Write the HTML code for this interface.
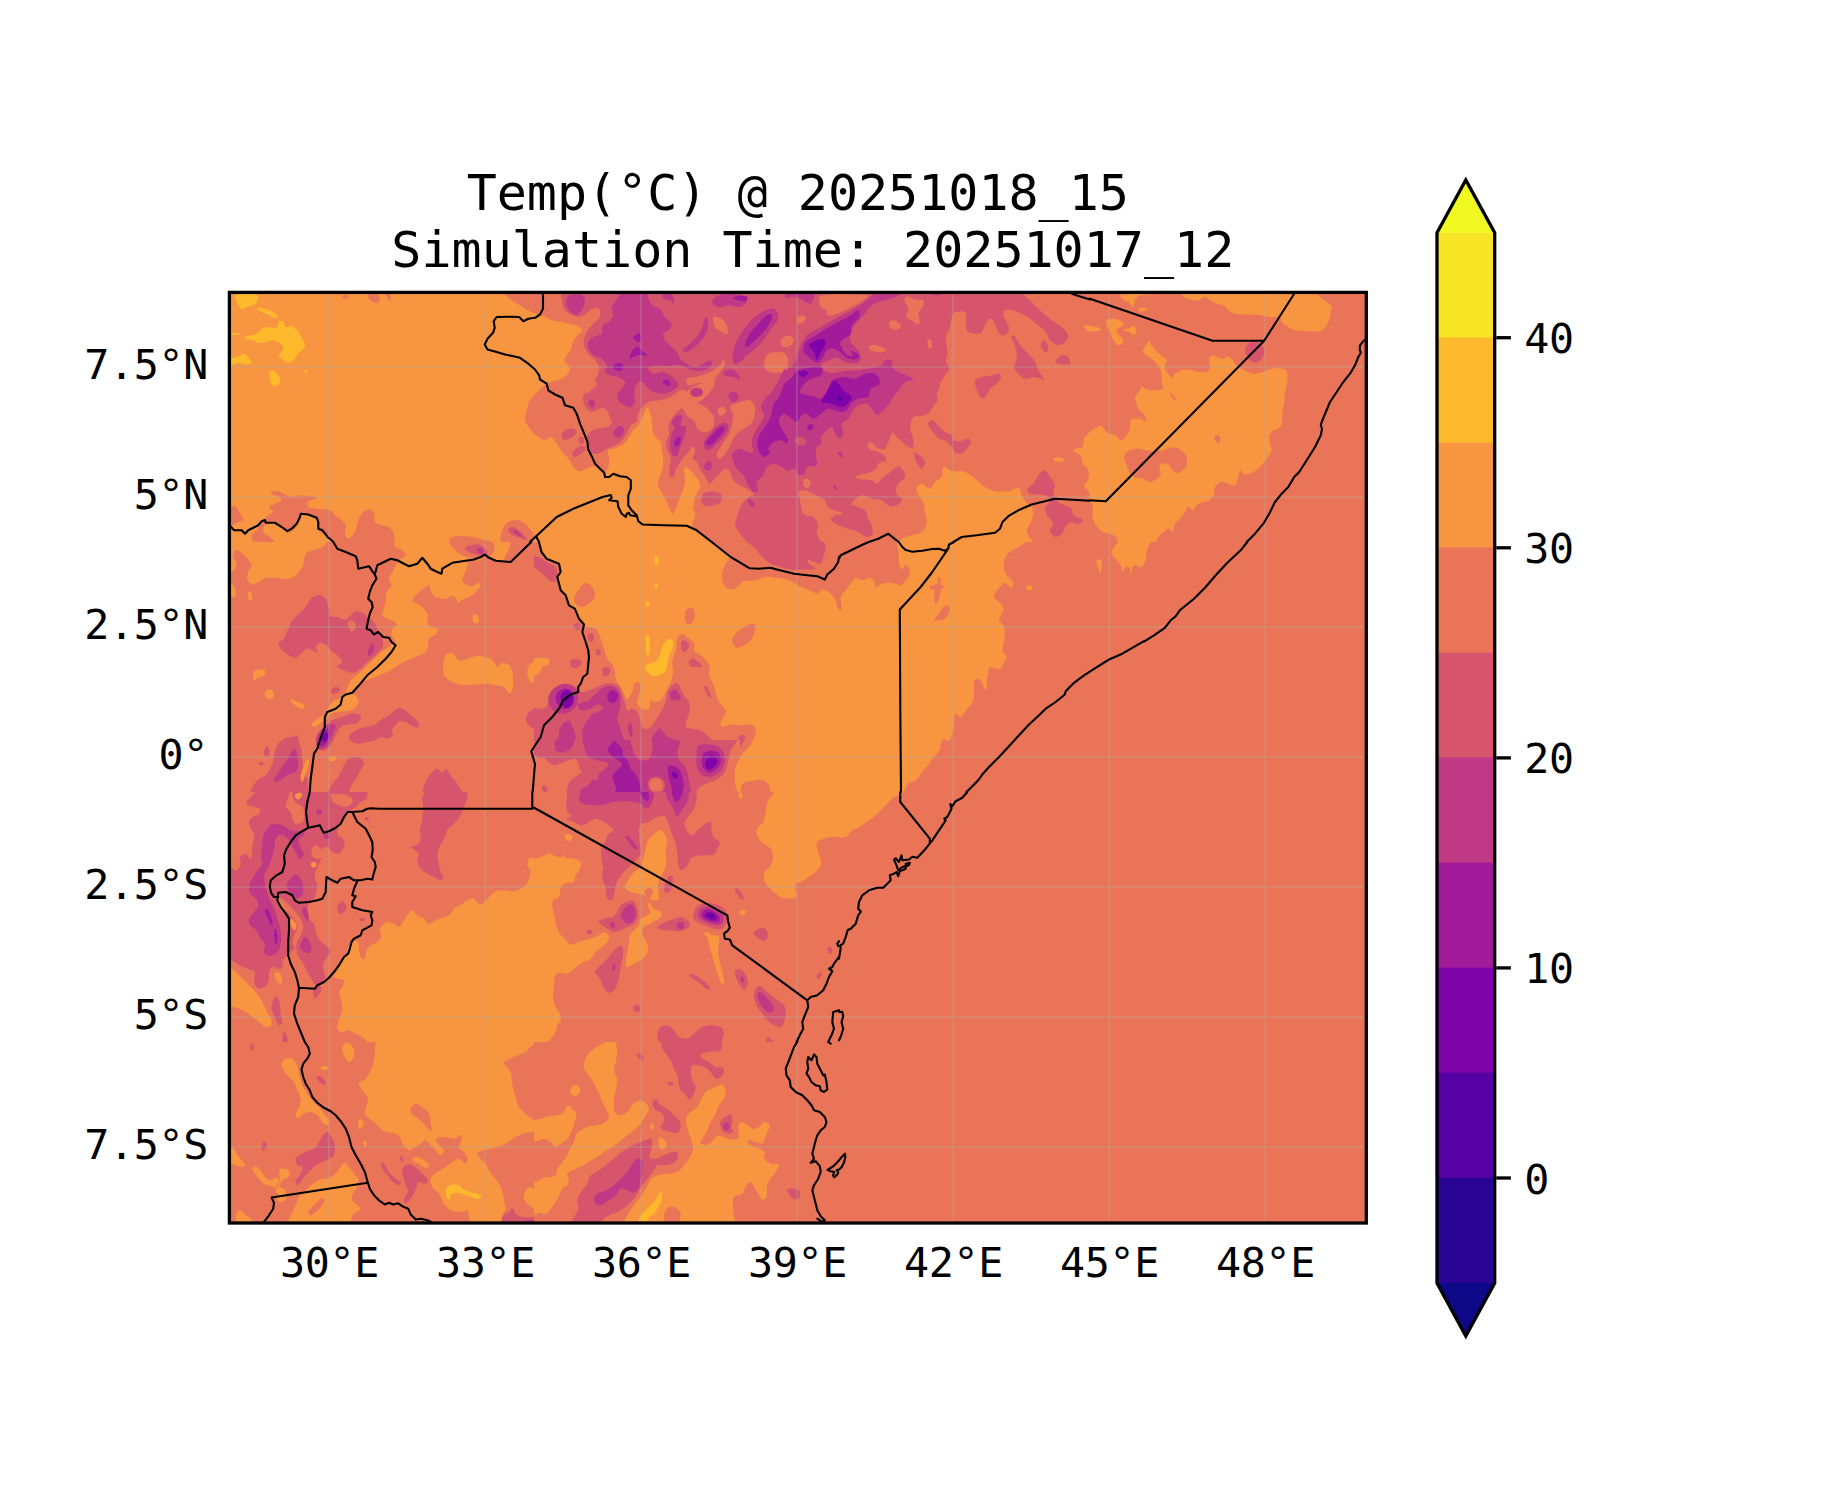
<!DOCTYPE html>
<html lang="en"><head><meta charset="utf-8"><title>Temp map</title>
<style>html,body{margin:0;padding:0;background:#fff}svg{display:block}text{font-family:"DejaVu Sans Mono","Liberation Mono",monospace;fill:#000}</style></head><body>
<svg width="1833" height="1500" viewBox="0 0 1833 1500">
<rect width="1833" height="1500" fill="#fff"/>
<defs><clipPath id="ax"><rect x="229.4" y="292.4" width="1136.9" height="930.6"/></clipPath></defs>
<g clip-path="url(#ax)">
<rect x="229.4" y="292.4" width="1136.9" height="930.6" fill="#ea7457"/>
<path fill="#f89540" d="M228.3 292L480 292L480 542L228.3 542ZM479.2 292L785 292L785 542L479.2 542ZM916.7 488.7C917.2 486.7 919.4 483.7 921.7 483.7C923.9 483.7 927.8 488.9 930 488.7C932.2 488.4 933.1 483.9 935 482C936.9 480.1 940.3 479.5 941.7 477C943.1 474.5 941.7 468 943.3 467C945 466 948.6 470.5 951.7 471.2C954.7 471.9 958.9 470.7 961.7 471.2C964.4 471.6 965.8 472.1 968.3 473.7C970.8 475.2 973.9 478.1 976.7 480.3C979.4 482.6 981.9 485.2 985 487C988.1 488.8 991.1 490.5 995 491.2C998.9 491.9 1004.4 491.7 1008.3 491.2C1012.2 490.6 1016.1 487.1 1018.3 487.8C1020.6 488.5 1020.4 493 1021.7 495.3C1022.9 497.7 1024.2 500.1 1025.8 502C1027.5 503.9 1030.4 504.8 1031.7 507C1032.9 509.2 1033.6 512.6 1033.3 515.3C1033.1 518.1 1031.1 520.9 1030 523.7C1028.9 526.4 1026.1 528.9 1026.7 532C1027.2 535.1 1033.3 542 1033.3 542C1033.3 542 900 542 900 542C900 542 899.7 539.8 901.7 538.7C903.6 537.6 908.3 536.4 911.7 535.3C915 534.2 919.2 533.9 921.7 532C924.2 530.1 926.1 527 926.7 523.7C927.2 520.3 925.6 515.6 925 512C924.4 508.4 924.4 504.8 923.3 502C922.2 499.2 919.4 497.6 918.3 495.3C917.2 493.1 916.1 490.6 916.7 488.7ZM1090 431.7C1090 431.7 1085.4 435.8 1084.2 438.3C1082.9 440.9 1083.9 445.4 1082.7 447C1081.4 448.6 1078.1 447.4 1076.5 448.2C1074.9 448.9 1072.6 450.1 1073.3 451.3C1074.1 452.6 1079.2 453.6 1080.8 455.8C1082.5 458 1082.1 462.3 1083.2 464.5C1084.3 466.7 1086.5 467.2 1087.5 468.8C1088.5 470.5 1089.3 472.5 1089.3 474.5C1089.3 476.5 1088.4 479 1087.5 480.8C1086.6 482.6 1083.7 483.9 1083.7 485.3C1083.7 486.8 1086.5 488.2 1087.5 489.7C1088.5 491.1 1089.4 492.6 1089.7 494C1089.9 495.4 1089.1 496.9 1089.2 498.3C1089.2 499.7 1090 502.3 1090 502.3C1090 502.3 1090 431.7 1090 431.7ZM1053.3 458.7C1053.8 458 1056.6 457.3 1058.3 457.3C1060.1 457.4 1063.1 458.3 1063.7 459C1064.2 459.7 1063 461.3 1061.7 461.7C1060.4 462.1 1057.2 461.8 1055.8 461.3C1054.4 460.8 1052.9 459.3 1053.3 458.7ZM1084.2 325.3C1084.6 324.5 1090 326.2 1090 326.2C1090 326.2 1090 332 1090 332C1090 332 1088.5 332.3 1087.5 331.2C1086.5 330.1 1083.8 326.2 1084.2 325.3ZM1090 431.7C1090 431.7 1094.7 428.8 1096.7 427.8C1098.6 426.9 1100 425.5 1101.7 426.2C1103.3 426.9 1104.4 430.5 1106.7 432C1108.9 433.5 1112.6 433.9 1115 435.3C1117.4 436.7 1118.9 440.3 1120.8 440.3C1122.8 440.3 1125.1 437.3 1126.7 435.3C1128.2 433.4 1129.3 431.2 1130 428.7C1130.7 426.2 1129.2 422 1130.8 420.3C1132.5 418.7 1137.5 418.4 1140 418.7C1142.5 418.9 1145 422.6 1145.8 422C1146.7 421.4 1146.2 417.6 1145 415.3C1143.8 413.1 1139.9 411.2 1138.3 408.7C1136.8 406.2 1136.4 402.3 1135.8 400.3C1135.3 398.4 1134.3 398.7 1135 397C1135.7 395.3 1138.9 392.1 1140 390.3C1141.1 388.5 1140.6 386.3 1141.7 386.2C1142.8 386 1144.2 388.8 1146.7 389.5C1149.2 390.2 1153.9 390.5 1156.7 390.3C1159.4 390.2 1161.8 389.8 1163.3 388.7C1164.9 387.6 1164.4 385.3 1165.8 383.7C1167.2 382 1170.1 380.3 1171.7 378.7C1173.2 377 1173.3 375.1 1175 373.7C1176.7 372.3 1179.2 371 1181.7 370.3C1184.2 369.6 1187.2 369.2 1190 369.5C1192.8 369.8 1195.6 371.6 1198.3 372C1201.1 372.4 1204.7 372.8 1206.7 372C1208.6 371.2 1209.6 369.2 1210 367C1210.4 364.8 1208.6 360.6 1209.2 358.7C1209.7 356.7 1211.8 355.5 1213.3 355.3C1214.9 355.2 1216.7 357.3 1218.3 357.8C1220 358.4 1221.9 358.9 1223.3 358.7C1224.7 358.4 1225.3 356.2 1226.7 356.2C1228.1 356.2 1230.3 357.4 1231.7 358.7C1233.1 359.9 1233.9 362.3 1235 363.7C1236.1 365.1 1236.7 365.9 1238.3 367C1240 368.1 1242.5 369.2 1245 370.3C1247.5 371.4 1250.3 373.4 1253.3 373.7C1256.4 373.9 1260.3 372.8 1263.3 372C1266.4 371.2 1268.6 369.2 1271.7 368.7C1274.7 368.1 1279.2 368.1 1281.7 368.7C1284.2 369.2 1285.7 370.1 1286.7 372C1287.6 373.9 1287.8 377 1287.5 380.3C1287.2 383.7 1285.6 388.4 1285 392C1284.4 395.6 1284.6 398.7 1284.2 402C1283.8 405.3 1282.9 408.4 1282.5 412C1282.1 415.6 1282.4 420.9 1281.7 423.7C1281 426.4 1279.9 427.4 1278.3 428.7C1276.8 429.9 1274 429.8 1272.5 431.2C1271 432.6 1269.6 434.9 1269.2 437C1268.8 439.1 1269.6 441.4 1270 443.7C1270.4 445.9 1272.2 447.8 1271.7 450.3C1271.1 452.8 1268.6 455.9 1266.7 458.7C1264.7 461.4 1262.2 464.8 1260 467C1257.8 469.2 1255.8 470.8 1253.3 472C1250.8 473.2 1247.2 474.8 1245 474.5C1242.8 474.2 1241.1 469.9 1240 470.3C1238.9 470.8 1239.2 474.5 1238.3 477C1237.5 479.5 1236.7 484.2 1235 485.3C1233.3 486.4 1230.6 484.2 1228.3 483.7C1226.1 483.1 1223.9 481.4 1221.7 482C1219.4 482.6 1216.2 485.1 1215 487C1213.8 488.9 1215 491.4 1214.2 493.7C1213.3 495.9 1211.8 498.9 1210 500.3C1208.2 501.7 1205.6 501.2 1203.3 502C1201.1 502.8 1198.3 503.9 1196.7 505.3C1195 506.7 1194.7 510.1 1193.3 510.3C1191.9 510.6 1189.7 506.7 1188.3 507C1186.9 507.3 1186.4 510.1 1185 512C1183.6 513.9 1181.7 516.7 1180 518.7C1178.3 520.6 1176.1 521.4 1175 523.7C1173.9 525.9 1174.4 531.2 1173.3 532C1172.2 532.8 1170 528.7 1168.3 528.7C1166.7 528.7 1165 530.6 1163.3 532C1161.7 533.4 1159.4 535.3 1158.3 537C1157.2 538.7 1156.7 542 1156.7 542C1156.7 542 1117.5 542 1117.5 542C1117.5 542 1117.3 537.4 1114.7 535.7C1112 533.9 1105.1 534.2 1101.5 531.3C1097.9 528.4 1094.2 522.4 1092.8 518.2C1091.4 513.9 1093.5 508.6 1093 506C1092.5 503.4 1090 502.3 1090 502.3C1090 502.3 1090 431.7 1090 431.7ZM1149.2 341.2C1150.1 341.2 1150.4 343.7 1151.7 345.3C1152.9 347 1154.7 349.2 1156.7 351.2C1158.6 353.1 1161.6 355.5 1163.3 357C1165.1 358.5 1166.7 358.9 1167 360.3C1167.3 361.7 1165.1 363.4 1165 365.3C1164.9 367.3 1165.6 369.8 1166.7 372C1167.8 374.2 1171.4 376.4 1171.7 378.7C1171.9 380.9 1169.7 383.8 1168.3 385.3C1166.9 386.9 1164.4 388.9 1163.3 387.8C1162.2 386.7 1162.1 381.6 1161.7 378.7C1161.2 375.8 1161.7 372.8 1160.8 370.3C1160 367.8 1158.2 365.6 1156.7 363.7C1155.1 361.7 1153.5 360.1 1151.7 358.7C1149.9 357.3 1147.3 356.6 1145.8 355.3C1144.4 354.1 1143 352.8 1143 351.2C1143 349.5 1144.8 347 1145.8 345.3C1146.9 343.7 1148.2 341.2 1149.2 341.2ZM1120.8 292C1120.8 292 1120.4 297 1121.7 298.7C1122.9 300.3 1126.4 300.6 1128.3 302C1130.3 303.4 1132.2 307.3 1133.3 307C1134.4 306.7 1134.2 302.1 1135 300.3C1135.8 298.5 1136.7 297.1 1138.3 296.2C1140 295.3 1141.9 295.3 1145 295C1148.1 294.7 1150.8 294.4 1156.7 294.3C1162.5 294.2 1175.6 293.9 1180 294.3C1184.4 294.8 1181.7 296.1 1183.3 297C1185 297.9 1187.5 298.9 1190 299.5C1192.5 300.1 1195.8 300.8 1198.3 300.3C1200.8 299.9 1203.1 297 1205 297C1206.9 297 1208.1 299.2 1210 300.3C1211.9 301.4 1214.4 302.8 1216.7 303.7C1218.9 304.5 1221.4 304.2 1223.3 305.3C1225.3 306.4 1226.4 308.9 1228.3 310.3C1230.3 311.7 1232.2 313 1235 313.7C1237.8 314.4 1241.4 314.4 1245 314.5C1248.6 314.6 1253.3 314.2 1256.7 314.5C1260 314.8 1262.2 315.8 1265 316.2C1267.8 316.6 1270.8 316.9 1273.3 317C1275.8 317.1 1278.6 316.2 1280 317C1281.4 317.8 1280.3 320.3 1281.7 322C1283.1 323.7 1286.1 325.6 1288.3 327C1290.6 328.4 1291.9 329.6 1295 330.3C1298.1 331 1302.5 331 1306.7 331.2C1310.8 331.3 1316.7 332.1 1320 331.2C1323.3 330.2 1325 327.7 1326.7 325.3C1328.3 323 1329.3 319.5 1330 317C1330.7 314.5 1330.4 312 1330.8 310.3C1331.2 308.7 1333.2 308.4 1332.5 307C1331.8 305.6 1328.8 303.7 1326.7 302C1324.6 300.3 1321.9 298.7 1320 297C1318.1 295.3 1315 292 1315 292C1315 292 1120.8 292 1120.8 292ZM1106.7 320.3C1107.8 319.2 1110.8 318.5 1113.3 318.7C1115.8 318.8 1120 320.1 1121.7 321.2C1123.3 322.3 1123.9 324.2 1123.3 325.3C1122.8 326.4 1119.4 326.7 1118.3 327.8C1117.2 328.9 1116.2 330.5 1116.7 332C1117.1 333.5 1119.7 335.3 1120.8 337C1121.9 338.7 1123.8 340.6 1123.3 342C1122.9 343.4 1120 345.6 1118.3 345.3C1116.7 345.1 1114.7 342.6 1113.3 340.3C1111.9 338.1 1111.1 334.5 1110 332C1108.9 329.5 1107.2 327.3 1106.7 325.3C1106.1 323.4 1105.6 321.4 1106.7 320.3ZM1124.2 329.5C1125 328.9 1128.3 328.4 1130 327.8C1131.7 327.3 1133.1 325.6 1134.2 326.2C1135.3 326.7 1136.8 329.7 1136.7 331.2C1136.5 332.6 1134.6 334.9 1133.3 335C1132.1 335.1 1130.6 332.3 1129.2 331.7C1127.8 331 1125.8 331.5 1125 331.2C1124.2 330.8 1123.3 330.1 1124.2 329.5ZM1090 326.2C1090 326.2 1094.7 326.4 1096.7 327C1098.6 327.6 1101.4 328.8 1101.7 329.5C1101.9 330.2 1100.3 330.9 1098.3 331.2C1096.4 331.4 1090 331.2 1090 331.2C1090 331.2 1090 326.2 1090 326.2ZM1138.7 308.3C1139.6 307.8 1144.5 307.5 1145.8 307.8C1147.2 308.2 1147.6 309.8 1146.7 310.3C1145.7 310.9 1141.3 311.7 1140 311.3C1138.7 311 1137.7 308.9 1138.7 308.3ZM229 542C229 542 327.3 542 327.3 542C327.3 542 324.8 545.6 322.3 547C319.8 548.4 315.1 549.2 312.3 550.3C309.6 551.4 307.1 552 305.7 553.7C304.3 555.3 304.6 558.1 304 560.3C303.4 562.6 303.4 564.8 302.3 567C301.2 569.2 299 571.9 297.3 573.7C295.7 575.5 294.6 576.9 292.3 577.8C290.1 578.7 286.8 579 284 579C281.2 579 278.7 578 275.7 577.8C272.6 577.6 268.4 577.1 265.7 577.8C262.9 578.5 261.2 580.9 259 582C256.8 583.1 254.3 584.9 252.3 584.5C250.4 584.1 248 581.6 247.3 579.5C246.6 577.4 247.5 574.4 248.2 572C248.9 569.6 251.6 567.6 251.5 565.3C251.4 563.1 249.1 560.9 247.3 558.7C245.5 556.4 242.6 553.4 240.7 552C238.7 550.6 236.9 549.5 235.7 550.3C234.4 551.2 233 554.8 233.2 557C233.3 559.2 236.4 561.4 236.5 563.7C236.6 565.9 235.2 568.9 234 570.3C232.8 571.7 229 572 229 572C229 572 229 542 229 542ZM393.2 542C393.2 542 510.7 542 510.7 542C510.7 542 509.8 546.4 509 548.7C508.2 550.9 506.8 553.4 505.7 555.3C504.6 557.3 504.3 559.8 502.3 560.3C500.4 560.9 496.2 559.5 494 558.7C491.8 557.8 490.4 555.6 489 555.3C487.6 555.1 487.3 556.2 485.7 557C484 557.8 481.8 559.6 479 560.3C476.2 561 470.9 560.1 469 561.2C467.1 562.3 468 564.9 467.3 567C466.6 569.1 465.7 571.6 464.8 573.7C464 575.8 462.2 577.7 462.3 579.5C462.5 581.3 464 583.4 465.7 584.5C467.3 585.6 470.1 586.4 472.3 586.2C474.6 585.9 477.6 583 479 582.8C480.4 582.7 481.2 583.8 480.7 585.3C480.1 586.9 477.6 590.1 475.7 592C473.7 593.9 471.2 595.8 469 597C466.8 598.2 464.1 598.5 462.3 599.5C460.5 600.5 459.6 603.4 458.2 602.8C456.8 602.3 456.1 596.9 454 596.2C451.9 595.5 448.4 598.4 445.7 598.7C442.9 598.9 439.7 598.8 437.3 597.8C435 596.9 432.9 594.9 431.5 592.8C430.1 590.8 430.5 586.2 429 585.7C427.5 585.1 424.4 588 422.3 589.5C420.3 591 418.2 592.7 416.5 594.5C414.8 596.3 412.2 598.8 412.3 600.3C412.5 601.9 415.7 602.6 417.3 603.7C419 604.8 420.5 605.1 422.3 607C424.1 608.9 427.3 612.8 428.2 615.3C429 617.8 427.1 620.2 427.3 622C427.6 623.8 428.2 625.1 429.8 626.2C431.5 627.3 436.4 627.3 437.3 628.7C438.3 630.1 437.1 632.8 435.7 634.5C434.3 636.2 430.2 636.7 429 638.7C427.8 640.6 428.7 643.9 428.2 646.2C427.6 648.4 427.5 650.3 425.7 652C423.9 653.7 420.1 654.9 417.3 656.2C414.6 657.4 411.5 658.4 409 659.5C406.5 660.6 404.6 661.6 402.3 662.8C400.1 664.1 398.2 665.5 395.7 667C393.2 668.5 390.1 670.6 387.3 672C384.6 673.4 381.8 674.2 379 675.3C376.2 676.4 373.4 677.6 370.7 678.7C367.9 679.8 364.7 680.5 362.3 682C360 683.5 358 686 356.5 687.8C355 689.6 353 691.2 353.2 692.8C353.3 694.5 356.5 696.2 357.3 697.8C358.2 699.5 358.7 701 358.2 702.8C357.6 704.6 356.1 707.3 354 708.7C351.9 710.1 348.7 710.6 345.7 711.2C342.6 711.8 338.4 711.6 335.7 712.3C332.9 713 330.8 714.1 329 715.3C327.2 716.5 326.4 718.1 324.8 719.5C323.3 720.9 321.6 722.4 319.8 723.7C318 724.9 315.3 727 314 727C312.7 727 311.7 724.8 312 723.7C312.3 722.5 313.9 721.3 315.7 720C317.4 718.7 320.5 717.1 322.3 715.7C324.1 714.2 325.4 712.8 326.5 711.2C327.6 709.6 327.9 707.8 329 706.2C330.1 704.5 331.5 702.4 333.2 701.2C334.8 699.9 336.9 700.2 339 698.7C341.1 697.1 344.1 694.2 345.7 692C347.2 689.8 347.1 687.6 348.2 685.3C349.3 683.1 350 681.2 352.3 678.7C354.7 676.2 359 673.4 362.3 670.3C365.7 667.3 369.6 663.1 372.3 660.3C375.1 657.6 376.8 655.6 379 653.7C381.2 651.7 383.6 650.2 385.7 648.7C387.7 647.1 389.8 645.6 391.5 644.5C393.2 643.4 395.7 643.5 395.7 642C395.7 640.5 392.1 637.6 391.5 635.3C390.9 633.1 391.5 630.3 392.3 628.7C393.2 627 396.2 626.6 396.5 625.3C396.8 624.1 395.5 622.3 394 621.2C392.5 620.1 389.3 619.6 387.3 618.7C385.4 617.7 382.9 617 382.3 615.3C381.8 613.7 383.4 611.2 384 608.7C384.6 606.2 385.2 603.1 385.7 600.3C386.1 597.6 385.5 594.5 386.5 592C387.5 589.5 391.1 587.6 391.5 585.3C391.9 583.1 388.7 581.2 389 578.7C389.3 576.2 391.5 573.4 393.2 570.3C394.8 567.3 396.9 562.8 399 560.3C401.1 557.8 405.1 557 405.7 555.3C406.2 553.7 404 551.7 402.3 550.3C400.7 548.9 397.2 548.4 395.7 547C394.1 545.6 393.2 542 393.2 542ZM444 658.7C444.7 656.4 445.7 654.4 447.3 653.7C449 653 452.1 653.4 454 654.5C455.9 655.6 456.8 659.6 459 660.3C461.2 661 464.6 659.4 467.3 658.7C470.1 658 472.6 656.4 475.7 656.2C478.7 655.9 482.9 656.3 485.7 657C488.4 657.7 490.4 658.7 492.3 660.3C494.3 662 495.7 666.6 497.3 667C499 667.4 500.4 663.1 502.3 662.8C504.3 662.6 507.3 663.8 509 665.3C510.7 666.9 511.6 669.5 512.3 672C513 674.5 513.2 677.3 513.2 680.3C513.2 683.4 513 688.2 512.3 690.3C511.6 692.4 510.4 693.4 509 692.8C507.6 692.3 506.2 688.2 504 687C501.8 685.8 498.4 685.9 495.7 685.3C492.9 684.8 490.7 683.8 487.3 683.7C484 683.5 479.3 684.2 475.7 684.5C472.1 684.8 468.7 685.5 465.7 685.3C462.6 685.2 460.1 684.5 457.3 683.7C454.6 682.8 451.2 681.7 449 680.3C446.8 678.9 445 677.6 444 675.3C443 673.1 443.2 669.8 443.2 667C443.2 664.2 443.3 660.9 444 658.7ZM534 662C534 662 530.1 663.4 529 665.3C527.9 667.3 527.1 670.9 527.3 673.7C527.6 676.4 529.6 680.6 530.7 682C531.8 683.4 534 682 534 682C534 682 534 662 534 662ZM253.2 672C254 670.2 257.1 669.8 259 669.5C260.9 669.2 264 669.4 264.8 670.3C265.7 671.3 265.2 674.1 264 675.3C262.8 676.6 259 677 257.3 677.8C255.7 678.7 254.7 681.3 254 680.3C253.3 679.4 252.3 673.8 253.2 672ZM265.3 691.2C266.4 689.9 270.9 689.3 272.3 690C273.8 690.7 274.1 693.9 274 695.3C273.9 696.8 272.8 698.2 271.5 698.7C270.2 699.1 267 699.1 266 697.8C265 696.6 264.3 692.5 265.3 691.2ZM290.3 698.7C290.9 698.4 293.4 700.2 295.7 701.2C297.9 702.1 302.8 703.2 304 704.5C305.2 705.8 304.3 708.8 303.2 709.2C302.1 709.6 299.1 708.1 297.3 707C295.5 705.9 293.5 704.2 292.3 702.8C291.2 701.4 289.8 698.9 290.3 698.7ZM472.7 616.2C473.1 614.8 474.6 613.6 475.7 614C476.7 614.4 478.7 617.1 479 618.7C479.3 620.2 478.3 622.8 477.3 623.3C476.4 623.9 473.9 623.2 473.2 622C472.4 620.8 472.2 617.5 472.7 616.2ZM231.5 584.5C232.3 583.7 234.1 585.2 234.8 587C235.5 588.8 236.1 593.7 235.7 595.3C235.2 597 233.3 597.6 232.3 597C231.4 596.4 230 594.1 229.8 592C229.7 589.9 230.7 585.3 231.5 584.5ZM248.2 592C248.6 590.9 250.9 592.4 251.5 593.7C252.1 594.9 252.4 598.4 252 599.5C251.6 600.6 249.6 601.6 249 600.3C248.4 599.1 247.8 593.1 248.2 592ZM329.3 756.7C330.3 755.9 334.6 755.6 335.7 756.2C336.7 756.8 336.6 759.6 335.7 760.3C334.7 761.1 330.9 761.3 329.8 760.7C328.8 760.1 328.4 757.4 329.3 756.7ZM534 542L839 542L839 792L534 792ZM839 610.3C839 610.3 841.2 610.9 841.5 608.7C841.8 606.4 840 600.1 840.7 597C841.4 593.9 844 592.6 845.7 590.3C847.3 588.1 849 585.8 850.7 583.7C852.3 581.6 853.7 578.4 855.7 577.8C857.6 577.3 860.1 580.3 862.3 580.3C864.6 580.3 867.1 577.8 869 577.8C870.9 577.8 872.9 578.8 874 580.3C875.1 581.9 874.3 586.4 875.7 587C877.1 587.6 880.1 584.4 882.3 583.7C884.6 583 886.8 582.8 889 582.8C891.2 582.8 893.7 583.2 895.7 583.7C897.6 584.1 899 585.9 900.7 585.3C902.3 584.8 904.1 582.3 905.7 580.3C907.2 578.4 909.3 575.6 909.8 573.7C910.4 571.7 909.7 570.1 909 568.7C908.3 567.3 906.9 565.2 905.7 565.3C904.4 565.5 902.6 570.1 901.5 569.5C900.4 568.9 899.6 564.9 899 562C898.4 559.1 898.4 554.8 898.2 552C897.9 549.2 897.6 547 897.3 545.3C897.1 543.7 896.5 542 896.5 542C896.5 542 1025.7 542 1025.7 542C1025.7 542 1021.5 545.5 1019 547C1016.5 548.5 1012.9 549.5 1010.7 551.2C1008.4 552.8 1006.8 554.6 1005.7 557C1004.6 559.4 1004 562.6 1004 565.3C1004 568.1 1004.6 571.4 1005.7 573.7C1006.8 575.9 1009.4 577 1010.7 578.7C1011.9 580.3 1013.2 582.1 1013.2 583.7C1013.2 585.2 1011.9 588 1010.7 587.8C1009.4 587.7 1007.2 583.2 1005.7 582.8C1004.1 582.4 1003 583.9 1001.5 585.3C1000 586.7 997.8 589.2 996.5 591.2C995.2 593.1 993.6 595.2 994 597C994.4 598.8 997.5 600.3 999 602C1000.5 603.7 1002.5 605.3 1003.2 607C1003.9 608.7 1003.9 609.9 1003.2 612C1002.5 614.1 999 617.3 999 619.5C999 621.7 1002.2 623.5 1003.2 625.3C1004.1 627.1 1004.7 627.6 1004.8 630.3C1005 633.1 1004.4 638.7 1004 642C1003.6 645.3 1001.9 647.8 1002.3 650.3C1002.8 652.8 1006.2 655.1 1006.5 657C1006.8 658.9 1005.2 659.9 1004 662C1002.8 664.1 1001.4 668.7 999 669.5C996.6 670.3 991.6 666.3 989.8 667C988 667.7 988.7 671.4 988.2 673.7C987.6 675.9 986.6 678.1 986.5 680.3C986.4 682.6 987.6 685.5 987.3 687C987.1 688.5 985.9 690.6 984.8 689.5C983.7 688.4 982.3 682 980.7 680.3C979 678.7 975.9 678.1 974.8 679.5C973.7 680.9 974.3 685.2 974 688.7C973.7 692.1 974.3 697 973.2 700.3C972.1 703.7 969.4 705.9 967.3 708.7C965.2 711.4 962.6 716.2 960.7 717C958.7 717.8 956.8 712.8 955.7 713.7C954.6 714.5 954.4 718.9 954 722C953.6 725.1 954 728.9 953.2 732C952.3 735.1 950.8 739.1 949 740.3C947.2 741.6 943.9 738.1 942.3 739.5C940.8 740.9 940.9 746 939.8 748.7C938.7 751.3 937.5 752.8 935.7 755.3C933.9 757.8 931.2 760.9 929 763.7C926.8 766.4 924.6 769.2 922.3 772C920.1 774.8 917.9 778.5 915.7 780.3C913.4 782.1 910.7 781.4 909 782.8C907.3 784.2 906.5 787.1 905.7 788.7C904.8 790.2 904 792 904 792C904 792 839 792 839 792C839 792 839 610.3 839 610.3ZM1119 542C1119 542 1115.2 545.1 1114 547C1112.8 548.9 1111.2 551.7 1111.5 553.7C1111.8 555.6 1114.1 556.7 1115.7 558.7C1117.2 560.6 1119.6 563.2 1120.7 565.3C1121.8 567.4 1121.5 570.9 1122.3 571.2C1123.2 571.4 1124.4 567.4 1125.7 567C1126.9 566.6 1129.1 567 1129.8 568.7C1130.5 570.3 1129.6 576.7 1129.8 577C1130.1 577.3 1130.8 572.3 1131.5 570.3C1132.2 568.4 1132.5 565.9 1134 565.3C1135.5 564.8 1139 567 1140.7 567C1142.3 567 1144 565.3 1144 565.3C1144 565.3 1144 542 1144 542C1144 542 1119 542 1119 542ZM1096.5 560.3C1097.1 559.2 1100.7 558.9 1101.5 560C1102.3 561.1 1101.8 564.9 1101.5 567C1101.2 569.1 1100.5 572.8 1099.8 572.8C1099.2 572.8 1098.2 569.1 1097.7 567C1097.1 564.9 1095.9 561.5 1096.5 560.3ZM1026.5 586.2C1027.3 585.5 1031.6 585 1032.3 585.7C1033 586.4 1031.5 589.7 1030.7 590.3C1029.8 591 1028 590.2 1027.3 589.5C1026.6 588.8 1025.7 586.8 1026.5 586.2ZM1144 542C1144 542 1150.7 542 1150.7 542C1150.7 542 1148.2 547.3 1147.3 550.3C1146.5 553.4 1146.2 558.4 1145.7 560.3C1145.1 562.3 1144 562 1144 562C1144 562 1144 542 1144 542ZM534 857.8C534 857.8 530.1 857.4 529 858.7C527.9 859.9 527.1 863.1 527.3 865.3C527.6 867.6 530.4 869.8 530.7 872C530.9 874.2 529.8 876.4 529 878.7C528.2 880.9 527.3 883.5 525.7 885.3C524 887.1 521.2 888.5 519 889.5C516.8 890.5 514.8 891 512.3 891.2C509.8 891.3 506.8 890.3 504 890.3C501.2 890.3 498.2 890.1 495.7 891.2C493.2 892.3 491.2 894.9 489 897C486.8 899.1 484.3 902.7 482.3 903.7C480.4 904.6 478.6 903.7 477.3 902.8C476.1 902 476.2 899.2 474.8 898.7C473.4 898.1 471.1 898.7 469 899.5C466.9 900.3 464.8 902.1 462.3 903.7C459.8 905.2 456.2 906.7 454 908.7C451.8 910.6 451.5 913.7 449 915.3C446.5 917 442.3 917.3 439 918.7C435.7 920.1 431.5 923.7 429 923.7C426.5 923.7 425.9 920.1 424 918.7C422.1 917.3 419.3 916.7 417.3 915.3C415.4 913.9 413.9 910.6 412.3 910.3C410.8 910.1 409.6 912 408.2 913.7C406.8 915.3 405.5 918.1 404 920.3C402.5 922.6 400.7 926.4 399 927C397.3 927.6 395.9 924.5 394 923.7C392.1 922.8 389.3 921.7 387.3 922C385.4 922.3 383.6 923.9 382.3 925.3C381.1 926.7 380 928.4 379.8 930.3C379.7 932.3 381.9 935.1 381.5 937C381.1 938.9 379.1 940.6 377.3 942C375.5 943.4 372.5 943.9 370.7 945.3C368.9 946.7 367.5 948.1 366.5 950.3C365.5 952.6 365.8 957.6 364.8 958.7C363.9 959.8 361.6 958.4 360.7 957C359.7 955.6 359.4 952.8 359 950.3C358.6 947.8 359 943.5 358.2 942C357.3 940.5 355.5 940.6 354 941.2C352.5 941.7 350.1 943.5 349 945.3C347.9 947.1 348.2 949.8 347.3 952C346.5 954.2 345.4 956.4 344 958.7C342.6 960.9 340.4 963.1 339 965.3C337.6 967.6 336.6 970.1 335.7 972C334.7 973.9 332.6 975.9 333.2 977C333.7 978.1 337.2 978.1 339 978.7C340.8 979.2 343.4 978.9 344 980.3C344.6 981.7 343.2 985.1 342.3 987C341.5 988.9 339.3 990.1 339 992C338.7 993.9 340.1 996.2 340.7 998.7C341.2 1001.2 342.3 1004.2 342.3 1007C342.3 1009.8 341.4 1012.8 340.7 1015.3C340 1017.8 338.7 1019.8 338.2 1022C337.6 1024.2 336.6 1027 337.3 1028.7C338 1030.3 340.4 1031.7 342.3 1032C344.3 1032.3 346.8 1030.1 349 1030.3C351.2 1030.6 353.4 1032.6 355.7 1033.7C357.9 1034.8 360.4 1035.6 362.3 1037C364.3 1038.4 367.3 1042 367.3 1042C367.3 1042 534 1042 534 1042C534 1042 534 857.8 534 857.8ZM229 967C229 967 232.3 968.9 234 970.3C235.7 971.7 237.3 973.7 239 975.3C240.7 977 242.1 978.4 244 980.3C245.9 982.3 248.7 985.1 250.7 987C252.6 988.9 254 990.1 255.7 992C257.3 993.9 259.3 996.4 260.7 998.7C262.1 1000.9 262.8 1002.8 264 1005.3C265.2 1007.8 266.9 1011.2 268.2 1013.7C269.4 1016.2 271.1 1018.4 271.5 1020.3C271.9 1022.3 271.6 1024.2 270.7 1025.3C269.7 1026.4 267.6 1027.6 265.7 1027C263.7 1026.4 261.2 1023.7 259 1022C256.8 1020.3 254.6 1018.7 252.3 1017C250.1 1015.3 247.9 1013.4 245.7 1012C243.4 1010.6 240.9 1009.5 239 1008.7C237.1 1007.8 235.7 1007.6 234 1007C232.3 1006.4 229 1005.3 229 1005.3C229 1005.3 229 967 229 967ZM534 858.7C534 858.7 538.2 857.8 540.7 857C543.2 856.2 546.5 853.8 549 853.7C551.5 853.5 553.4 855.6 555.7 856.2C557.9 856.7 561.1 858 562.3 857C563.6 856 562.8 850.3 563.2 850.3C563.6 850.3 563 855.6 564.8 857C566.6 858.4 571.4 857.8 574 858.7C576.6 859.5 579.7 860.3 580.7 862C581.6 863.7 580.7 866.4 579.8 868.7C579 870.9 576.6 873.1 575.7 875.3C574.7 877.6 575.4 880.8 574 882C572.6 883.2 569.3 882.3 567.3 882.8C565.4 883.4 563.6 883.8 562.3 885.3C561.1 886.9 560.4 890.1 559.8 892C559.3 893.9 560.1 895.6 559 897C557.9 898.4 554.3 898.7 553.2 900.3C552.1 902 552.1 904.2 552.3 907C552.6 909.8 554.1 913.9 554.8 917C555.5 920.1 555.7 922.6 556.5 925.3C557.3 928.1 558.3 931.3 559.8 933.7C561.4 936 563.9 937.7 565.7 939.5C567.5 941.3 568.4 944.1 570.7 944.5C572.9 944.9 576.2 942.8 579 942C581.8 941.2 584.6 940.3 587.3 939.5C590.1 938.7 593.2 938.1 595.7 937C598.2 935.9 600.4 933.4 602.3 932.8C604.3 932.3 606.2 932.7 607.3 933.7C608.4 934.6 609.3 937 609 938.7C608.7 940.3 607.1 942.1 605.7 943.7C604.3 945.2 602.3 946.4 600.7 947.8C599 949.2 597.3 950.2 595.7 952C594 953.8 592.6 957 590.7 958.7C588.7 960.3 586.2 960.8 584 962C581.8 963.2 579.3 964.8 577.3 966.2C575.4 967.6 574 969.1 572.3 970.3C570.7 971.6 569.6 973.2 567.3 973.7C565.1 974.1 561.1 972.3 559 972.8C556.9 973.4 555.7 974.9 554.8 977C554 979.1 554.3 982 554 985.3C553.7 988.7 552.9 993.4 553.2 997C553.4 1000.6 554.6 1004.2 555.7 1007C556.8 1009.8 559 1011.4 559.8 1013.7C560.7 1015.9 561.1 1018.4 560.7 1020.3C560.2 1022.3 558.2 1023.4 557.3 1025.3C556.5 1027.3 556.8 1029.8 555.7 1032C554.6 1034.2 552.1 1037 550.7 1038.7C549.3 1040.3 547.3 1042 547.3 1042C547.3 1042 534 1042 534 1042C534 1042 534 858.7 534 858.7ZM624.8 887C624.6 884.8 627.5 881.2 629 878.7C630.5 876.2 632.1 873.9 634 872C635.9 870.1 639.1 869.2 640.7 867C642.2 864.8 642.3 861.7 643.2 858.7C644 855.6 645 851.4 645.7 848.7C646.4 845.9 646.5 843.9 647.3 842C648.2 840.1 649 838.8 650.7 837C652.3 835.2 655.5 832.3 657.3 831.2C659.1 830.1 660.1 829.6 661.5 830.3C662.9 831 664.7 833.4 665.7 835.3C666.6 837.3 667.3 839.5 667.3 842C667.3 844.5 665.8 847.6 665.7 850.3C665.5 853.1 666.5 855.9 666.5 858.7C666.5 861.4 666.4 864.5 665.7 867C665 869.5 663.4 871.4 662.3 873.7C661.2 875.9 659.7 877.8 659 880.3C658.3 882.8 658.2 885.6 658.2 888.7C658.2 891.7 659.7 896.7 659 898.7C658.3 900.6 655.7 900.3 654 900.3C652.3 900.3 650.7 899.5 649 898.7C647.3 897.8 645.9 896.2 644 895.3C642.1 894.5 639.6 894.2 637.3 893.7C635.1 893.1 632.8 893.1 630.7 892C628.6 890.9 625.1 889.2 624.8 887ZM649 902C650 902.3 652.1 907 654 908.7C655.9 910.3 659.4 910.8 660.7 912C661.9 913.2 662.3 914.8 661.5 916.2C660.7 917.6 657.5 919.1 655.7 920.3C653.9 921.6 652.6 922.6 650.7 923.7C648.7 924.8 645.4 925.3 644 927C642.6 928.7 642.1 931.4 642.3 933.7C642.6 935.9 644.7 938.1 645.7 940.3C646.6 942.6 648.2 944.5 648.2 947C648.2 949.5 646.9 953.1 645.7 955.3C644.4 957.6 642.6 958.9 640.7 960.3C638.7 961.7 636.2 962.6 634 963.7C631.8 964.8 628.7 967.3 627.3 967C625.9 966.7 625.7 964.2 625.7 962C625.7 959.8 626.8 957 627.3 953.7C627.9 950.3 628.6 945.1 629 942C629.4 938.9 629 937.3 629.8 935.3C630.7 933.4 632.5 932 634 930.3C635.5 928.7 637.9 927.3 639 925.3C640.1 923.4 639.3 920.3 640.7 918.7C642.1 917 645.7 916.4 647.3 915.3C649 914.2 650.5 913.4 650.7 912C650.8 910.6 648.4 908.7 648.2 907C647.9 905.3 648 901.7 649 902ZM765.7 812C766.4 808.7 766.2 804.8 767.3 802C768.4 799.2 771.2 797 772.3 795.3C773.4 793.7 774 792 774 792C774 792 839 792 839 792C839 792 839 837 839 837C839 837 834.8 836.7 832.3 837C829.8 837.3 826.5 837.8 824 838.7C821.5 839.5 818.4 840.1 817.3 842C816.2 843.9 816.8 847.6 817.3 850.3C817.9 853.1 820.1 856.2 820.7 858.7C821.2 861.2 821.5 863.1 820.7 865.3C819.8 867.6 817.6 870.1 815.7 872C813.7 873.9 811.5 875.3 809 877C806.5 878.7 802.9 880.9 800.7 882C798.4 883.1 796.5 882 795.7 883.7C794.8 885.3 795.5 889.9 795.7 892C795.8 894.1 797.3 895.1 796.5 896.2C795.7 897.3 793.3 898.5 790.7 898.7C788 898.8 783.4 898.1 780.7 897C777.9 895.9 776.2 893.9 774 892C771.8 890.1 769 887.6 767.3 885.3C765.7 883.1 764.4 880.9 764 878.7C763.6 876.4 763.7 874.2 764.8 872C765.9 869.8 769.3 867.8 770.7 865.3C772.1 862.8 773.2 859.8 773.2 857C773.2 854.2 772.2 850.9 770.7 848.7C769.1 846.4 765.9 845.3 764 843.7C762.1 842 760.2 840.8 759 838.7C757.8 836.6 756.6 833.1 756.5 831.2C756.4 829.2 757.1 828.5 758.2 827C759.3 825.5 761.9 824.5 763.2 822C764.4 819.5 765 815.3 765.7 812ZM704 933.7C704 932.7 705.9 931.7 707.3 932C708.7 932.3 710.4 934.6 712.3 935.3C714.3 936 717.9 935.1 719 936.2C720.1 937.3 719.1 939.4 719 942C718.9 944.6 718 948.7 718.2 952C718.3 955.3 719.1 958.7 719.8 962C720.5 965.3 721.6 968.7 722.3 972C723 975.3 724.1 980.1 724 982C723.9 983.9 722.5 984.8 721.5 983.7C720.5 982.6 719.3 978.7 718.2 975.3C717.1 972 715.9 967.3 714.8 963.7C713.7 960.1 712.5 957 711.5 953.7C710.5 950.3 709.7 946.3 709 943.7C708.3 941 708.2 939.5 707.3 937.8C706.5 936.2 704 934.6 704 933.7ZM564.8 835.3C565.2 834.2 567.7 833.4 569 833.7C570.3 833.9 572.5 835.8 572.7 837C572.8 838.2 570.9 840.6 569.8 841.2C568.8 841.7 567.3 841.3 566.5 840.3C565.7 839.4 564.4 836.4 564.8 835.3ZM738.2 793.7C738.4 792.7 740.8 792.3 741.5 792.8C742.2 793.4 742.9 796 742.7 797C742.4 798 740.6 799.2 739.8 798.7C739.1 798.1 737.9 794.6 738.2 793.7ZM739.3 911.2C739.9 910.4 742.1 909.3 743.2 909.5C744.3 909.7 746 911.4 746 912.3C746 913.2 744.2 914.7 743.2 915C742.1 915.3 740.5 914.6 739.8 914C739.2 913.4 738.8 911.9 739.3 911.2ZM839 792C839 792 904 792 904 792C904 792 902.3 794.5 900.7 795.3C899 796.2 895.9 795.9 894 797C892.1 798.1 890.9 800.1 889 802C887.1 803.9 884.6 806.4 882.3 808.7C880.1 810.9 877.9 813.4 875.7 815.3C873.4 817.3 871.2 818.7 869 820.3C866.8 822 864.6 823.9 862.3 825.3C860.1 826.7 857.6 827.7 855.7 828.7C853.7 829.6 852.1 829.9 850.7 831.2C849.3 832.4 849.3 835.1 847.3 836.2C845.4 837.3 839 837.8 839 837.8C839 837.8 839 792 839 792ZM375.7 1042C375.7 1042 375.1 1047.3 374.8 1050.3C374.6 1053.4 374.7 1057 374 1060.3C373.3 1063.7 372.1 1067.3 370.7 1070.3C369.3 1073.4 367.6 1076.4 365.7 1078.7C363.7 1080.9 359.6 1081.7 359 1083.7C358.4 1085.6 360.9 1088.1 362.3 1090.3C363.7 1092.6 366.5 1094.8 367.3 1097C368.2 1099.2 367.8 1101.2 367.3 1103.7C366.9 1106.2 364.8 1109.8 364.8 1112C364.8 1114.2 365.8 1115.3 367.3 1117C368.9 1118.7 372.1 1120.3 374 1122C375.9 1123.7 377.1 1125.3 379 1127C380.9 1128.7 382.9 1130.9 385.7 1132C388.4 1133.1 393.2 1132.6 395.7 1133.7C398.2 1134.8 399.6 1137 400.7 1138.7C401.8 1140.3 400.9 1141.7 402.3 1143.7C403.7 1145.6 407.3 1149.5 409 1150.3C410.7 1151.2 410.4 1149.8 412.3 1148.7C414.3 1147.6 418.4 1145.1 420.7 1143.7C422.9 1142.3 424 1140.1 425.7 1140.3C427.3 1140.6 429 1143.7 430.7 1145.3C432.3 1147 434 1148.7 435.7 1150.3C437.3 1152 439.3 1155.3 440.7 1155.3C442.1 1155.3 444.3 1152 444 1150.3C443.7 1148.7 440.4 1147.3 439 1145.3C437.6 1143.4 434.6 1140.1 435.7 1138.7C436.8 1137.3 442.6 1137 445.7 1137C448.7 1137 451.4 1138.9 454 1138.7C456.6 1138.4 460.4 1134.8 461.5 1135.3C462.6 1135.9 461.1 1139.8 460.7 1142C460.2 1144.2 458.4 1147 459 1148.7C459.6 1150.3 462.6 1150.3 464 1152C465.4 1153.7 467.1 1156.7 467.3 1158.7C467.6 1160.6 467.1 1163.7 465.7 1163.7C464.3 1163.7 461.2 1158.9 459 1158.7C456.8 1158.4 454.6 1160.6 452.3 1162C450.1 1163.4 448.2 1165.3 445.7 1167C443.2 1168.7 439.8 1170.1 437.3 1172C434.8 1173.9 431.5 1176.2 430.7 1178.7C429.8 1181.2 430.9 1184.5 432.3 1187C433.7 1189.5 437.1 1190.9 439 1193.7C440.9 1196.4 442.1 1200.9 444 1203.7C445.9 1206.4 447.9 1208.9 450.7 1210.3C453.4 1211.7 457.9 1212 460.7 1212C463.4 1212 465.9 1209.5 467.3 1210.3C468.7 1211.2 468.6 1214.6 469 1217C469.4 1219.4 469.8 1224.5 469.8 1224.5C469.8 1224.5 534 1224.5 534 1224.5C534 1224.5 534 1042 534 1042C534 1042 375.7 1042 375.7 1042ZM281.5 1063.7C281.9 1061.9 283.9 1059.5 285.7 1058.7C287.5 1057.8 290.4 1057.6 292.3 1058.7C294.3 1059.8 296.2 1062.6 297.3 1065.3C298.4 1068.1 298.2 1072 299 1075.3C299.8 1078.7 300.9 1082.3 302.3 1085.3C303.7 1088.4 305.7 1091.2 307.3 1093.7C309 1096.2 310.4 1098.1 312.3 1100.3C314.3 1102.6 317.1 1104.8 319 1107C320.9 1109.2 322.3 1111.4 324 1113.7C325.7 1115.9 328.4 1118.4 329 1120.3C329.6 1122.3 328.4 1125.1 327.3 1125.3C326.2 1125.6 324 1123.7 322.3 1122C320.7 1120.3 319.3 1117 317.3 1115.3C315.4 1113.7 312.9 1112.3 310.7 1112C308.4 1111.7 306.2 1112.6 304 1113.7C301.8 1114.8 298.7 1118.7 297.3 1118.7C295.9 1118.7 295.4 1115.6 295.7 1113.7C295.9 1111.7 298.2 1109.5 299 1107C299.8 1104.5 300.9 1101.4 300.7 1098.7C300.4 1095.9 298.4 1093.1 297.3 1090.3C296.2 1087.6 295.7 1084.5 294 1082C292.3 1079.5 289.1 1077.4 287.3 1075.3C285.5 1073.2 284.1 1071.4 283.2 1069.5C282.2 1067.6 281.1 1065.5 281.5 1063.7ZM252.3 1168.7C252.5 1167.4 254.3 1165.9 255.7 1166.2C257.1 1166.4 259.1 1168.5 260.7 1170.3C262.2 1172.1 263.2 1175.3 264.8 1177C266.5 1178.7 268.9 1180.2 270.7 1180.3C272.5 1180.5 274.3 1177.8 275.7 1177.8C277.1 1177.8 279.1 1178.8 279 1180.3C278.9 1181.9 276.5 1186.2 274.8 1187C273.2 1187.8 270.8 1185.9 269 1185.3C267.2 1184.8 265.7 1184.8 264 1183.7C262.3 1182.6 260.5 1180.3 259 1178.7C257.5 1177 255.9 1175.3 254.8 1173.7C253.7 1172 252.2 1169.9 252.3 1168.7ZM279 1173.7C279.1 1172.1 279.3 1169.4 280.7 1168.7C282.1 1168 285.8 1168.7 287.3 1169.5C288.9 1170.3 289.8 1172.3 289.8 1173.7C289.8 1175.1 288.6 1176.7 287.3 1177.8C286.1 1178.9 283.7 1178.8 282.3 1180.3C280.9 1181.9 278.7 1185.6 279 1187C279.3 1188.4 282.8 1187 284 1188.7C285.2 1190.3 286.8 1194.8 286.5 1197C286.2 1199.2 283.9 1201.4 282.3 1202C280.8 1202.6 278 1201.7 277.3 1200.3C276.6 1198.9 278.4 1195.3 278.2 1193.7C277.9 1192 275.5 1192 275.7 1190.3C275.8 1188.7 278.3 1185.8 279 1183.7C279.7 1181.6 279.8 1179.5 279.8 1177.8C279.8 1176.2 278.9 1175.2 279 1173.7ZM229 1143.7C229 1143.7 232.3 1146.4 234 1148.7C235.7 1150.9 237.2 1154.5 239 1157C240.8 1159.5 244.3 1162 244.8 1163.7C245.4 1165.3 243.9 1166.7 242.3 1167C240.8 1167.3 237.9 1166.2 235.7 1165.3C233.4 1164.5 229 1162 229 1162C229 1162 229 1143.7 229 1143.7ZM235.7 1224.5C235.7 1224.5 235.7 1216 236.5 1213.7C237.3 1211.3 239.1 1210.1 240.7 1210.3C242.2 1210.6 244 1213.9 245.7 1215.3C247.3 1216.7 249.6 1217.1 250.7 1218.7C251.8 1220.2 252.3 1224.5 252.3 1224.5C252.3 1224.5 235.7 1224.5 235.7 1224.5ZM285.7 1224.5C285.7 1224.5 289 1218.5 290.7 1215.3C292.3 1212.1 294.3 1208.4 295.7 1205.3C297.1 1202.3 297.1 1199.8 299 1197C300.9 1194.2 304.6 1191.2 307.3 1188.7C310.1 1186.2 313.2 1183.7 315.7 1182C318.2 1180.3 320.1 1179.4 322.3 1178.7C324.6 1178 326.5 1178.9 329 1177.8C331.5 1176.7 334.8 1174.5 337.3 1172C339.8 1169.5 342.1 1163.7 344 1162.8C345.9 1162 347.3 1165.2 349 1167C350.7 1168.8 352.5 1171.7 354 1173.7C355.5 1175.6 357.6 1176.7 358.2 1178.7C358.7 1180.6 358 1183.1 357.3 1185.3C356.6 1187.6 355 1189.8 354 1192C353 1194.2 351.2 1196.7 351.5 1198.7C351.8 1200.6 354.1 1202 355.7 1203.7C357.2 1205.3 360.4 1207.3 360.7 1208.7C360.9 1210.1 358.7 1210.9 357.3 1212C355.9 1213.1 353.4 1213.2 352.3 1215.3C351.2 1217.4 350.7 1224.5 350.7 1224.5C350.7 1224.5 285.7 1224.5 285.7 1224.5ZM342.3 1047C342.9 1045.5 344.3 1043.4 345.7 1042.8C347.1 1042.3 349.3 1042.4 350.7 1043.7C352.1 1044.9 353.4 1048.1 354 1050.3C354.6 1052.6 354.8 1055.1 354 1057C353.2 1058.9 350.5 1062 349 1062C347.5 1062 345.9 1058.7 344.8 1057C343.7 1055.3 342.8 1053.7 342.3 1052C341.9 1050.3 341.8 1048.5 342.3 1047ZM321.2 1066.7C322.1 1066.2 326.3 1066.2 327.3 1066.7C328.4 1067.2 328.3 1069.2 327.3 1069.7C326.4 1070.2 322.5 1070.2 321.5 1069.7C320.5 1069.2 320.2 1067.2 321.2 1066.7ZM358.2 1122C358.4 1120.2 359.7 1119 360.7 1119C361.6 1119 363.4 1120.7 363.7 1122C363.9 1123.3 363.1 1125.8 362.3 1127C361.6 1128.2 360 1130.3 359.3 1129.5C358.6 1128.7 357.9 1123.8 358.2 1122ZM363.2 1142C363.2 1140.9 364.2 1140.1 364.8 1140.3C365.5 1140.6 367 1142.6 367 1143.7C367 1144.7 365.5 1146.9 364.8 1146.7C364.2 1146.4 363.2 1143.1 363.2 1142ZM412.3 1158.7C412.9 1157.8 415.4 1156.7 417.3 1157C419.3 1157.3 422.1 1158.9 424 1160.3C425.9 1161.7 428.7 1164.1 429 1165.3C429.3 1166.6 427.3 1168.1 425.7 1167.8C424 1167.6 420.9 1164.6 419 1163.7C417.1 1162.7 415.1 1162.8 414 1162C412.9 1161.2 411.8 1159.5 412.3 1158.7ZM584 1063.7C584.6 1061.4 585.7 1057.8 587.3 1055.3C589 1052.8 591.5 1050.6 594 1048.7C596.5 1046.7 600.1 1044.8 602.3 1043.7C604.6 1042.6 607.3 1042 607.3 1042C607.3 1042 615.7 1042 615.7 1042C615.7 1042 617.3 1048.7 617.3 1052C617.3 1055.3 616.2 1058.9 615.7 1062C615.1 1065.1 613.7 1067.3 614 1070.3C614.3 1073.4 617.1 1077 617.3 1080.3C617.6 1083.7 616.2 1087 615.7 1090.3C615.1 1093.7 614.1 1096.7 614 1100.3C613.9 1103.9 613.7 1109.5 614.8 1112C615.9 1114.5 618.6 1115.3 620.7 1115.3C622.8 1115.3 625.4 1113.7 627.3 1112C629.3 1110.3 630.7 1107.1 632.3 1105.3C634 1103.5 635.4 1101.7 637.3 1101.2C639.3 1100.6 642.1 1100.8 644 1102C645.9 1103.2 648.7 1106.4 649 1108.7C649.3 1110.9 647.1 1112.8 645.7 1115.3C644.3 1117.8 642.6 1121.2 640.7 1123.7C638.7 1126.2 636.2 1128.4 634 1130.3C631.8 1132.3 629.8 1133.4 627.3 1135.3C624.8 1137.3 621.5 1140.1 619 1142C616.5 1143.9 614.8 1145.3 612.3 1147C609.8 1148.7 606.5 1150.3 604 1152C601.5 1153.7 599.6 1155.6 597.3 1157C595.1 1158.4 592.9 1158.9 590.7 1160.3C588.4 1161.7 586.5 1163.9 584 1165.3C581.5 1166.7 578.4 1167.3 575.7 1168.7C572.9 1170.1 568.4 1171.7 567.3 1173.7C566.2 1175.6 569 1178.4 569 1180.3C569 1182.3 568.4 1183.9 567.3 1185.3C566.2 1186.7 563.7 1187 562.3 1188.7C560.9 1190.3 560.1 1193.1 559 1195.3C557.9 1197.6 557.1 1199.8 555.7 1202C554.3 1204.2 552.3 1206.7 550.7 1208.7C549 1210.6 547.6 1213 545.7 1213.7C543.7 1214.4 540.9 1212.6 539 1212.8C537.1 1213.1 534 1215.3 534 1215.3C534 1215.3 534 1182 534 1182C534 1182 537.1 1181.2 539 1180.3C540.9 1179.5 543.4 1177.6 545.7 1177C547.9 1176.4 550.5 1177.6 552.3 1177C554.1 1176.4 555.7 1175.1 556.5 1173.7C557.3 1172.3 556.4 1170.6 557.3 1168.7C558.3 1166.7 560.7 1164.2 562.3 1162C564 1159.8 566.1 1157.6 567.3 1155.3C568.6 1153.1 568.7 1150.9 569.8 1148.7C570.9 1146.4 573 1144.2 574 1142C575 1139.8 574.6 1137.3 575.7 1135.3C576.8 1133.4 578.7 1131.7 580.7 1130.3C582.6 1128.9 584.8 1127.8 587.3 1127C589.8 1126.2 593.2 1125.9 595.7 1125.3C598.2 1124.8 600.4 1124.5 602.3 1123.7C604.3 1122.8 606.2 1121.7 607.3 1120.3C608.4 1118.9 609.3 1117.3 609 1115.3C608.7 1113.4 606.8 1110.9 605.7 1108.7C604.6 1106.4 603.4 1104.5 602.3 1102C601.2 1099.5 600.1 1096.2 599 1093.7C597.9 1091.2 596.8 1089.2 595.7 1087C594.6 1084.8 593.7 1082.6 592.3 1080.3C590.9 1078.1 588.7 1075.6 587.3 1073.7C585.9 1071.7 584.6 1070.3 584 1068.7C583.4 1067 583.4 1065.9 584 1063.7ZM534 1120.3C534 1120.3 538.2 1119.4 540.7 1118.7C543.2 1118 546.2 1116.7 549 1116.2C551.8 1115.6 554.8 1116 557.3 1115.3C559.8 1114.6 562.3 1113.7 564 1112C565.7 1110.3 565.9 1105.9 567.3 1105.3C568.7 1104.8 570.8 1107 572.3 1108.7C573.9 1110.3 576.2 1112.8 576.5 1115.3C576.8 1117.8 574.8 1120.9 574 1123.7C573.2 1126.4 572.6 1129.5 571.5 1132C570.4 1134.5 569.1 1136.7 567.3 1138.7C565.5 1140.6 562.6 1142.3 560.7 1143.7C558.7 1145.1 557.3 1147.3 555.7 1147C554 1146.7 552.6 1143.4 550.7 1142C548.7 1140.6 545.9 1138.9 544 1138.7C542.1 1138.4 540.7 1139.8 539 1140.3C537.3 1140.9 534 1142 534 1142C534 1142 534 1120.3 534 1120.3ZM570.3 1090.3C570.6 1089.1 571.2 1087 572.3 1086.2C573.5 1085.3 576 1084.8 577.3 1085.3C578.7 1085.9 580.2 1088 580.3 1089.5C580.5 1091 579.2 1093.4 578.2 1094.5C577.1 1095.6 575.2 1096.3 574 1096.2C572.8 1096 571.6 1094.6 571 1093.7C570.4 1092.7 570.1 1091.6 570.3 1090.3ZM622.3 1224.5C622.3 1224.5 625.4 1218.5 627.3 1215.3C629.3 1212.1 631.8 1208.4 634 1205.3C636.2 1202.3 638.7 1199.8 640.7 1197C642.6 1194.2 644 1191.4 645.7 1188.7C647.3 1185.9 648.7 1182.6 650.7 1180.3C652.6 1178.1 654.6 1176.4 657.3 1175.3C660.1 1174.2 664 1174.2 667.3 1173.7C670.7 1173.1 674.6 1173.4 677.3 1172C680.1 1170.6 682.1 1167.6 684 1165.3C685.9 1163.1 687.5 1161.4 689 1158.7C690.5 1155.9 692.8 1151.7 693.2 1148.7C693.6 1145.6 692.2 1142.8 691.5 1140.3C690.8 1137.8 689.8 1136.2 689 1133.7C688.2 1131.2 686.9 1128.1 686.5 1125.3C686.1 1122.6 685.8 1119.2 686.5 1117C687.2 1114.8 688.9 1113.7 690.7 1112C692.5 1110.3 695.7 1108.9 697.3 1107C699 1105.1 699.3 1102.8 700.7 1100.3C702.1 1097.8 703.4 1094.1 705.7 1092C707.9 1089.9 711.2 1089.1 714 1087.8C716.8 1086.6 720.4 1084.1 722.3 1084.5C724.3 1084.9 725.4 1088 725.7 1090.3C725.9 1092.7 725.1 1096.2 724 1098.7C722.9 1101.2 720.4 1102.8 719 1105.3C717.6 1107.8 717.1 1110.9 715.7 1113.7C714.3 1116.4 712.1 1119.2 710.7 1122C709.3 1124.8 708.7 1127.6 707.3 1130.3C705.9 1133.1 703.4 1136.4 702.3 1138.7C701.2 1140.9 699.6 1142.7 700.7 1143.7C701.8 1144.6 706.8 1145.3 709 1144.5C711.2 1143.7 712.3 1140.2 714 1138.7C715.7 1137.1 716.8 1135.3 719 1135.3C721.2 1135.3 724.8 1138 727.3 1138.7C729.8 1139.4 732.1 1139.8 734 1139.5C735.9 1139.2 738.3 1139.1 739 1137C739.7 1134.9 737.9 1129.5 738.2 1127C738.4 1124.5 739.4 1122.6 740.7 1122C741.9 1121.4 743.7 1122.6 745.7 1123.7C747.6 1124.8 750.1 1128.1 752.3 1128.7C754.6 1129.2 757.1 1128.1 759 1127C760.9 1125.9 762.2 1122.3 764 1122C765.8 1121.7 769.3 1123.7 769.8 1125.3C770.4 1127 768.2 1129.8 767.3 1132C766.5 1134.2 765.7 1136.7 764.8 1138.7C764 1140.6 763.9 1143.1 762.3 1143.7C760.8 1144.2 757.9 1142.6 755.7 1142C753.4 1141.4 750.2 1140.1 749 1140.3C747.8 1140.6 746.8 1142.4 748.2 1143.7C749.6 1144.9 754.6 1146.4 757.3 1147.8C760.1 1149.2 763.7 1150.2 764.8 1152C765.9 1153.8 763 1156.7 764 1158.7C765 1160.6 768.2 1162.7 770.7 1163.7C773.2 1164.6 778.2 1163.1 779 1164.5C779.8 1165.9 777.1 1169.6 775.7 1172C774.3 1174.4 772.1 1176.4 770.7 1178.7C769.3 1180.9 768 1182.3 767.3 1185.3C766.6 1188.4 767.3 1194.6 766.5 1197C765.7 1199.4 763.9 1200.3 762.3 1199.5C760.8 1198.7 759.3 1194.9 757.3 1192C755.4 1189.1 752.6 1182.8 750.7 1182C748.7 1181.2 747.1 1185.1 745.7 1187C744.3 1188.9 744.3 1192 742.3 1193.7C740.4 1195.3 735.5 1194.5 734 1197C732.5 1199.5 732.9 1204.1 733.2 1208.7C733.4 1213.2 735.7 1224.5 735.7 1224.5C735.7 1224.5 622.3 1224.5 622.3 1224.5ZM658.7 1138.3C659.2 1136.7 661.8 1137.5 663.2 1138.7C664.6 1139.8 666.9 1143.7 667 1145.3C667.1 1147 665.2 1148.1 664 1148.7C662.8 1149.2 660.7 1150.4 659.8 1148.7C658.9 1146.9 658.1 1140 658.7 1138.3ZM650.7 1124.5C651.1 1123.8 652.1 1123.2 652.7 1123.7C653.2 1124.1 654.1 1126 654 1127C653.9 1128 652.9 1129.4 652.3 1129.5C651.7 1129.6 650.6 1128.7 650.3 1127.8C650.1 1127 650.3 1125.2 650.7 1124.5Z"/>
<path fill="#ea7457" d="M368.3 294.5C369.6 293.7 374.7 293.4 376.7 294C378.6 294.6 379.7 296.4 380 297.8C380.3 299.3 379.4 302.1 378.3 302.8C377.2 303.5 374.9 302.7 373.3 302C371.8 301.3 370 299.9 369.2 298.7C368.3 297.4 367.1 295.3 368.3 294.5ZM385.8 294.5C386.1 293.7 389.2 293.5 390 294.5C390.8 295.5 391.1 299.5 390.8 300.3C390.6 301.2 389.2 300.5 388.3 299.5C387.5 298.5 385.6 295.3 385.8 294.5ZM342.5 295.7C343.3 295.2 347.5 294.6 348.3 295C349.2 295.4 348.3 297.3 347.5 297.8C346.7 298.3 344.2 298.4 343.3 298C342.5 297.6 341.7 296.2 342.5 295.7ZM270.8 492C271.8 491.4 276 490.7 278.3 491.2C280.7 491.6 282.8 493.5 285 494.5C287.2 495.5 288.9 496.9 291.7 497C294.4 497.1 297.5 495.2 301.7 495.3C305.8 495.5 315.6 496.9 316.7 497.8C317.8 498.8 309.7 499.6 308.3 501.2C306.9 502.7 306.9 505.8 308.3 507C309.7 508.2 313.1 508.1 316.7 508.7C320.3 509.2 326.9 509.2 330 510.3C333.1 511.4 333.1 513.7 335 515.3C336.9 517 339.9 518.7 341.7 520.3C343.5 522 345.3 523.1 345.8 525.3C346.4 527.6 344.6 531.4 345 533.7C345.4 535.9 346.7 538.9 348.3 538.7C350 538.4 353.3 535.1 355 532C356.7 528.9 356.9 523.7 358.3 520.3C359.7 517 361.5 513.8 363.3 512C365.1 510.2 367.4 509.2 369.2 509.5C371 509.8 373.2 511.6 374.2 513.7C375.1 515.8 373.8 520.1 375 522C376.2 523.9 379.4 524.5 381.7 525.3C383.9 526.2 386.4 525.9 388.3 527C390.3 528.1 392.2 529.5 393.3 532C394.4 534.5 395 542 395 542C395 542 331.7 542 331.7 542C331.7 542 327.2 537.3 325 535.3C322.8 533.4 319.7 532.8 318.3 530.3C316.9 527.8 318.1 522.7 316.7 520.3C315.3 518 312.5 517.3 310 516.2C307.5 515.1 303.5 512.7 301.7 513.7C299.9 514.6 300.3 519.5 299.2 522C298.1 524.5 296.8 527 295 528.7C293.2 530.3 290.6 532.6 288.3 532C286.1 531.4 283.9 526.9 281.7 525.3C279.4 523.8 277.6 523.1 275 522.8C272.4 522.6 267.8 522.1 265.8 523.7C263.9 525.2 262.6 529.8 263.3 532C264 534.2 268.1 535.3 270 537C271.9 538.7 275 542 275 542C275 542 253.3 542 253.3 542C253.3 542 250.8 537.6 251.7 535.3C252.5 533.1 256.7 530.9 258.3 528.7C260 526.4 260 524.2 261.7 522C263.3 519.8 266.4 517 268.3 515.3C270.3 513.7 273.2 513.4 273.3 512C273.5 510.6 268.9 508.4 269.2 507C269.4 505.6 272.9 504.8 275 503.7C277.1 502.6 281.1 501.6 281.7 500.3C282.2 499.1 279.9 497.1 278.3 496.2C276.8 495.2 273.8 495.2 272.5 494.5C271.2 493.8 269.9 492.6 270.8 492ZM229.2 507C229.2 507 234.2 505.3 235.8 506.2C237.5 507 237.9 509.8 239.2 512C240.4 514.2 243.5 517.8 243.3 519.5C243.2 521.2 240.1 521 238.3 522C236.5 523 234 524.8 232.5 525.3C231 525.9 229.2 525.3 229.2 525.3C229.2 525.3 229.2 507 229.2 507ZM449.5 542C449.5 542 449.2 538.7 451 537.7C452.8 536.6 456.5 535.9 460 535.8C463.5 535.7 468.7 536.5 472 537C475.3 537.5 480 539 480 539C480 539 480 542 480 542C480 542 449.5 542 449.5 542ZM502.5 292C502.5 292 505.3 295.2 507.5 297C509.7 298.8 512.9 300.9 515.8 302.8C518.8 304.8 522.1 307 525 308.7C527.9 310.3 530.6 311.7 533.3 312.8C536.1 313.9 538.6 314.1 541.7 315.3C544.7 316.5 548.1 318.8 551.7 320C555.3 321.2 559.4 321.4 563.3 322.3C567.2 323.2 571.9 324.1 575 325.3C578.1 326.6 581.4 328.5 582 330C582.6 331.5 579.8 332.8 578.3 334.5C576.9 336.2 574.5 338 573.3 340.3C572.2 342.7 572.3 346.3 571.3 348.7C570.4 351 568.7 352.6 567.5 354.5C566.3 356.4 564.2 358.3 564.2 360C564.2 361.7 566.5 362.9 567.5 364.5C568.5 366.1 570.1 367.7 570 369.5C569.9 371.3 568.3 373.7 566.7 375.3C565 377 562.8 378.4 560 379.5C557.2 380.6 552.4 381.3 550 382C547.6 382.7 547.9 382 545.8 383.7C543.8 385.3 540.1 389.2 537.5 392C534.9 394.8 531.8 397.6 530 400.3C528.2 403.1 527.8 405.5 527 408.7C526.2 411.9 524.6 416.3 525 419.5C525.4 422.7 527.6 425.5 529.2 427.8C530.7 430.2 531.7 431.6 534.2 433.7C536.7 435.7 541.4 439.4 544.2 440C546.9 440.6 548.9 436.5 550.8 437C552.8 437.5 553.9 440.3 555.8 442.8C557.8 445.3 560.3 449.2 562.5 452C564.7 454.8 567.4 457 569.2 459.5C571 462 571.7 465.1 573.3 467C575 468.9 576.9 470.9 579.2 471.2C581.4 471.4 584.3 469.5 586.7 468.7C589 467.8 591.2 466.3 593.3 466.2C595.4 466 597.4 466.9 599.2 467.8C601 468.8 602.6 472.1 604.2 472C605.7 471.9 607.5 469.2 608.3 467C609.2 464.8 609.2 461.4 609.2 458.7C609.1 455.9 607.3 452 608 450.3C608.7 448.7 611.1 449.5 613.3 448.7C615.6 447.8 619.3 446.9 621.7 445.3C624 443.8 625.7 441.9 627.5 439.5C629.3 437.1 630.7 433.5 632.5 431.2C634.3 428.8 636.7 427.7 638.3 425.3C640 423 641.3 419.6 642.5 417C643.7 414.4 644.5 411 645.3 409.5C646.2 408 646.7 407.4 647.5 407.8C648.3 408.2 649.3 409.9 650 412C650.7 414.1 651.2 417.3 651.7 420.3C652.1 423.4 651.9 427.6 652.5 430.3C653.1 433.1 653.6 435.1 655 437C656.4 438.9 659.8 439.8 660.8 442C661.9 444.2 660.9 447.3 661.3 450.3C661.8 453.4 663.3 456.6 663.3 460.3C663.3 464.1 662.3 468.9 661.3 472.8C660.4 476.7 657.4 480.5 657.5 483.7C657.6 486.9 660 488.7 661.7 492C663.3 495.3 665.7 500.1 667.5 503.7C669.3 507.3 671 513.1 672.5 513.7C674 514.2 675.4 509.8 676.7 507C677.9 504.2 678.6 500.9 680 497C681.4 493.1 684.3 488 685 483.7C685.7 479.4 684 473.9 684.2 471.2C684.3 468.4 684.6 466.9 685.8 467C687.1 467.1 689.6 469.8 691.7 472C693.8 474.2 696.9 477.8 698.3 480.3C699.7 482.8 700.6 484.2 700 487C699.4 489.8 696.1 493.7 695 497C693.9 500.3 693.3 503.9 693.3 507C693.4 510.1 695.5 512.3 695.3 515.3C695.2 518.4 691.4 522.3 692.5 525.3C693.6 528.4 698.2 530.9 701.7 533.7C705.1 536.4 713.3 542 713.3 542C713.3 542 785 542 785 542C785 542 785 292 785 292C785 292 502.5 292 502.5 292ZM500.5 542C500.5 542 500.8 534.3 502 531C503.2 527.7 505 523.8 508 522C511 520.2 516.5 519.5 520 520.5C523.5 521.5 526.5 525.2 529 528C531.5 530.8 534.5 534.7 535 537C535.5 539.3 532 542 532 542C532 542 500.5 542 500.5 542ZM480 539C480 539 484.5 539.8 486.7 540.3C488.8 540.8 493 542 493 542C493 542 480 542 480 542C480 542 480 539 480 539ZM1124.2 456.2C1124.7 453.7 1127.6 451.6 1130 450.3C1132.4 449.1 1135.6 448.7 1138.3 448.7C1141.1 448.7 1143.6 449.9 1146.7 450.3C1149.7 450.8 1153.9 451.2 1156.7 451.2C1159.4 451.2 1161.1 450.9 1163.3 450.3C1165.6 449.8 1167.8 448.3 1170 447.8C1172.2 447.4 1174.4 447.1 1176.7 447.8C1178.9 448.5 1181.7 450.5 1183.3 452C1185 453.5 1186.1 454.8 1186.7 457C1187.2 459.2 1187.5 463 1186.7 465.3C1185.8 467.7 1183.5 469.9 1181.7 471.2C1179.9 472.4 1177.5 473.3 1175.8 472.8C1174.2 472.4 1172.9 470.2 1171.7 468.7C1170.4 467.1 1170 464.5 1168.3 463.7C1166.7 462.8 1163.2 463.1 1161.7 463.7C1160.1 464.2 1159.3 465.3 1159.2 467C1159 468.7 1161.2 471.7 1160.8 473.7C1160.4 475.6 1158.5 477.3 1156.7 478.7C1154.9 480.1 1152.2 482 1150 482C1147.8 482 1145.6 479.4 1143.3 478.7C1141.1 478 1138.9 478.7 1136.7 477.8C1134.4 477 1131.7 475.7 1130 473.7C1128.3 471.6 1127.6 468.3 1126.7 465.3C1125.7 462.4 1123.6 458.7 1124.2 456.2ZM1214.2 437C1214.6 436 1216.4 434.2 1217.5 434.5C1218.6 434.8 1220.7 437.3 1220.8 438.7C1221 440.1 1219.3 442.6 1218.3 442.8C1217.4 443.1 1215.7 441.3 1215 440.3C1214.3 439.4 1213.8 438 1214.2 437ZM1170.3 392.8C1170.7 392.7 1172.3 394.1 1173.3 395.3C1174.4 396.6 1176.5 399.5 1176.7 400.3C1176.8 401.2 1175.1 401 1174.2 400.3C1173.3 399.6 1172 397.4 1171.3 396.2C1170.7 394.9 1170 393 1170.3 392.8ZM449.5 542C449.5 542 450.2 545.2 452.5 547.5C454.8 549.8 458.8 553.8 463 555.7C467.2 557.5 473.5 558.7 478 558.7C482.5 558.7 487.2 557.3 490 555.7C492.8 554.1 494 551.3 494.5 549C495 546.7 493 542 493 542C493 542 449.5 542 449.5 542ZM534 542C534 542 539.8 542 539.8 542C539.8 542 540.5 549.2 541.5 552C542.5 554.8 542.8 556.7 545.7 558.7C548.6 560.6 556.5 561.4 559 563.7C561.5 565.9 560.9 569.8 560.7 572C560.4 574.2 557.3 573.9 557.3 577C557.3 580.1 559.3 587.3 560.7 590.3C562.1 593.4 564.3 592.8 565.7 595.3C567.1 597.8 567.5 603.1 569 605.3C570.5 607.6 573.2 606.4 574.8 608.7C576.5 610.9 577.6 616.2 579 618.7C580.4 621.2 582.1 622.3 583.2 623.7C584.3 625.1 583.6 626.2 585.7 627C587.8 627.8 593.2 626.7 595.7 628.7C598.2 630.6 599.3 635.3 600.7 638.7C602.1 642 602.9 645.3 604 648.7C605.1 652 605.7 655.6 607.3 658.7C609 661.7 612.6 663.7 614 667C615.4 670.3 614.6 675.3 615.7 678.7C616.8 682 619.3 684.5 620.7 687C622.1 689.5 622.9 691.7 624 693.7C625.1 695.6 625.9 698.9 627.3 698.7C628.7 698.4 631.2 694.5 632.3 692C633.4 689.5 632.9 685.3 634 683.7C635.1 682 637.9 681.2 639 682C640.1 682.8 640.8 686.2 640.7 688.7C640.5 691.2 638.7 694.5 638.2 697C637.6 699.5 636.6 701.7 637.3 703.7C638 705.6 640.4 707.8 642.3 708.7C644.3 709.5 647.6 710.1 649 708.7C650.4 707.3 649.8 701.4 650.7 700.3C651.5 699.2 652.3 702 654 702C655.7 702 658.7 702 660.7 700.3C662.6 698.7 664 695.1 665.7 692C667.3 688.9 669.4 685.3 670.7 682C671.9 678.7 672.9 675.3 673.2 672C673.4 668.7 671.9 665.6 672.3 662C672.8 658.4 674.8 654.2 675.7 650.3C676.5 646.4 676.2 641.4 677.3 638.7C678.4 635.9 680.4 633.7 682.3 633.7C684.3 633.7 686.9 637 689 638.7C691.1 640.3 694 641.7 694.8 643.7C695.7 645.6 693 648.4 694 650.3C695 652.3 698.4 653.4 700.7 655.3C702.9 657.3 705.8 659.8 707.3 662C708.9 664.2 709.6 666.4 709.8 668.7C710.1 670.9 708.4 672.8 709 675.3C709.6 677.8 712.1 680.9 713.2 683.7C714.3 686.4 714.7 688.9 715.7 692C716.6 695.1 717.3 698.9 719 702C720.7 705.1 724.7 708.1 725.7 710.3C726.6 712.6 725.7 713.4 724.8 715.3C724 717.3 721.1 720.1 720.7 722C720.2 723.9 720.7 726.6 722.3 727C724 727.4 727.6 724.8 730.7 724.5C733.7 724.2 737.3 725.3 740.7 725.3C744 725.3 748.2 723.9 750.7 724.5C753.2 725.1 755.1 726.3 755.7 728.7C756.2 731 755.1 735.6 754 738.7C752.9 741.7 750.9 744.5 749 747C747.1 749.5 744.3 751.2 742.3 753.7C740.4 756.2 738.4 758.9 737.3 762C736.2 765.1 735.9 768.4 735.7 772C735.4 775.6 735.5 780.3 735.7 783.7C735.8 787 736.5 792 736.5 792C736.5 792 534 792 534 792C534 792 534 542 534 542ZM742.3 783.7C744 781.9 747.3 781.7 750.7 781.2C754 780.6 759.3 779.6 762.3 780.3C765.4 781 767.6 783.4 769 785.3C770.4 787.3 770.7 792 770.7 792C770.7 792 740.7 792 740.7 792C740.7 792 740.7 785.5 742.3 783.7ZM710.7 542C710.7 542 714.6 545.1 717.3 547C720.1 548.9 725.1 552 727.3 553.7C729.6 555.3 730.9 555.3 730.7 557C730.4 558.7 727.1 561.2 725.7 563.7C724.3 566.2 722.9 569.2 722.3 572C721.8 574.8 721.8 577.8 722.3 580.3C722.9 582.8 724 585.5 725.7 587C727.3 588.5 730.1 589.8 732.3 589.5C734.6 589.2 737.1 586.7 739 585.3C740.9 583.9 741.2 582 744 581.2C746.8 580.3 752.1 581 755.7 580.3C759.3 579.6 762.3 577.4 765.7 577C769 576.6 772.1 577.4 775.7 577.8C779.3 578.2 784.3 578.7 787.3 579.5C790.4 580.3 791.8 581.6 794 582.8C796.2 584.1 798.2 585.8 800.7 587C803.2 588.2 806.2 589.2 809 590.3C811.8 591.4 815.1 593.8 817.3 593.7C819.6 593.5 820.1 589.5 822.3 589.5C824.6 589.5 828.4 591.9 830.7 593.7C832.9 595.5 834.6 598.1 835.7 600.3C836.8 602.6 836.8 605.6 837.3 607C837.9 608.4 839 608.7 839 608.7C839 608.7 839 542 839 542C839 542 710.7 542 710.7 542ZM574 598.7C574.3 596.3 576.5 592.8 578.2 590.3C579.8 587.8 582.2 584.8 584 583.7C585.8 582.6 587.3 582.6 589 583.7C590.7 584.8 593 588.1 594 590.3C595 592.6 595.7 594.8 594.8 597C594 599.2 591.1 602 589 603.7C586.9 605.3 584.4 606.9 582.3 607C580.2 607.1 577.9 605.9 576.5 604.5C575.1 603.1 573.7 601 574 598.7ZM684.8 615.3C685 613.2 685.4 610.8 686.5 609.5C687.6 608.2 690.1 607.4 691.5 607.8C692.9 608.2 694.4 610.2 694.8 612C695.2 613.8 694.8 616.6 694 618.7C693.2 620.8 691.2 623.9 689.8 624.5C688.4 625.1 686.5 623.5 685.7 622C684.8 620.5 684.7 617.4 684.8 615.3ZM732.3 638.7C733 636.6 735.4 633.9 737.3 632C739.3 630.1 741.8 628.4 744 627C746.2 625.6 748.9 623.9 750.7 623.7C752.5 623.4 754.1 623.9 754.8 625.3C755.5 626.7 755.5 629.5 754.8 632C754.1 634.5 752.5 638.1 750.7 640.3C748.9 642.6 746.2 644.1 744 645.3C741.8 646.6 739.1 648 737.3 647.8C735.5 647.7 734 646 733.2 644.5C732.3 643 731.6 640.8 732.3 638.7ZM929.8 586.2C930.9 585.3 936.1 585.1 937.3 583.7C938.6 582.3 936.8 578.7 937.3 577.8C937.9 577 940.1 577.6 940.7 578.7C941.2 579.8 940 583.2 940.7 584.5C941.4 585.8 944.8 585.2 944.8 586.2C944.8 587.1 941.6 588.2 940.7 590.3C939.7 592.4 939.8 596.4 939 598.7C938.2 600.9 936.5 603.9 935.7 603.7C934.8 603.4 934.1 599.1 934 597C933.9 594.9 935.4 592.6 934.8 591.2C934.3 589.8 931.5 589.5 930.7 588.7C929.8 587.8 928.7 587 929.8 586.2ZM934 620.3C934.3 619.2 937.3 615.9 939 613.7C940.7 611.4 942.5 608.4 944 607C945.5 605.6 947.2 604.8 948.2 605.3C949.1 605.9 950 608.5 949.8 610.3C949.7 612.1 948.6 614.6 947.3 616.2C946.1 617.7 944 618.8 942.3 619.5C940.7 620.2 938.7 620.2 937.3 620.3C935.9 620.5 933.7 621.4 934 620.3ZM644 892C644 890.2 647.5 887.8 649 887.8C650.5 887.8 653.2 890.2 653.2 892C653.2 893.8 650.5 898.7 649 898.7C647.5 898.7 644 893.8 644 892ZM534 1044.5C534 1044.5 530.4 1046.6 529 1047.8C527.6 1049.1 528.4 1050.3 525.7 1052C522.9 1053.7 515.9 1056 512.3 1057.8C508.7 1059.6 504.3 1060.5 504 1062.8C503.7 1065.2 509.3 1068.2 510.7 1072C512.1 1075.8 511.5 1081.2 512.3 1085.3C513.2 1089.5 514.6 1093.4 515.7 1097C516.8 1100.6 517.1 1103.9 519 1107C520.9 1110.1 524.8 1113.1 527.3 1115.3C529.8 1117.6 534 1120.3 534 1120.3C534 1120.3 534 1044.5 534 1044.5ZM410.7 1108.7C411.4 1107 413.7 1103.9 415.7 1103.7C417.6 1103.4 420.1 1105.3 422.3 1107C424.6 1108.7 427.6 1111.2 429 1113.7C430.4 1116.2 430.2 1119.2 430.7 1122C431.1 1124.8 432.1 1129.2 431.5 1130.3C430.9 1131.4 428.9 1130.1 427.3 1128.7C425.8 1127.3 424.3 1123.9 422.3 1122C420.4 1120.1 417.5 1118.4 415.7 1117C413.9 1115.6 412.3 1115.1 411.5 1113.7C410.7 1112.3 410 1110.3 410.7 1108.7ZM477.3 1153.7C477.6 1152.3 480.1 1151.2 482.3 1150.3C484.6 1149.5 487.3 1149.5 490.7 1148.7C494 1147.8 499 1146.7 502.3 1145.3C505.7 1143.9 507.9 1142 510.7 1140.3C513.4 1138.7 516.2 1136.6 519 1135.3C521.8 1134.1 524.8 1133.4 527.3 1132.8C529.8 1132.3 534 1132 534 1132C534 1132 534 1188.7 534 1188.7C534 1188.7 530.5 1186.4 529 1187C527.5 1187.6 525.7 1190.1 524.8 1192C524 1193.9 523.6 1196.7 524 1198.7C524.4 1200.6 525.7 1202 527.3 1203.7C529 1205.3 534 1208.7 534 1208.7C534 1208.7 534 1224.5 534 1224.5C534 1224.5 500.7 1224.5 500.7 1224.5C500.7 1224.5 501.5 1218 502.3 1215.3C503.2 1212.7 505.4 1211.2 505.7 1208.7C505.9 1206.2 504.6 1203.1 504 1200.3C503.4 1197.6 503.2 1194.8 502.3 1192C501.5 1189.2 500.4 1186.2 499 1183.7C497.6 1181.2 495.7 1179.2 494 1177C492.3 1174.8 490.4 1172.6 489 1170.3C487.6 1168.1 487.1 1165.6 485.7 1163.7C484.3 1161.7 482.1 1160.3 480.7 1158.7C479.3 1157 477.1 1155.1 477.3 1153.7ZM308.2 1212C308.7 1210.3 311.9 1207.6 314 1205.3C316.1 1203.1 318.9 1199.6 320.7 1198.7C322.5 1197.7 324.6 1198.4 324.8 1199.5C325.1 1200.6 323.9 1203.2 322.3 1205.3C320.8 1207.4 317.6 1210.3 315.7 1212C313.7 1213.7 311.9 1215.3 310.7 1215.3C309.4 1215.3 307.6 1213.7 308.2 1212ZM664 1215.3C664.3 1212.7 665.9 1210.2 667.3 1208.7C668.7 1207.1 670.4 1205.9 672.3 1206.2C674.3 1206.4 677.6 1208.8 679 1210.3C680.4 1211.9 680.8 1213 680.7 1215.3C680.5 1217.7 678.2 1224.5 678.2 1224.5C678.2 1224.5 665.7 1224.5 665.7 1224.5C665.7 1224.5 663.7 1218 664 1215.3Z"/>
<path fill="#f89540" d="M534 658.7C534 658.7 538.3 657.8 540.7 657.8C543 657.8 546.8 657.7 548.2 658.7C549.6 659.6 550 662.3 549 663.7C548 665.1 544 665.3 542.3 667C540.7 668.7 540.4 672.3 539 673.7C537.6 675.1 534 675.3 534 675.3C534 675.3 534 658.7 534 658.7ZM537.3 757C539 757.6 541.2 759.2 544 760.3C546.8 761.4 550.1 763.7 554 763.7C557.9 763.7 563.4 760.6 567.3 760.3C571.2 760.1 575.4 760.6 577.3 762C579.3 763.4 579.3 766.4 579 768.7C578.7 770.9 577.3 773.1 575.7 775.3C574 777.6 570.4 779.8 569 782C567.6 784.2 568.2 787 567.3 788.7C566.5 790.3 564 792 564 792C564 792 534 792 534 792C534 792 534 757 534 757C534 757 535.7 756.4 537.3 757Z"/>
<path fill="#feba2c" d="M235 295.3C235.7 293.8 238.1 294.6 241.7 294.5C245.3 294.4 254 294 256.7 295C259.3 296 258.1 298.6 257.5 300.3C256.9 302.1 255.1 304.2 253.3 305.3C251.5 306.4 248.6 306.3 246.7 307C244.7 307.7 243.2 310.1 241.7 309.5C240.1 308.9 238.6 306 237.5 303.7C236.4 301.3 234.3 296.9 235 295.3ZM256.7 307.8C257.5 307.4 262.2 308 265 308.7C267.8 309.4 271.2 310.6 273.3 312C275.4 313.4 277.2 315.9 277.5 317C277.8 318.1 276.5 318.8 275 318.3C273.5 317.9 270.8 315.7 268.3 314.5C265.8 313.3 261.9 312.3 260 311.2C258.1 310.1 255.8 308.2 256.7 307.8ZM245 337C245.6 336.3 248.1 335.9 250 335.3C251.9 334.8 254.7 334.8 256.7 333.7C258.6 332.6 259.7 329.8 261.7 328.7C263.6 327.6 265.8 327.1 268.3 327C270.8 326.9 274.9 328.8 276.7 327.8C278.5 326.9 278.1 322.1 279.2 321.2C280.3 320.2 282.2 321 283.3 322C284.4 323 284.4 326.3 285.8 327C287.2 327.7 289.6 325.5 291.7 326.2C293.8 326.9 296.7 329.1 298.3 331.2C300 333.2 300.6 336.6 301.7 338.7C302.8 340.8 304.7 342 305 343.7C305.3 345.3 304.4 347 303.3 348.7C302.2 350.3 300 351.7 298.3 353.7C296.7 355.6 295 358.8 293.3 360.3C291.7 361.9 290.3 363.1 288.3 362.8C286.4 362.6 283.2 359.9 281.7 358.7C280.1 357.4 278.9 357 279.2 355.3C279.4 353.7 283.2 350.6 283.3 348.7C283.5 346.7 281.7 345.1 280 343.7C278.3 342.3 275.6 340.6 273.3 340.3C271.1 340.1 269.2 341.6 266.7 342C264.2 342.4 260.6 343.1 258.3 342.8C256.1 342.6 255.3 340.9 253.3 340.3C251.4 339.8 248.1 340.1 246.7 339.5C245.3 338.9 244.4 337.7 245 337ZM230 359.5C231.2 358 235.8 357.1 238.3 356.2C240.8 355.2 243.3 353.4 245 353.7C246.7 353.9 247.2 356.3 248.3 357.8C249.4 359.4 251.9 361.7 251.7 362.8C251.4 363.9 248.9 364.5 246.7 364.5C244.4 364.5 241 362.7 238.3 362.8C235.7 363 232.2 365.9 230.8 365.3C229.4 364.8 228.8 361 230 359.5ZM269.2 372C269.8 371 272.1 370.1 273.3 370.3C274.6 370.6 275.6 372.3 276.7 373.7C277.8 375.1 279.6 376.9 280 378.7C280.4 380.5 280.3 383.3 279.2 384.5C278.1 385.7 274.8 386.1 273.3 385.7C271.9 385.2 270.9 383.6 270.3 382C269.7 380.4 269.9 377.8 269.7 376.2C269.5 374.5 268.6 373 269.2 372ZM230 332.8C231.5 332.6 237.6 332.9 239.2 333.2C240.7 333.5 240.7 334.4 239.2 334.7C237.6 334.9 231.5 335 230 334.7C228.5 334.4 228.5 333.1 230 332.8ZM304.2 371.2C304.2 370.6 305.3 369.6 305.8 369.7C306.4 369.8 307.7 371.1 307.7 371.7C307.7 372.2 306.4 373.1 305.8 373C305.3 372.9 304.2 371.7 304.2 371.2ZM644.8 667C645 665.5 647.2 664.6 649 663.7C650.8 662.7 653.9 662.6 655.7 661.2C657.5 659.8 658.7 657.7 659.8 655.3C660.9 653 661.4 649.4 662.3 647C663.3 644.6 664.4 642.5 665.7 641.2C666.9 639.8 668.6 638.9 669.8 639C671.1 639.1 672.8 640.4 673.2 642C673.6 643.6 673 646.4 672.3 648.7C671.6 650.9 669.8 652.8 669 655.3C668.2 657.8 667.9 661.2 667.3 663.7C666.8 666.2 666.8 668.5 665.7 670.3C664.6 672.1 662.6 673.5 660.7 674.5C658.7 675.5 656.1 676.4 654 676.2C651.9 675.9 649.7 674.4 648.2 672.8C646.6 671.3 644.7 668.5 644.8 667ZM644.8 637C645.3 635.5 648.2 634.8 649 636.2C649.8 637.6 649.8 642.3 649.8 645.3C649.8 648.4 649.6 653.1 649 654.5C648.4 655.9 647 655.2 646.5 653.7C646 652.1 646.3 648.1 646 645.3C645.7 642.6 644.3 638.5 644.8 637ZM654.3 557.8C654.6 556.7 655.8 555.8 656.5 556.2C657.2 556.6 658.6 558.8 658.7 560.3C658.8 561.9 657.6 564.9 657 565.3C656.4 565.8 655.3 564.1 654.8 562.8C654.4 561.6 654.1 558.9 654.3 557.8ZM654.3 584.5C654.4 583.5 655.9 582.5 656.5 582.8C657.1 583.2 658.2 585.7 658.2 586.7C658.1 587.6 656.6 589 656 588.7C655.4 588.3 654.2 585.5 654.3 584.5ZM645.3 602.8C645.4 601.9 646.9 600.9 647.7 601.2C648.4 601.4 649.9 603.6 649.8 604.5C649.8 605.4 648.1 606.9 647.3 606.7C646.6 606.4 645.3 603.8 645.3 602.8ZM445.7 1192C445.8 1190.3 446.2 1188.2 447.3 1187C448.4 1185.8 450.4 1184.8 452.3 1184.5C454.3 1184.2 457.3 1184.6 459 1185.3C460.7 1186 460.7 1187.6 462.3 1188.7C464 1189.8 466.5 1191.2 469 1192C471.5 1192.8 475.3 1192.8 477.3 1193.7C479.4 1194.5 481.5 1196.2 481.5 1197C481.5 1197.8 479.4 1198.8 477.3 1198.7C475.3 1198.5 471.5 1197 469 1196.2C466.5 1195.3 464.6 1194.2 462.3 1193.7C460.1 1193.1 457.6 1192.6 455.7 1192.8C453.7 1193.1 451.8 1194.1 450.7 1195.3C449.6 1196.6 449.7 1200.1 449 1200.3C448.3 1200.6 447.1 1198.4 446.5 1197C445.9 1195.6 445.5 1193.7 445.7 1192ZM637.3 1224.5C637.3 1224.5 639 1218 640.7 1215.3C642.3 1212.7 645.1 1210.9 647.3 1208.7C649.6 1206.4 652.1 1204.5 654 1202C655.9 1199.5 657.7 1195.2 659 1193.7C660.3 1192.1 661.6 1191.7 662 1192.8C662.4 1193.9 662.1 1198 661.5 1200.3C660.9 1202.7 659.4 1204.8 658.2 1207C656.9 1209.2 655.5 1212 654 1213.7C652.5 1215.3 650.4 1215.2 649 1217C647.6 1218.8 645.7 1224.5 645.7 1224.5C645.7 1224.5 637.3 1224.5 637.3 1224.5Z"/>
<path fill="#d6556d" d="M561.7 433.7C562.5 431.9 566.1 429.4 568.3 428.7C570.6 428 573.8 428.7 575 429.5C576.2 430.3 576.7 432.1 575.8 433.7C575 435.2 572.1 437.7 570 438.7C567.9 439.6 564.7 440.3 563.3 439.5C561.9 438.7 560.8 435.5 561.7 433.7ZM572.5 452.8C573.2 451.2 576.4 448.1 578.3 447C580.3 445.9 583.1 445.6 584.2 446.2C585.3 446.7 585.7 448.9 585 450.3C584.3 451.7 581.8 453.4 580 454.5C578.2 455.6 575.4 457.3 574.2 457C572.9 456.7 571.8 454.5 572.5 452.8ZM578.3 438.7C578.6 437.4 581.5 436.4 582.5 437C583.5 437.6 584.4 440.8 584.2 442C583.9 443.2 581.8 445.1 580.8 444.5C579.9 443.9 578.1 439.9 578.3 438.7ZM508 529.5C508.5 528.4 511.2 526.3 514 527.3C516.8 528.3 522.5 533.4 524.5 535.5C526.5 537.6 527.2 539.8 526 540C524.8 540.2 519.5 538 517 537C514.5 536 512.5 535.2 511 534C509.5 532.8 507.5 530.6 508 529.5ZM560 292C560 292 561.4 296.2 562 298.7C562.6 301.2 562.3 304.6 563.3 307C564.4 309.4 566.1 311.2 568.3 312.8C570.6 314.4 574 316.2 576.7 316.7C579.3 317.1 581.9 316.4 584.2 315.3C586.4 314.3 587.9 311.6 590 310.3C592.1 309.1 594.9 307.6 596.7 307.8C598.4 308.1 599.9 310.3 600.3 312C600.8 313.7 600.3 315.9 599.2 317.8C598 319.8 595.1 321.7 593.3 323.7C591.5 325.6 589.8 327.3 588.3 329.5C586.9 331.7 585.4 334.4 584.7 337C583.9 339.6 583.1 342.6 583.7 345.3C584.3 348.1 586.4 351.2 588.3 353.7C590.2 356.2 593.2 358.1 595 360.3C596.8 362.6 598.8 364.5 599.2 367C599.6 369.5 598.2 373.1 597.5 375.3C596.8 377.6 595.1 378.7 595 380.3C594.9 382 597.5 383.5 596.7 385.3C595.8 387.1 592.2 389.6 590 391.2C587.8 392.7 584.8 393 583.7 394.5C582.5 396 582.5 398 583 400.3C583.5 402.7 584.9 406.8 586.7 408.7C588.4 410.6 590.8 411.8 593.3 411.7C595.8 411.5 599.4 408.1 601.7 407.8C603.9 407.6 605.3 408.8 606.7 410.3C608 411.9 608.8 414.9 609.7 417C610.5 419.1 612.2 421.1 611.7 422.8C611.2 424.6 609.2 426.4 606.7 427.3C604.2 428.3 599.6 427.7 596.7 428.7C593.8 429.6 590.9 431.2 589.2 432.8C587.4 434.5 586.5 436.4 586.3 438.7C586.1 440.9 586.8 443.7 588 446.2C589.2 448.7 591.3 452.6 593.3 453.7C595.3 454.8 597.8 453.7 600 452.8C602.2 452 603.9 450.1 606.7 448.7C609.4 447.3 613.9 446.2 616.7 444.5C619.4 442.8 621.4 441 623.3 438.7C625.3 436.3 627.1 432.6 628.3 430.3C629.6 428.1 629.4 426.9 630.8 425.3C632.2 423.8 635.5 423.1 636.7 421.2C637.9 419.2 637 416 638 413.7C639 411.3 640.8 408.9 642.5 407C644.2 405.1 646 403.1 648.3 402C650.7 400.9 653.6 401.2 656.7 400.7C659.7 400.1 663.6 399.8 666.7 398.7C669.7 397.6 672.8 395.4 675 394C677.2 392.6 678.1 390.7 680 390.3C681.9 390 685.3 389.2 686.7 392C688.1 394.8 686.7 405.1 688.3 407C690 408.9 693.9 403.7 696.7 403.7C699.4 403.7 702.2 404.9 705 407C707.8 409.1 711.9 412.8 713.3 416.2C714.7 419.5 714.4 424.4 713.3 427C712.2 429.6 709.2 431.4 706.7 432C704.2 432.6 700.4 432.1 698.3 430.3C696.2 428.5 696 423.5 694.2 421.2C692.4 418.8 689.4 418.2 687.5 416.2C685.6 414.1 684.3 409.4 682.5 408.7C680.7 408 678.5 410.3 676.7 412C674.9 413.7 673.1 416.4 671.7 418.7C670.3 420.9 668.8 422.8 668.3 425.3C667.9 427.8 669.5 430.9 669.2 433.7C668.8 436.4 666.7 439.2 666.3 442C666 444.8 666.2 447.8 667 450.3C667.8 452.8 670.3 454.5 670.8 457C671.3 459.5 670.3 462.3 670 465.3C669.7 468.4 668.6 473.4 669.2 475.3C669.7 477.3 672.1 478.1 673.3 477C674.5 475.9 674.9 471.4 676.3 468.7C677.7 465.9 679.7 463.1 681.7 460.3C683.7 457.6 686.4 454.4 688.3 452C690.3 449.6 692.2 446.2 693.3 446.2C694.4 446.2 695.1 449.9 695 452C694.9 454.1 692.2 457 692.5 458.7C692.8 460.3 695.4 460.3 696.7 462C697.9 463.7 698.8 466.4 700 468.7C701.2 470.9 702.5 472.8 704.2 475.3C705.8 477.8 707.9 483.4 710 483.7C712.1 483.9 714.2 479.5 716.7 477C719.2 474.5 722.8 469.5 725 468.7C727.2 467.8 728.6 470.1 730 472C731.4 473.9 731.7 478.1 733.3 480.3C735 482.6 737.8 483.9 740 485.3C742.2 486.7 744.4 487.3 746.7 488.7C748.9 490.1 753.3 492 753.3 493.7C753.3 495.3 748.9 496.4 746.7 498.7C744.4 500.9 741.5 504.2 740 507C738.5 509.8 738.3 512.6 737.5 515.3C736.7 518.1 734.6 520.6 735 523.7C735.4 526.7 738.1 530.6 740 533.7C741.9 536.7 746.7 542 746.7 542C746.7 542 785 542 785 542C785 542 785 292 785 292C785 292 560 292 560 292ZM1021.7 292C1021.7 292 1028.3 298.7 1031.7 302C1035 305.3 1038.3 308.9 1041.7 312C1045 315.1 1048.3 317.8 1051.7 320.3C1055 322.8 1058.9 324.5 1061.7 327C1064.4 329.5 1067.8 332.8 1068.3 335.3C1068.9 337.8 1066.7 340.3 1065 342C1063.3 343.7 1060.8 345.6 1058.3 345.3C1055.8 345.1 1052.1 342.6 1050 340.3C1047.9 338.1 1047.8 334.5 1045.8 332C1043.9 329.5 1041 327.6 1038.3 325.3C1035.7 323.1 1032.8 320.6 1030 318.7C1027.2 316.7 1024.4 315.1 1021.7 313.7C1018.9 312.3 1016.1 310.9 1013.3 310.3C1010.6 309.8 1006.7 309.5 1005 310.3C1003.3 311.2 1002.8 312.8 1003.3 315.3C1003.9 317.8 1007.5 322.6 1008.3 325.3C1009.2 328.1 1009.4 330.3 1008.3 332C1007.2 333.7 1003.6 335.9 1001.7 335.3C999.7 334.8 998.1 331.2 996.7 328.7C995.3 326.2 994.7 321.9 993.3 320.3C991.9 318.8 990 318.1 988.3 319.5C986.7 320.9 984.7 326.3 983.3 328.7C981.9 331 982.5 333.1 980 333.7C977.5 334.2 970.7 333.4 968.3 332C966 330.6 966.2 328.4 965.8 325.3C965.4 322.3 966.8 316 965.8 313.7C964.9 311.3 962.1 311.2 960 311.2C957.9 311.2 954.9 311.9 953.3 313.7C951.8 315.5 951.5 319.2 950.8 322C950.1 324.8 950 328.1 949.2 330.3C948.3 332.6 946.2 332.8 945.8 335.3C945.4 337.8 946.4 342 946.7 345.3C946.9 348.7 947.6 352.8 947.5 355.3C947.4 357.8 945.6 358.1 945.8 360.3C946.1 362.6 949.3 366.2 949.2 368.7C949 371.2 946.4 373.1 945 375.3C943.6 377.6 941.8 379.8 940.8 382C939.9 384.2 939.9 386.7 939.2 388.7C938.5 390.6 936.9 391.7 936.7 393.7C936.4 395.6 938.3 397.8 937.5 400.3C936.7 402.8 933.2 406.4 931.7 408.7C930.1 410.9 930.3 412.4 928.3 413.7C926.4 414.9 922.5 415.6 920 416.2C917.5 416.7 914.9 415.8 913.3 417C911.8 418.2 911.3 421.4 910.8 423.7C910.3 425.9 909.9 427.8 910.3 430.3C910.8 432.8 913 435.7 913.3 438.7C913.7 441.6 913.9 446.9 912.5 447.8C911.1 448.8 907.6 446.3 905 444.5C902.4 442.7 898.8 438.9 896.7 437C894.6 435.1 893.8 432.3 892.5 432.8C891.2 433.4 890.4 437.7 889.2 440.3C887.9 443 886.8 447.3 885 448.7C883.2 450.1 880.6 449.6 878.3 448.7C876.1 447.7 873.5 443.5 871.7 442.8C869.9 442.1 867.8 443.4 867.5 444.5C867.2 445.6 868.2 448.2 870 449.5C871.8 450.8 875.8 450.9 878.3 452C880.8 453.1 883.6 454.2 885 456.2C886.4 458.1 885.6 461.3 886.7 463.7C887.8 466 889.7 469.9 891.7 470.3C893.6 470.8 896.2 465.9 898.3 466.2C900.4 466.4 903.1 470.2 904.2 472C905.3 473.8 905.7 475.3 905 477C904.3 478.7 901.5 480.1 900 482C898.5 483.9 896.4 486.6 895.8 488.7C895.3 490.7 895.7 492.8 896.7 494.5C897.6 496.2 901.4 497 901.7 498.7C901.9 500.3 900.3 503.2 898.3 504.5C896.4 505.8 892.8 506.9 890 506.2C887.2 505.5 884.7 501.6 881.7 500.3C878.6 499.1 874.7 499.5 871.7 498.7C868.6 497.8 865.8 495.5 863.3 495.3C860.8 495.2 859.2 495.9 856.7 497.8C854.2 499.8 851.1 505.2 848.3 507C845.6 508.8 843.1 508.7 840 508.7C836.9 508.7 832.5 508.4 830 507C827.5 505.6 827.5 502.4 825 500.3C822.5 498.3 818.3 496.2 815 494.5C811.7 492.8 807.8 490.8 805 490.3C802.2 489.9 799.2 490.3 798.3 492C797.5 493.7 799.2 496.7 800 500.3C800.8 503.9 801.1 510.9 803.3 513.7C805.6 516.4 810.8 515.1 813.3 517C815.8 518.9 817.8 522.6 818.3 525.3C818.9 528.1 816.1 530.9 816.7 533.7C817.2 536.4 821.7 542 821.7 542C821.7 542 785 542 785 542C785 542 785 292 785 292C785 292 1021.7 292 1021.7 292ZM975 380.3C976 378.7 978.9 377.8 981.7 377C984.4 376.2 988.8 375.9 991.7 375.3C994.6 374.8 997.6 373.2 999.2 373.7C1000.7 374.1 1001.2 376.2 1000.8 377.8C1000.4 379.5 998.5 381.9 996.7 383.7C994.9 385.5 991.7 386.7 990 388.7C988.3 390.6 987.9 393.7 986.7 395.3C985.4 397 983.9 398.9 982.5 398.7C981.1 398.4 979.4 395.6 978.3 393.7C977.2 391.7 976.4 389.2 975.8 387C975.3 384.8 974 382 975 380.3ZM1010.8 337C1011 335.8 1013.8 335.3 1015 336.2C1016.2 337 1016.9 339.9 1018.3 342C1019.7 344.1 1021.4 346.4 1023.3 348.7C1025.3 350.9 1028.1 353.1 1030 355.3C1031.9 357.6 1033.6 359.5 1035 362C1036.4 364.5 1036.8 367.4 1038.3 370.3C1039.9 373.2 1044.7 378.4 1044.2 379.5C1043.6 380.6 1038.2 377.1 1035 377C1031.8 376.9 1027.8 379.2 1025 378.7C1022.2 378.1 1020.1 375.6 1018.3 373.7C1016.5 371.7 1014.4 369.5 1014.2 367C1013.9 364.5 1016.4 361.4 1016.7 358.7C1016.9 355.9 1016.2 352.8 1015.8 350.3C1015.4 347.8 1015 345.9 1014.2 343.7C1013.3 341.4 1010.7 338.2 1010.8 337ZM1040.8 343.7C1041.2 342.1 1043.8 339.8 1045 340.3C1046.2 340.9 1048.1 345.1 1048.3 347C1048.6 348.9 1047.6 351.6 1046.7 352C1045.7 352.4 1043.5 350.9 1042.5 349.5C1041.5 348.1 1040.4 345.2 1040.8 343.7ZM1055.8 360.3C1056.7 358.9 1060.4 355.9 1062.5 355.3C1064.6 354.8 1067.1 355.6 1068.3 357C1069.6 358.4 1070.8 362.4 1070 363.7C1069.2 364.9 1065.4 364.5 1063.3 364.5C1061.2 364.5 1058.8 364.4 1057.5 363.7C1056.2 363 1055 361.7 1055.8 360.3ZM928.3 422C928.9 420.9 930.8 419.8 932.5 420.3C934.2 420.9 936.2 423.4 938.3 425.3C940.4 427.3 942.8 430.3 945 432C947.2 433.7 950.3 433.9 951.7 435.3C953.1 436.7 951.9 439.4 953.3 440.3C954.7 441.3 957.5 441.4 960 441.2C962.5 440.9 966.5 438.4 968.3 438.7C970.1 438.9 971.1 441.2 970.8 442.8C970.6 444.5 968.2 446.9 966.7 448.7C965.1 450.5 963.5 453 961.7 453.7C959.9 454.4 957.5 453.9 955.8 452.8C954.2 451.7 953.5 449.1 951.7 447C949.9 444.9 947.2 441.7 945 440.3C942.8 438.9 940.3 440.1 938.3 438.7C936.4 437.3 934.9 433.9 933.3 432C931.8 430.1 930 428.7 929.2 427C928.3 425.3 927.8 423.1 928.3 422ZM914.2 452.8C914.7 452.1 916.8 453.5 918.3 454.5C919.9 455.5 922.2 457.1 923.3 458.7C924.4 460.2 925.3 462 925 463.7C924.7 465.3 922.9 468.7 921.7 468.7C920.4 468.7 918.6 465.3 917.5 463.7C916.4 462 915.6 460.5 915 458.7C914.4 456.9 913.6 453.5 914.2 452.8ZM1027.5 488.7C1028.1 487 1031.5 485.9 1033.3 483.7C1035.1 481.4 1036.5 477.6 1038.3 475.3C1040.1 473.1 1042.2 470.1 1044.2 470.3C1046.1 470.6 1048.2 474.5 1050 477C1051.8 479.5 1054.4 482.6 1055 485.3C1055.6 488.1 1052.8 490.9 1053.3 493.7C1053.9 496.4 1056.4 500.1 1058.3 502C1060.3 503.9 1062.8 504.2 1065 505.3C1067.2 506.4 1070.3 507 1071.7 508.7C1073.1 510.3 1071.5 513.5 1073.3 515.3C1075.1 517.1 1081.7 518 1082.5 519.5C1083.3 521 1080.1 524.1 1078.3 524.5C1076.5 524.9 1073.6 521.9 1071.7 522C1069.7 522.1 1068.3 523.4 1066.7 525.3C1065 527.3 1063.6 531.7 1061.7 533.7C1059.7 535.6 1056.9 537.6 1055 537C1053.1 536.4 1050.3 532.6 1050 530.3C1049.7 528.1 1053.6 525.9 1053.3 523.7C1053.1 521.4 1049.7 519.5 1048.3 517C1046.9 514.5 1044.7 511.4 1045 508.7C1045.3 505.9 1050 502.6 1050 500.3C1050 498.1 1047.2 496.3 1045 495.3C1042.8 494.4 1039.2 494.8 1036.7 494.5C1034.2 494.2 1031.5 494.6 1030 493.7C1028.5 492.7 1026.9 490.3 1027.5 488.7ZM825.8 498.7C827.8 498.9 835.7 507.6 840 508.7C844.3 509.8 848.6 505.6 851.7 505.3C854.7 505.1 856.1 506.2 858.3 507C860.6 507.8 863.3 508.4 865 510.3C866.7 512.3 867.2 516.2 868.3 518.7C869.4 521.2 871 522.8 871.7 525.3C872.4 527.8 873.3 531.7 872.5 533.7C871.7 535.6 869 537.3 866.7 537C864.3 536.7 861.4 533.4 858.3 532C855.3 530.6 851.7 529.8 848.3 528.7C845 527.6 841.2 526.7 838.3 525.3C835.4 523.9 831.4 522 830.8 520.3C830.3 518.7 832.9 516.4 835 515.3C837.1 514.2 843.3 514.5 843.3 513.7C843.3 512.8 837.5 511.4 835 510.3C832.5 509.2 829.9 508.9 828.3 507C826.8 505.1 823.9 498.4 825.8 498.7ZM1245 350.3C1245 347.8 1246.7 345.2 1248.3 343.7C1250 342.1 1252.8 340.9 1255 341.2C1257.2 341.4 1260.1 343.7 1261.7 345.3C1263.3 347 1264.7 348.9 1264.7 351.2C1264.7 353.4 1263.3 356.7 1261.7 358.7C1260.1 360.6 1257.2 362.8 1255 362.8C1252.8 362.8 1250 360.8 1248.3 358.7C1246.7 356.6 1245 352.8 1245 350.3ZM279 642C279.8 640.9 282.5 640.9 284 638.7C285.5 636.4 286.8 631.7 288.2 628.7C289.6 625.6 290.5 622.8 292.3 620.3C294.1 617.8 296.8 615.9 299 613.7C301.2 611.4 303.7 609.5 305.7 607C307.6 604.5 308.4 600.7 310.7 598.7C312.9 596.7 316.5 595 319 595C321.5 595 324 596.4 325.7 598.7C327.3 600.9 328.2 605.8 329 608.7C329.8 611.6 329.3 614.8 330.7 616.2C332.1 617.6 334.8 616.4 337.3 617C339.8 617.6 343.4 619.8 345.7 619.5C347.9 619.2 349 616.7 350.7 615.3C352.3 613.9 353.7 611.6 355.7 611.2C357.6 610.8 360.4 611.9 362.3 612.8C364.3 613.8 365.4 615.5 367.3 617C369.3 618.5 372.1 619.5 374 622C375.9 624.5 377.6 629.2 379 632C380.4 634.8 381.6 636.4 382.3 638.7C383 640.9 383.7 643.1 383.2 645.3C382.6 647.6 380.5 650.1 379 652C377.5 653.9 375.9 655.3 374 657C372.1 658.7 369.6 660.1 367.3 662C365.1 663.9 363.2 666.9 360.7 668.7C358.2 670.5 355.1 672.6 352.3 672.8C349.6 673.1 346.5 671.4 344 670.3C341.5 669.2 337.6 667.6 337.3 666.2C337.1 664.8 342.3 663.8 342.3 662C342.3 660.2 339.3 657.3 337.3 655.3C335.4 653.4 332.3 652 330.7 650.3C329 648.7 329 646.6 327.3 645.3C325.7 644.1 322.6 642.7 320.7 642.8C318.7 643 316.2 644.6 315.7 646.2C315.1 647.7 317.9 651.3 317.3 652C316.8 652.7 314 650.9 312.3 650.3C310.7 649.8 309.3 648.1 307.3 648.7C305.4 649.2 302.6 652.1 300.7 653.7C298.7 655.2 297.6 657.6 295.7 657.8C293.7 658.1 291.2 656.6 289 655.3C286.8 654.1 284 652 282.3 650.3C280.7 648.7 279.6 646.7 279 645.3C278.4 643.9 278.2 643.1 279 642ZM250.7 792C250.7 792 250.9 789.2 252.3 787C253.7 784.8 256.8 780.6 259 778.7C261.2 776.7 263.4 777.8 265.7 775.3C267.9 772.8 270.9 767 272.3 763.7C273.7 760.3 273.2 758.4 274 755.3C274.8 752.3 275.7 748.1 277.3 745.3C279 742.6 281.5 740.1 284 738.7C286.5 737.3 290.1 737.6 292.3 737C294.6 736.4 296.2 734.5 297.3 735.3C298.4 736.2 298.3 739.5 299 742C299.7 744.5 300.9 747.3 301.5 750.3C302.1 753.4 301.9 757 302.3 760.3C302.8 763.7 303.2 767 304 770.3C304.8 773.7 306.5 776.7 307.3 780.3C308.2 783.9 309 792 309 792C309 792 250.7 792 250.7 792ZM264 750.3C264.5 748.8 266.4 745.9 267.3 746.2C268.3 746.4 269.8 750.2 269.8 752C269.8 753.8 268.2 756.4 267.3 757C266.4 757.6 264.9 756.4 264.3 755.3C263.8 754.2 263.5 751.9 264 750.3ZM317.3 747C316.4 745.1 315.4 741.2 315.7 738.7C315.9 736.2 317.3 734.2 319 732C320.7 729.8 323.4 727.3 325.7 725.3C327.9 723.4 329.6 721.7 332.3 720.3C335.1 718.9 339.3 718.1 342.3 717C345.4 715.9 347.9 714.1 350.7 713.7C353.4 713.2 357.3 713.7 359 714.5C360.7 715.3 361.2 717.1 360.7 718.7C360.1 720.2 357.9 722.7 355.7 723.7C353.4 724.6 349.8 723.9 347.3 724.5C344.8 725.1 342.5 725.5 340.7 727C338.9 728.5 337.9 731.2 336.5 733.7C335.1 736.2 333.9 739.5 332.3 742C330.8 744.5 329.1 747.3 327.3 748.7C325.5 750.1 323.2 750.6 321.5 750.3C319.8 750.1 318.3 748.9 317.3 747ZM349 737C349.6 735.1 352.9 732 355.7 730.3C358.4 728.7 362.6 727.8 365.7 727C368.7 726.2 371.2 726.7 374 725.3C376.8 723.9 379.8 720.3 382.3 718.7C384.8 717 386.5 717 389 715.3C391.5 713.7 394.8 709.6 397.3 708.7C399.8 707.7 401.8 708.4 404 709.5C406.2 710.6 408.4 713.4 410.7 715.3C412.9 717.3 415.9 719.2 417.3 721.2C418.7 723.1 419.8 726.2 419 727C418.2 727.8 414.6 727 412.3 726.2C410.1 725.3 407.9 722.8 405.7 722C403.4 721.2 400.7 720.6 399 721.2C397.3 721.7 396.9 723.8 395.7 725.3C394.4 726.9 391.9 728.7 391.5 730.3C391.1 732 393.9 733.9 393.2 735.3C392.5 736.7 389.4 738.4 387.3 738.7C385.3 738.9 382.6 736.7 380.7 737C378.7 737.3 377.9 739.5 375.7 740.3C373.4 741.2 370.1 741.4 367.3 742C364.6 742.6 361.5 743.7 359 743.7C356.5 743.7 354 743.1 352.3 742C350.7 740.9 348.4 738.9 349 737ZM327.3 792C327.3 792 330.4 786.4 332.3 783.7C334.3 780.9 337.1 778.4 339 775.3C340.9 772.3 342.3 768.1 344 765.3C345.7 762.6 346.8 760.1 349 758.7C351.2 757.3 354.8 756.4 357.3 757C359.8 757.6 363.4 759.8 364 762C364.6 764.2 362.1 767.6 360.7 770.3C359.3 773.1 357.3 775.9 355.7 778.7C354 781.4 351.8 784.8 350.7 787C349.6 789.2 349 792 349 792C349 792 327.3 792 327.3 792ZM422.3 792C422.3 792 424.3 785.1 425.7 782C427.1 778.9 428.7 775.9 430.7 773.7C432.6 771.4 435.4 768.8 437.3 768.7C439.3 768.5 440.9 772.8 442.3 772.8C443.7 772.8 444.3 768.2 445.7 768.7C447.1 769.1 448.7 772.8 450.7 775.3C452.6 777.8 455.4 780.9 457.3 783.7C459.3 786.4 462.3 792 462.3 792C462.3 792 422.3 792 422.3 792ZM534 708.7C534 708.7 530.4 710.3 529 712C527.6 713.7 525.7 716.4 525.7 718.7C525.7 720.9 527.6 723.7 529 725.3C530.4 727 534 728.7 534 728.7C534 728.7 534 708.7 534 708.7ZM464.8 547.8C465.1 546.7 468.3 545.9 470.7 545.3C473 544.8 476.5 543.9 479 544.5C481.5 545.1 484.3 547.1 485.7 548.7C487.1 550.2 487.9 552.6 487.3 553.7C486.8 554.8 484.3 555.2 482.3 555.3C480.4 555.5 477.9 555.1 475.7 554.5C473.4 553.9 470.8 553.1 469 552C467.2 550.9 464.6 548.9 464.8 547.8ZM331.5 689.5C332.1 688.4 334.3 687.1 335.7 687C337.1 686.9 339.6 687.7 339.8 688.7C340.1 689.6 338.6 692 337.3 692.8C336.1 693.7 333.3 694.2 332.3 693.7C331.4 693.1 330.9 690.6 331.5 689.5ZM258.7 762.8C259.1 762.2 261.4 761.4 262.3 761.7C263.2 761.9 264.4 763.9 264 764.5C263.6 765.1 260.7 765.6 259.8 765.3C258.9 765.1 258.2 763.4 258.7 762.8ZM534 556.2C534 556.2 536.8 556 539 557C541.2 558 544.6 560.3 547.3 562C550.1 563.7 554 564.8 555.7 567C557.3 569.2 557.6 572.8 557.3 575.3C557.1 577.8 555.7 581.4 554 582C552.3 582.6 549.6 580.3 547.3 578.7C545.1 577 542.9 573.9 540.7 572C538.4 570.1 534 567 534 567C534 567 534 556.2 534 556.2ZM747.3 542C747.3 542 753.2 546.2 755.7 548.7C758.2 551.2 759.8 554.5 762.3 557C764.8 559.5 767.6 562 770.7 563.7C773.7 565.3 777.3 566 780.7 567C784 568 786.8 569.1 790.7 569.5C794.6 569.9 799.8 569.6 804 569.5C808.2 569.4 814.8 569.6 815.7 568.7C816.5 567.7 810.4 565.2 809 563.7C807.6 562.1 806.5 559.8 807.3 559.5C808.2 559.2 811.8 561.3 814 562C816.2 562.7 819 564.8 820.7 563.7C822.3 562.6 823.2 558.1 824 555.3C824.8 552.6 825.7 549.2 825.7 547C825.7 544.8 824 542 824 542C824 542 747.3 542 747.3 542ZM573.7 624.5C574.2 623.5 576.9 622.6 578.2 622.8C579.4 623.1 580.9 625.1 581 626.2C581.1 627.3 580 629.1 579 629.5C578 629.9 575.7 629.5 574.8 628.7C573.9 627.8 573.1 625.5 573.7 624.5ZM587.7 635.3C588.1 634.1 590.4 633.1 591.5 633.3C592.6 633.6 594.2 635.6 594.3 637C594.5 638.4 593.3 641.1 592.3 641.7C591.4 642.3 589.4 641.7 588.7 640.7C587.9 639.6 587.2 636.6 587.7 635.3ZM596 650.3C596.4 649.4 598.2 648.7 599 649C599.8 649.3 600.9 650.9 601 652C601.1 653.1 600.6 654.9 599.8 655.3C599.1 655.8 597.1 655.3 596.5 654.5C595.9 653.7 595.6 651.2 596 650.3ZM570.3 661.2C571.1 659.9 573.9 658.7 575.7 658.7C577.4 658.7 580.3 659.9 581 661.2C581.7 662.4 580.9 665 579.8 666.2C578.8 667.4 576.3 668.3 574.8 668.3C573.4 668.3 571.8 667.4 571 666.2C570.2 665 569.6 662.4 570.3 661.2ZM602.3 668.7C602.9 667.1 605.9 666.4 607.3 666.7C608.7 666.9 610.5 668.9 610.7 670.3C610.8 671.8 609.3 674.4 608.2 675.3C607.1 676.3 605 677.3 604 676.2C603 675.1 601.8 670.2 602.3 668.7ZM681.2 642C681.8 640.8 683.5 639.9 684.8 640.3C686.1 640.8 688.6 642.8 689 644.5C689.4 646.2 688.3 649.1 687.3 650.3C686.4 651.6 684.2 652.4 683.2 652C682.1 651.6 681.5 649.5 681.2 647.8C680.8 646.2 680.6 643.2 681.2 642ZM689 661.2C689.6 659.9 691.8 657.8 694 658.7C696.2 659.5 701.9 664.8 702.3 666.2C702.8 667.6 698.4 667 696.5 667C694.6 667 691.9 667.1 690.7 666.2C689.4 665.2 688.4 662.4 689 661.2ZM704 687C704.1 686 705.4 685.1 706.5 686.2C707.6 687.3 710.1 691.7 710.7 693.7C711.2 695.6 710.7 698.1 709.8 697.8C709 697.6 706.6 693.8 705.7 692C704.7 690.2 703.9 688 704 687ZM734 744.5C735.2 742.1 738.8 736.7 740.7 735.3C742.6 733.9 744.9 734.9 745.3 736.2C745.8 737.4 744.4 740.6 743.2 742.8C742 745.1 739.8 748.4 738.2 749.5C736.5 750.6 733.9 750.3 733.2 749.5C732.5 748.7 732.8 746.9 734 744.5ZM534 707.8C534 707.8 538.4 709.1 540.7 708.7C542.9 708.2 545.9 707.3 547.3 705.3C548.7 703.4 548.2 699.5 549 697C549.8 694.5 550.7 692.3 552.3 690.3C554 688.4 556.5 686.4 559 685.3C561.5 684.2 564.6 683.4 567.3 683.7C570.1 683.9 573.4 685.6 575.7 687C577.9 688.4 578.4 691.4 580.7 692C582.9 692.6 586.2 691.2 589 690.3C591.8 689.5 594.8 688.1 597.3 687C599.8 685.9 601.5 684.2 604 683.7C606.5 683.1 609.8 683.1 612.3 683.7C614.8 684.2 617.3 685.1 619 687C620.7 688.9 621.4 692.8 622.3 695.3C623.3 697.8 624 699.5 624.8 702C625.7 704.5 626.1 709.2 627.3 710.3C628.6 711.4 630.7 708.4 632.3 708.7C634 708.9 635.9 709.8 637.3 712C638.7 714.2 639.6 719.2 640.7 722C641.8 724.8 642.3 727.8 644 728.7C645.7 729.5 648.7 728.4 650.7 727C652.6 725.6 654 722.8 655.7 720.3C657.3 717.8 659 715.1 660.7 712C662.3 708.9 664.6 705.3 665.7 702C666.8 698.7 666.2 694.8 667.3 692C668.4 689.2 670.7 686.9 672.3 685.3C674 683.8 675.9 682.3 677.3 682.8C678.7 683.4 679.6 686.6 680.7 688.7C681.8 690.8 682.6 693.1 684 695.3C685.4 697.6 688 699.5 689 702C690 704.5 690.1 707.6 689.8 710.3C689.6 713.1 688 715.9 687.3 718.7C686.6 721.4 684.8 725.3 685.7 727C686.5 728.7 689.8 728.1 692.3 728.7C694.8 729.2 698.2 729.2 700.7 730.3C703.2 731.4 705.4 733.7 707.3 735.3C709.3 737 710.1 739.2 712.3 740.3C714.6 741.4 717.9 741.4 720.7 742C723.4 742.6 727.1 742.3 729 743.7C730.9 745.1 732.1 747.8 732.3 750.3C732.6 752.8 731.1 755.9 730.7 758.7C730.2 761.4 730.1 764.2 729.8 767C729.6 769.8 728.3 772.6 729 775.3C729.7 778.1 732.9 780.9 734 783.7C735.1 786.4 735.7 792 735.7 792C735.7 792 566.5 792 566.5 792C566.5 792 566.4 790.3 567.3 788.7C568.3 787 569.6 782.8 572.3 782C575.1 781.2 579.8 783.7 584 783.7C588.2 783.7 594.6 783.4 597.3 782C600.1 780.6 599 777.6 600.7 775.3C602.3 773.1 606.5 770.9 607.3 768.7C608.2 766.4 607.3 763.9 605.7 762C604 760.1 601.5 757.3 597.3 757C593.2 756.7 585.1 760.1 580.7 760.3C576.2 760.6 574 758.4 570.7 758.7C567.3 758.9 564 761.2 560.7 762C557.3 762.8 554 764.5 550.7 763.7C547.3 762.8 543.4 759.1 540.7 757C537.9 754.9 534 751.2 534 751.2C534 751.2 534 707.8 534 707.8ZM255.7 792C255.7 792 367.3 792 367.3 792C367.3 792 367.6 797 366.5 798.7C365.4 800.3 362.5 800.6 360.7 802C358.9 803.4 357.6 805.3 355.7 807C353.7 808.7 350.9 810.1 349 812C347.1 813.9 345.7 816.4 344 818.7C342.3 820.9 340.1 822.8 339 825.3C337.9 827.8 336.5 831.2 337.3 833.7C338.2 836.2 342.9 838.1 344 840.3C345.1 842.6 344.8 844.8 344 847C343.2 849.2 340.9 852.8 339 853.7C337.1 854.5 334.3 853.1 332.3 852C330.4 850.9 329 847.6 327.3 847C325.7 846.4 323.6 847.3 322.3 848.7C321.1 850.1 320.1 853.4 319.8 855.3C319.6 857.3 321.4 857.8 320.7 860.3C320 862.8 316.6 867.3 315.7 870.3C314.7 873.4 314.6 876.2 314.8 878.7C315.1 881.2 317.2 882.8 317.3 885.3C317.5 887.8 316.2 891.4 315.7 893.7C315.1 895.9 314.8 897.6 314 898.7C313.2 899.8 311.8 898.7 310.7 900.3C309.6 902 307.6 905.6 307.3 908.7C307.1 911.7 307.9 916.2 309 918.7C310.1 921.2 312.9 921.4 314 923.7C315.1 925.9 314.7 929.2 315.7 932C316.6 934.8 318.2 938.1 319.8 940.3C321.5 942.6 323.9 943.5 325.7 945.3C327.5 947.1 330.4 949.2 330.7 951.2C330.9 953.1 328.6 954.9 327.3 957C326.1 959.1 323.7 961.2 323.2 963.7C322.6 966.2 323.6 969.8 324 972C324.4 974.2 325.9 975.3 325.7 977C325.4 978.7 323.7 980.3 322.3 982C320.9 983.7 319 987.3 317.3 987C315.7 986.7 314 982.8 312.3 980.3C310.7 977.8 309 975.1 307.3 972C305.7 968.9 304 964.8 302.3 962C300.7 959.2 298.4 957.6 297.3 955.3C296.2 953.1 297.9 948.1 295.7 948.7C293.4 949.2 286.2 955.6 284 958.7C281.8 961.7 283.2 965.3 282.3 967C281.5 968.7 280.7 968.7 279 968.7C277.3 968.7 274 966.4 272.3 967C270.7 967.6 269.6 969.8 269 972C268.4 974.2 269.7 977.8 269 980.3C268.3 982.8 266.8 985.8 264.8 987C262.9 988.2 259.1 988.9 257.3 987.8C255.5 986.7 254.4 983 254 980.3C253.6 977.7 255.9 973.9 254.8 972C253.7 970.1 250 969.8 247.3 968.7C244.7 967.6 241.5 966.7 239 965.3C236.5 963.9 234 961.4 232.3 960.3C230.7 959.2 229 958.7 229 958.7C229 958.7 229 865.3 229 865.3C229 865.3 233.7 870.3 235.7 870.3C237.6 870.3 240 867.6 240.7 865.3C241.4 863.1 239 858.9 239.8 857C240.7 855.1 243.9 853.4 245.7 853.7C247.5 853.9 249.6 859.8 250.7 858.7C251.8 857.6 251.8 850.9 252.3 847C252.9 843.1 254.6 839.2 254 835.3C253.4 831.4 249.3 826.7 249 823.7C248.7 820.6 250.7 818.7 252.3 817C254 815.3 257.8 815.1 259 813.7C260.2 812.3 260.7 809.8 259.8 808.7C259 807.6 256.2 807.8 254 807C251.8 806.2 247.1 805.3 246.5 803.7C245.9 802 249.1 798.9 250.7 797C252.2 795.1 255.7 792 255.7 792ZM422.3 797C422.8 794.2 425.7 792 425.7 792C425.7 792 467.3 792 467.3 792C467.3 792 467.9 796.2 467.3 798.7C466.8 801.2 465.1 804.2 464 807C462.9 809.8 462.3 812.6 460.7 815.3C459 818.1 456.2 821.2 454 823.7C451.8 826.2 449 827.8 447.3 830.3C445.7 832.8 445.4 835.6 444 838.7C442.6 841.7 440.1 845.6 439 848.7C437.9 851.7 437.3 854.2 437.3 857C437.3 859.8 438.4 862.8 439 865.3C439.6 867.8 440 870.1 440.7 872C441.4 873.9 443.2 875.6 443.2 877C443.2 878.4 442.2 880.3 440.7 880.3C439.1 880.3 436.2 878.1 434 877C431.8 875.9 429.6 875.1 427.3 873.7C425.1 872.3 422.3 870.9 420.7 868.7C419 866.4 417.6 862.8 417.3 860.3C417.1 857.8 419.6 855.5 419 853.7C418.4 851.9 415.4 850.6 414 849.5C412.6 848.4 410.4 847.7 410.7 847C410.9 846.3 414 846.4 415.7 845.3C417.3 844.2 420 842.8 420.7 840.3C421.4 837.8 419.7 833.4 419.8 830.3C420 827.3 420.9 825.6 421.5 822C422.1 818.4 423 812.8 423.2 808.7C423.3 804.5 421.9 799.8 422.3 797ZM337.3 907C337.9 904.9 340.8 901.2 342.3 901.2C343.9 901.2 346.2 905.2 346.5 907C346.8 908.8 345.2 910.9 344 912C342.8 913.1 340.1 914.5 339 913.7C337.9 912.8 336.8 909.1 337.3 907ZM359 919.5C359 918.9 361.2 917.8 362.3 917.8C363.4 917.8 365.7 918.9 365.7 919.5C365.7 920.1 363.4 921.2 362.3 921.2C361.2 921.2 359 920.1 359 919.5ZM364.8 817.8C365.1 817.2 366.6 816.7 367.3 817C368 817.3 369.2 818.9 369 819.5C368.8 820.1 366.7 820.9 366 820.7C365.3 820.4 364.6 818.4 364.8 817.8ZM313.2 992C313.3 990.1 314.6 988.1 315.7 987C316.8 985.9 318.9 984.8 319.8 985.3C320.8 985.9 321.8 988.7 321.5 990.3C321.2 992 319.3 993.9 318.2 995.3C317.1 996.7 315.7 999.2 314.8 998.7C314 998.1 313 993.9 313.2 992ZM271.5 1007C271.8 1004.8 273 1000.3 274 998.7C275 997 276.4 996.2 277.3 997C278.3 997.8 279.3 1000.9 279.8 1003.7C280.4 1006.4 280.2 1010.6 280.7 1013.7C281.1 1016.7 282.6 1020.1 282.3 1022C282.1 1023.9 280.2 1026.2 279 1025.3C277.8 1024.5 275.9 1019.2 274.8 1017C273.7 1014.8 272.9 1013.7 272.3 1012C271.8 1010.3 271.2 1009.2 271.5 1007ZM283.2 1032C283.9 1030.9 285.7 1033.7 286.5 1035.3C287.3 1037 288.2 1042 288.2 1042C288.2 1042 282.3 1042 282.3 1042C282.3 1042 282.5 1033.1 283.2 1032ZM567.3 792C567.3 792 696.5 792 696.5 792C696.5 792 696.9 797.6 696.5 800.3C696.1 803.1 695.2 806.2 694 808.7C692.8 811.2 690.5 813 689 815.3C687.5 817.7 685.2 820.3 684.8 822.8C684.4 825.3 685.2 828.2 686.5 830.3C687.8 832.4 690.4 835.5 692.3 835.3C694.3 835.2 696.2 831.3 698.2 829.5C700.1 827.7 701.9 825.8 704 824.5C706.1 823.2 709.4 821 710.7 822C711.9 823 710.9 827.7 711.5 830.3C712.1 833 712.6 835.9 714 837.8C715.4 839.8 719.3 840.2 719.8 842C720.4 843.8 718.3 846.6 717.3 848.7C716.4 850.8 716.2 853.4 714 854.5C711.8 855.6 707.1 855.1 704 855.3C700.9 855.6 697.9 855.6 695.7 856.2C693.4 856.7 692.1 857.1 690.7 858.7C689.3 860.2 688.9 863.4 687.3 865.3C685.8 867.3 683 870.3 681.5 870.3C680 870.3 678.9 868.1 678.2 865.3C677.5 862.6 677.8 857.3 677.3 853.7C676.9 850.1 676.5 846.7 675.7 843.7C674.8 840.6 673.4 838.4 672.3 835.3C671.2 832.3 670.1 828.4 669 825.3C667.9 822.3 667.1 818.5 665.7 817C664.3 815.5 662.6 815.9 660.7 816.2C658.7 816.4 655.9 817.7 654 818.7C652.1 819.6 650.9 821.2 649 822C647.1 822.8 644 822.6 642.3 823.7C640.7 824.8 639.4 825.6 639 828.7C638.6 831.7 639.6 837.8 639.8 842C640.1 846.2 641.1 850.9 640.7 853.7C640.2 856.4 639 856.7 637.3 858.7C635.7 860.6 632.9 863.1 630.7 865.3C628.4 867.6 625.9 869.8 624 872C622.1 874.2 620.4 876.4 619 878.7C617.6 880.9 616.5 882.6 615.7 885.3C614.8 888.1 614.8 892.8 614 895.3C613.2 897.8 611.9 900.1 610.7 900.3C609.4 900.6 607.3 899.2 606.5 897C605.7 894.8 606.4 890.1 605.7 887C605 883.9 602.8 881.7 602.3 878.7C601.9 875.6 603.3 872 603.2 868.7C603 865.3 601.8 862 601.5 858.7C601.2 855.3 600.8 851.7 601.5 848.7C602.2 845.6 604.4 842.8 605.7 840.3C606.9 837.8 607.8 835.3 609 833.7C610.2 832 613.2 831.7 613.2 830.3C613.2 828.9 611.1 827 609 825.3C606.9 823.7 602.9 821.4 600.7 820.3C598.4 819.2 597.6 818.4 595.7 818.7C593.7 818.9 591.2 820.9 589 822C586.8 823.1 584.8 825.3 582.3 825.3C579.8 825.3 576.5 822.8 574 822C571.5 821.2 568.9 820.3 567.3 820.3C565.8 820.3 564.4 822.6 564.8 822C565.2 821.4 568.6 818 569.8 817C571.1 816 572.8 817 572.3 816.2C571.9 815.3 568.3 814.4 567.3 812C566.4 809.6 566.5 805.3 566.5 802C566.5 798.7 567.3 792 567.3 792ZM664 890.3C664 888.5 664.8 884.4 665.7 882C666.5 879.6 667.8 877 669 876.2C670.2 875.3 672.1 875.5 672.7 877C673.2 878.5 672.8 882.8 672.3 885.3C671.9 887.8 670.9 890.8 669.8 892C668.7 893.2 666.6 893.1 665.7 892.8C664.7 892.6 664 892.1 664 890.3ZM598.2 922C598.4 920.9 601.6 919.5 604 918.7C606.4 917.8 610.1 918.1 612.3 917C614.6 915.9 615.9 913.9 617.3 912C618.7 910.1 619 907.1 620.7 905.3C622.3 903.5 625.1 901.9 627.3 901.2C629.6 900.5 632.3 899.9 634 901.2C635.7 902.4 636.6 906 637.3 908.7C638 911.3 638.7 914.5 638.2 917C637.6 919.5 635.8 922 634 923.7C632.2 925.3 629.6 925.9 627.3 927C625.1 928.1 622.9 929.5 620.7 930.3C618.4 931.2 616.2 932.3 614 932C611.8 931.7 609.3 929.8 607.3 928.7C605.4 927.6 603.9 926.4 602.3 925.3C600.8 924.2 597.9 923.1 598.2 922ZM657.3 927C657.9 925.9 661.5 924.1 664 922.8C666.5 921.6 669.6 920.5 672.3 919.5C675.1 918.5 678.2 916.9 680.7 917C683.2 917.1 685.8 918.9 687.3 920.3C688.9 921.7 690.1 923.8 689.8 925.3C689.6 926.9 687.8 928.5 685.7 929.5C683.6 930.5 680.4 931 677.3 931.2C674.3 931.3 670.1 930.6 667.3 930.3C664.6 930.1 662.3 930.1 660.7 929.5C659 928.9 656.8 928.1 657.3 927ZM693.2 915.3C693.4 913.1 695 908.9 696.5 907C698 905.1 700 904.3 702.3 903.7C704.7 903.1 707.9 903.1 710.7 903.3C713.4 903.6 716.5 904.2 719 905.3C721.5 906.5 724.3 908.1 725.7 910.3C727.1 912.6 727.6 915.9 727.3 918.7C727.1 921.4 725.7 925.2 724 927C722.3 928.8 719.8 929.5 717.3 929.5C714.8 929.5 711.8 928 709 927C706.2 926 703 924.8 700.7 923.7C698.3 922.6 696.1 921.7 694.8 920.3C693.6 918.9 692.9 917.6 693.2 915.3ZM594.8 972C595.4 970.3 598.6 967.6 600.7 965.3C602.8 963.1 605.4 960.9 607.3 958.7C609.3 956.4 610.7 953.9 612.3 952C614 950.1 615.7 948 617.3 947C619 946 621.4 945.1 622.3 946.2C623.3 947.3 623.3 950.8 623.2 953.7C623 956.6 622.1 960.3 621.5 963.7C620.9 967 620.5 970.3 619.8 973.7C619.1 977 618.3 980.9 617.3 983.7C616.4 986.4 615.4 988.8 614 990.3C612.6 991.9 610.7 993.1 609 992.8C607.3 992.6 605.4 990.8 604 988.7C602.6 986.6 601.8 982.6 600.7 980.3C599.6 978.1 598.3 976.7 597.3 975.3C596.4 973.9 594.3 973.7 594.8 972ZM754 933.7C753.7 932.1 755.8 930.5 757.3 929.5C758.9 928.5 761.5 927.6 763.2 927.8C764.8 928.1 766.6 929.5 767.3 931.2C768 932.8 767.9 936.2 767.3 937.8C766.8 939.5 765.4 941 764 941.2C762.6 941.3 760.7 939.9 759 938.7C757.3 937.4 754.3 935.2 754 933.7ZM734.8 890.3C734.8 889.3 736.2 887.9 737.3 888.3C738.4 888.8 740.4 891.1 741.5 892.8C742.6 894.6 744.1 897.7 744 898.7C743.9 899.6 741.8 899.4 740.7 898.7C739.6 898 738.3 895.9 737.3 894.5C736.4 893.1 734.8 891.4 734.8 890.3ZM689 975.3C689 974.5 692.1 973.9 694 974.5C695.9 975.1 698.4 977.1 700.7 978.7C702.9 980.2 705.7 981.9 707.3 983.7C709 985.5 710.9 988.7 710.7 989.5C710.4 990.3 707.3 989.6 705.7 988.7C704 987.7 702.6 985.2 700.7 983.7C698.7 982.1 695.9 980.9 694 979.5C692.1 978.1 689 976.2 689 975.3ZM734.8 972C735.1 970.3 736.8 968.8 738.2 968.7C739.6 968.5 741.6 969.5 743.2 971.2C744.7 972.8 746.6 976.3 747.3 978.7C748 981 747.9 983.5 747.3 985.3C746.8 987.1 745.2 989.5 744 989.5C742.8 989.5 741.1 987.1 739.8 985.3C738.6 983.5 737.3 980.9 736.5 978.7C735.7 976.4 734.6 973.7 734.8 972ZM754 997C753.7 993.9 754.6 990.5 755.7 988.7C756.8 986.9 758.7 985.6 760.7 986.2C762.6 986.7 764.8 989.9 767.3 992C769.8 994.1 772.9 996.4 775.7 998.7C778.4 1000.9 782.3 1002.8 784 1005.3C785.7 1007.8 785.7 1010.9 785.7 1013.7C785.7 1016.4 784.8 1019.8 784 1022C783.2 1024.2 782.3 1026.4 780.7 1027C779 1027.6 776.2 1026.4 774 1025.3C771.8 1024.2 769.3 1022.3 767.3 1020.3C765.4 1018.4 764 1015.9 762.3 1013.7C760.7 1011.4 758.7 1009.8 757.3 1007C755.9 1004.2 754.3 1000.1 754 997ZM657.3 1033.7C657.6 1031.2 659 1028.4 660.7 1027C662.3 1025.6 665.1 1024.8 667.3 1025.3C669.6 1025.9 672.1 1028.4 674 1030.3C675.9 1032.3 676.8 1035.6 679 1037C681.2 1038.4 684.8 1039.2 687.3 1038.7C689.8 1038.1 691.8 1035.5 694 1033.7C696.2 1031.9 697.9 1029.2 700.7 1027.8C703.4 1026.4 707.3 1025.5 710.7 1025.3C714 1025.2 718.4 1025.6 720.7 1027C722.9 1028.4 724 1031.2 724 1033.7C724 1036.2 720.7 1042 720.7 1042C720.7 1042 659 1042 659 1042C659 1042 657.1 1036.2 657.3 1033.7ZM633.2 1007C633.4 1005.9 635.3 1004.4 636.5 1004.5C637.7 1004.6 640.1 1006.6 640.3 1007.8C640.6 1009.1 639.1 1011.4 638.2 1012C637.2 1012.6 635.7 1012 634.8 1011.2C634 1010.3 632.9 1008.1 633.2 1007ZM586.5 932C586.6 931.2 588.9 929.5 589.8 929.5C590.8 929.5 592.5 931.2 592.3 932C592.2 932.8 590 934.5 589 934.5C588 934.5 586.4 932.8 586.5 932ZM827.3 948.7C827.2 947.3 829 945.9 829.8 946.2C830.7 946.4 832.2 948.9 832.3 950.3C832.4 951.7 831.2 954.8 830.3 954.5C829.5 954.2 827.4 950.1 827.3 948.7ZM816.5 976.2C816.7 975.2 818.9 973.1 819.8 972.8C820.7 972.6 822.2 973.5 822 974.5C821.8 975.5 819.6 978.4 818.7 978.7C817.8 978.9 816.3 977.1 816.5 976.2ZM767.3 1037C768.4 1036.7 771.2 1039.5 772.3 1040.3C773.4 1041.2 774 1042 774 1042C774 1042 765.7 1042 765.7 1042C765.7 1042 766.2 1037.3 767.3 1037ZM501.5 1224.5C501.5 1224.5 501.1 1219.1 502.3 1217C503.6 1214.9 507.3 1213.5 509 1212C510.7 1210.5 511.2 1207.6 512.3 1207.8C513.4 1208.1 514 1212.1 515.7 1213.7C517.3 1215.2 519.3 1216.4 522.3 1217C525.4 1217.6 534 1217 534 1217C534 1217 534 1224.5 534 1224.5C534 1224.5 501.5 1224.5 501.5 1224.5ZM295.7 1158.7C295.9 1157 297.3 1156.4 299 1155.3C300.7 1154.2 303.2 1153.1 305.7 1152C308.2 1150.9 311.8 1150.3 314 1148.7C316.2 1147 317.3 1144.5 319 1142C320.7 1139.5 322.5 1135.2 324 1133.7C325.5 1132.1 326.8 1132 328.2 1132.8C329.6 1133.7 331.2 1136.6 332.3 1138.7C333.4 1140.8 334.6 1142.6 334.8 1145.3C335.1 1148.1 335 1153.1 334 1155.3C333 1157.6 330.9 1157.6 329 1158.7C327.1 1159.8 324.6 1160.9 322.3 1162C320.1 1163.1 317.6 1163.9 315.7 1165.3C313.7 1166.7 312.3 1168.7 310.7 1170.3C309 1172 307.3 1173.4 305.7 1175.3C304 1177.3 302.1 1180.3 300.7 1182C299.3 1183.7 298.2 1185.6 297.3 1185.3C296.5 1185.1 295.1 1182.3 295.7 1180.3C296.2 1178.4 299.6 1175.9 300.7 1173.7C301.8 1171.4 302.9 1168.4 302.3 1167C301.8 1165.6 298.4 1166.7 297.3 1165.3C296.2 1163.9 295.4 1160.3 295.7 1158.7ZM402.3 1168.7C402.8 1166.7 404.3 1166 405.7 1165.3C407.1 1164.6 408.7 1163.9 410.7 1164.5C412.6 1165.1 415.1 1166.9 417.3 1168.7C419.6 1170.5 422.2 1173.4 424 1175.3C425.8 1177.3 427.9 1178.9 428.2 1180.3C428.4 1181.7 427.2 1183.4 425.7 1183.7C424.1 1183.9 420.5 1181.4 419 1182C417.5 1182.6 417.3 1185.1 416.5 1187C415.7 1188.9 415.2 1191.4 414 1193.7C412.8 1195.9 410.4 1198.7 409 1200.3C407.6 1202 406.5 1203.9 405.7 1203.7C404.8 1203.4 403.6 1200.6 404 1198.7C404.4 1196.7 407.9 1194.2 408.2 1192C408.4 1189.8 406.5 1187.8 405.7 1185.3C404.8 1182.8 403.7 1179.8 403.2 1177C402.6 1174.2 401.9 1170.6 402.3 1168.7ZM380.7 1163.7C380.9 1162.8 382.6 1162.3 384 1163.7C385.4 1165.1 387.1 1169.5 389 1172C390.9 1174.5 393.7 1177 395.7 1178.7C397.6 1180.3 400.1 1180.9 400.7 1182C401.2 1183.1 400.2 1185.3 399 1185.3C397.8 1185.3 395.1 1183.7 393.2 1182C391.2 1180.3 389.1 1177.6 387.3 1175.3C385.5 1173.1 383.4 1170.6 382.3 1168.7C381.2 1166.7 380.4 1164.5 380.7 1163.7ZM316.5 1077C316.6 1076.2 318.6 1075.8 319.8 1076.2C321.1 1076.6 323 1078.2 324 1079.5C325 1080.8 326.1 1082.8 326 1083.7C325.9 1084.5 324.3 1084.9 323.2 1084.5C322 1084.1 320.1 1082.4 319 1081.2C317.9 1079.9 316.4 1077.8 316.5 1077ZM261.5 1145.3C261.8 1143.9 263.1 1142.3 264 1142C264.9 1141.7 266.7 1142.6 267 1143.7C267.3 1144.8 266.4 1147.6 265.7 1148.7C264.9 1149.8 263 1150.9 262.3 1150.3C261.6 1149.8 261.2 1146.7 261.5 1145.3ZM399.8 1157C400.1 1156.2 401.8 1155.5 402.3 1156.2C402.9 1156.9 403.4 1160.3 403.2 1161.2C402.9 1162 401.6 1161.9 401 1161.2C400.4 1160.5 399.6 1157.8 399.8 1157ZM250.3 1045.3C250.6 1044.4 252.6 1043.8 253.2 1044.5C253.8 1045.2 254.3 1048.5 254 1049.5C253.7 1050.5 252.1 1051 251.5 1050.3C250.9 1049.6 250.1 1046.3 250.3 1045.3ZM661.5 1042C661.5 1042 661.4 1046.4 662.3 1048.7C663.3 1050.9 665.8 1053.1 667.3 1055.3C668.9 1057.6 670.4 1059.8 671.5 1062C672.6 1064.2 673 1066.4 674 1068.7C675 1070.9 676.5 1072.6 677.3 1075.3C678.2 1078.1 678.4 1082.8 679 1085.3C679.6 1087.8 679.6 1088.7 680.7 1090.3C681.8 1092 684.1 1093.8 685.7 1095.3C687.2 1096.9 688.4 1099.8 689.8 1099.5C691.2 1099.2 693 1095.8 694 1093.7C695 1091.6 695.9 1089.2 695.7 1087C695.4 1084.8 693.2 1082.8 692.3 1080.3C691.5 1077.8 690.7 1074.5 690.7 1072C690.7 1069.5 690.9 1066.4 692.3 1065.3C693.7 1064.2 696.5 1064.8 699 1065.3C701.5 1065.9 705.1 1067.1 707.3 1068.7C709.6 1070.2 710.9 1072.8 712.3 1074.5C713.7 1076.2 714.3 1078.2 715.7 1078.7C717.1 1079.1 719.3 1078.1 720.7 1077C722.1 1075.9 723.7 1073.7 724 1072C724.3 1070.3 723.7 1067.8 722.3 1067C720.9 1066.2 717.9 1067.8 715.7 1067C713.4 1066.2 711.2 1063.4 709 1062C706.8 1060.6 703.7 1059.9 702.3 1058.7C700.9 1057.4 699.6 1055.6 700.7 1054.5C701.8 1053.4 705.9 1052.6 709 1052C712.1 1051.4 716.8 1052.3 719 1051.2C721.2 1050.1 721.9 1046.9 722.3 1045.3C722.8 1043.8 721.5 1042 721.5 1042C721.5 1042 661.5 1042 661.5 1042ZM652.3 1102C652.9 1100.9 655.1 1098.9 656.5 1099.5C657.9 1100.1 658.9 1103.8 660.7 1105.3C662.5 1106.9 665.4 1107.3 667.3 1108.7C669.3 1110.1 670.4 1111.7 672.3 1113.7C674.3 1115.6 677.6 1118.1 679 1120.3C680.4 1122.6 680.9 1124.9 680.7 1127C680.4 1129.1 679 1132 677.3 1132.8C675.7 1133.7 672.9 1132.4 670.7 1132C668.4 1131.6 665.7 1131.2 664 1130.3C662.3 1129.5 660.7 1128.7 660.7 1127C660.7 1125.3 663.7 1122.6 664 1120.3C664.3 1118.1 663.7 1115.3 662.3 1113.7C660.9 1112 657.2 1111.6 655.7 1110.3C654.1 1109.1 653.7 1107.6 653.2 1106.2C652.6 1104.8 651.8 1103.1 652.3 1102ZM569 1224.5C569 1224.5 572.5 1219.6 574 1217C575.5 1214.4 577.6 1211.7 578.2 1208.7C578.7 1205.6 576.6 1201.7 577.3 1198.7C578 1195.6 580.7 1192.8 582.3 1190.3C584 1187.8 585.9 1186.2 587.3 1183.7C588.7 1181.2 588.7 1177.6 590.7 1175.3C592.6 1173.1 596.2 1172.3 599 1170.3C601.8 1168.4 604.6 1165.9 607.3 1163.7C610.1 1161.4 612.9 1159.2 615.7 1157C618.4 1154.8 621.2 1152.3 624 1150.3C626.8 1148.4 629.6 1146.7 632.3 1145.3C635.1 1143.9 637.9 1143.1 640.7 1142C643.4 1140.9 647.1 1138.9 649 1138.7C650.9 1138.4 651.9 1138.7 652.3 1140.3C652.8 1142 651.9 1145.9 651.5 1148.7C651.1 1151.4 649.1 1155.3 649.8 1157C650.5 1158.7 653.3 1158.9 655.7 1158.7C658 1158.4 661.2 1156.4 664 1155.3C666.8 1154.2 670.1 1152.4 672.3 1152C674.6 1151.6 676.5 1151.7 677.3 1152.8C678.2 1153.9 678.2 1156.9 677.3 1158.7C676.5 1160.5 674.6 1162.6 672.3 1163.7C670.1 1164.8 666.5 1165.1 664 1165.3C661.5 1165.6 659 1164.5 657.3 1165.3C655.7 1166.2 655.4 1168.4 654 1170.3C652.6 1172.3 650.9 1174.5 649 1177C647.1 1179.5 644.3 1182.6 642.3 1185.3C640.4 1188.1 639 1191.2 637.3 1193.7C635.7 1196.2 634.3 1198.1 632.3 1200.3C630.4 1202.6 628.2 1205.1 625.7 1207C623.2 1208.9 620.1 1210.6 617.3 1212C614.6 1213.4 611.5 1213.9 609 1215.3C606.5 1216.7 604 1218.8 602.3 1220.3C600.7 1221.9 599 1224.5 599 1224.5C599 1224.5 569 1224.5 569 1224.5ZM719.8 1123.7C720.1 1121.6 722.2 1119.4 724 1117.8C725.8 1116.3 729.3 1114.1 730.7 1114.5C732.1 1114.9 732.2 1118.2 732.3 1120.3C732.5 1122.4 731.4 1125.1 731.5 1127C731.6 1128.9 733.9 1130.9 733.2 1132C732.5 1133.1 729.1 1133.9 727.3 1133.7C725.5 1133.4 723.6 1132 722.3 1130.3C721.1 1128.7 719.6 1125.8 719.8 1123.7ZM787.3 1189.5C787.9 1188.1 792.1 1188.5 794 1188.7C795.9 1188.8 798 1189.1 799 1190.3C800 1191.6 800.4 1194.6 799.8 1196.2C799.3 1197.7 797.2 1199.4 795.7 1199.5C794.1 1199.6 792.1 1198.7 790.7 1197C789.3 1195.3 786.8 1190.9 787.3 1189.5ZM636.5 1054.5C636.5 1053.6 639.5 1053.4 640.7 1054C641.9 1054.6 643.7 1056.9 643.7 1057.8C643.7 1058.8 641.9 1060.1 640.7 1059.5C639.5 1058.9 636.5 1055.4 636.5 1054.5ZM667.3 1082.8C667.5 1082.2 669.6 1081.5 670.7 1081.7C671.7 1081.8 673.8 1083 673.7 1083.7C673.5 1084.3 670.9 1085.8 669.8 1085.7C668.8 1085.5 667.2 1083.5 667.3 1082.8Z"/>
<path fill="#ea7457" d="M713.3 317C714.4 315.6 719.4 317.3 721.7 318.7C723.9 320.1 725.7 322.8 726.7 325.3C727.6 327.8 728.3 332.6 727.5 333.7C726.7 334.8 723.8 333.1 721.7 332C719.6 330.9 716.4 329.5 715 327C713.6 324.5 712.2 318.4 713.3 317ZM686.7 378.7C688.1 377.2 692.8 377.8 696.7 376.7C700.6 375.6 706.1 373.9 710 372C713.9 370.1 717.8 367.6 720 365.3C722.2 363.1 722.5 358.9 723.3 358.7C724.2 358.4 725.6 361.4 725 363.7C724.4 365.9 721.7 369.5 720 372C718.3 374.5 716 376.4 715 378.7C714 380.9 715 383.1 714.2 385.3C713.3 387.6 711.8 389.8 710 392C708.2 394.2 705.6 396.7 703.3 398.7C701.1 400.6 699.2 402.3 696.7 403.7C694.2 405.1 690.1 407.6 688.3 407C686.5 406.4 686.1 402.8 685.8 400.3C685.6 397.8 684.9 394.5 686.7 392C688.5 389.5 693.6 386.9 696.7 385.3C699.7 383.8 705.3 383.1 705 382.8C704.7 382.6 697.8 383.2 695 383.7C692.2 384.1 689.7 386.2 688.3 385.3C686.9 384.5 685.3 380.1 686.7 378.7ZM730 407C731.1 404.8 736.7 403.1 740 402C743.3 400.9 747.5 399.5 750 400.3C752.5 401.2 754.4 403.7 755 407C755.6 410.3 754.7 417 753.3 420.3C751.9 423.7 749.4 424.8 746.7 427C743.9 429.2 739.2 431.2 736.7 433.7C734.2 436.2 733.3 438.9 731.7 442C730 445.1 728.6 449.2 726.7 452C724.7 454.8 721.7 458.1 720 458.7C718.3 459.2 716.4 457.6 716.7 455.3C716.9 453.1 719.7 448.7 721.7 445.3C723.6 442 726.7 438.7 728.3 435.3C730 432 730.8 428.7 731.7 425.3C732.5 422 733.6 418.4 733.3 415.3C733.1 412.3 728.9 409.2 730 407ZM701.7 487C702.8 484.5 707.2 485.6 710 483.7C712.8 481.7 715.8 477.6 718.3 475.3C720.8 473.1 723.1 470.3 725 470.3C726.9 470.3 728.6 473.1 730 475.3C731.4 477.6 731.7 481.7 733.3 483.7C735 485.6 737.5 485.9 740 487C742.5 488.1 746.4 489.1 748.3 490.3C750.3 491.6 752.2 493.1 751.7 494.5C751.1 495.9 746.9 496.6 745 498.7C743.1 500.7 741.4 503.9 740 507C738.6 510.1 737.8 513.9 736.7 517C735.6 520.1 735 524.5 733.3 525.3C731.7 526.2 728.9 524.8 726.7 522C724.4 519.2 722.8 511.2 720 508.7C717.2 506.2 712.8 508.7 710 507C707.2 505.3 704.7 502 703.3 498.7C701.9 495.3 700.6 489.5 701.7 487ZM766.7 355.3C768.5 353.4 771.9 352.4 775 352C778.1 351.6 785 352.8 785 352.8C785 352.8 785 372 785 372C785 372 779.6 373 776.7 372.8C773.8 372.7 769.6 372.7 767.5 371.2C765.4 369.6 764.3 366.3 764.2 363.7C764 361 764.9 357.3 766.7 355.3ZM679.2 391.7C680.4 391.3 683.8 391.6 684.7 393.3C685.6 395.1 684.3 399.6 684.7 402C685 404.4 684.9 407.3 686.7 407.8C688.4 408.4 692.2 405.2 695 405.3C697.8 405.5 700.7 406.7 703.3 408.7C706 410.6 709.4 414.2 710.8 417C712.2 419.8 712.5 423.1 711.7 425.3C710.8 427.6 707.8 429.8 705.8 430.3C703.9 430.9 701.5 429.8 700 428.7C698.5 427.6 697.5 425.5 696.7 423.7C695.8 421.9 696.2 419.4 695 417.8C693.8 416.3 690.7 416 689.2 414.5C687.6 413 686.9 411 685.8 408.7C684.7 406.3 683.9 402.6 682.5 400.3C681.1 398.1 678.1 396.8 677.5 395.3C676.9 393.9 678 392 679.2 391.7ZM718.3 408.7C719.2 407.6 722.1 406.6 723.3 407C724.6 407.4 726 409.8 725.8 411.2C725.7 412.6 723.8 414.9 722.5 415.3C721.2 415.8 719 414.8 718.3 413.7C717.6 412.6 717.5 409.8 718.3 408.7ZM785 336.7C785 336.7 782.4 337.6 781.7 338.7C781 339.7 780.7 341.6 780.8 342.8C781 344.1 781.8 345.5 782.5 346.2C783.2 346.9 785 347 785 347C785 347 785 336.7 785 336.7ZM819.2 297C820.4 295.8 823.2 295 826.7 294.5C830.1 294 835.3 294 840 294C844.7 294 850.3 294.3 855 294.5C859.7 294.7 866.9 294.4 868.3 295.3C869.7 296.3 865.6 298.7 863.3 300.3C861.1 302 858.1 303.7 855 305.3C851.9 307 848.3 308.8 845 310.3C841.7 311.9 837.9 313.7 835 314.5C832.1 315.3 828.9 316 827.5 315.3C826.1 314.6 827.8 311.7 826.7 310.3C825.6 308.9 822.1 308.4 820.8 307C819.6 305.6 819.4 303.7 819.2 302C818.9 300.3 817.9 298.2 819.2 297ZM904.2 299.5C904.6 298.2 906.5 296.2 908.3 296.2C910.1 296.2 912.5 298.8 915 299.5C917.5 300.2 922.1 299.1 923.3 300.3C924.6 301.6 923.3 304.8 922.5 307C921.7 309.2 918.8 311.2 918.3 313.7C917.9 316.2 920.3 320.2 920 322C919.7 323.8 918.1 324.8 916.7 324.5C915.3 324.2 913.3 321.6 911.7 320.3C910 319.1 907.2 318.9 906.7 317C906.1 315.1 908.5 310.9 908.3 308.7C908.2 306.4 906.5 305.2 905.8 303.7C905.1 302.1 903.8 300.8 904.2 299.5ZM889.2 322.8C889.7 321.7 891.5 320.1 893.3 320.3C895.1 320.6 898.9 323.2 900 324.5C901.1 325.8 900.8 326.9 900 327.8C899.2 328.8 896.7 330.1 895 330C893.3 329.9 891 328.2 890 327C889 325.8 888.6 323.9 889.2 322.8ZM869.2 346.2C870 345.4 872.4 344.6 875 345C877.6 345.4 883.6 347.5 885 348.7C886.4 349.8 885 351.5 883.3 352C881.7 352.5 877.2 352.1 875 351.7C872.8 351.2 871 350.4 870 349.5C869 348.6 868.3 346.9 869.2 346.2ZM796.7 318.7C797.2 317.3 800.1 315.5 801.7 315.3C803.2 315.2 805.7 316.6 805.8 317.8C806 319.1 803.8 321.9 802.5 322.8C801.2 323.8 799.3 324.4 798.3 323.7C797.4 323 796.1 320.1 796.7 318.7ZM785 353.7C785 353.7 786.9 355.3 787.5 357C788.1 358.7 788.5 361.6 788.3 363.7C788.2 365.8 787.2 368.2 786.7 369.5C786.1 370.8 785 371.7 785 371.7C785 371.7 785 353.7 785 353.7ZM785 336.2C785 336.2 790.3 335.2 791.7 336.2C793.1 337.1 793.8 340.3 793.3 342C792.9 343.7 790.6 345.3 789.2 346.2C787.8 347 785 347 785 347C785 347 785 336.2 785 336.2ZM855 477C855.6 477.7 858.9 478.9 861.7 479.5C864.4 480.1 869.2 479.6 871.7 480.3C874.2 481 874.7 484.2 876.7 483.7C878.6 483.1 880.8 479.2 883.3 477C885.8 474.8 891.1 472.6 891.7 470.3C892.2 468.1 888.1 465.2 886.7 463.7C885.3 462.1 884.7 461.2 883.3 461.2C881.9 461.2 879.6 462.3 878.3 463.7C877.1 465.1 877.5 468 875.8 469.5C874.2 471 871.2 471.9 868.3 472.8C865.4 473.8 860.6 474.6 858.3 475.3C856.1 476 854.4 476.3 855 477ZM803.3 480.3C803.9 479.1 806.2 478.2 807.5 478.7C808.8 479.1 810.7 481.3 810.8 482.8C811 484.4 809.4 487.3 808.3 487.8C807.2 488.4 805 487.4 804.2 486.2C803.3 484.9 802.8 481.6 803.3 480.3ZM927.5 340.3C927.9 338.9 930.1 338.4 930.8 339.5C931.6 340.6 932.4 345.6 932 347C931.6 348.4 929.4 348.9 928.7 347.8C927.9 346.7 927.1 341.7 927.5 340.3ZM347.7 623.7C347.8 621.9 350.2 620.3 351.5 620.3C352.8 620.3 355.1 622.1 355.7 623.7C356.2 625.2 355.7 628.2 354.8 629.5C354 630.8 351.9 632.1 350.7 631.2C349.5 630.2 347.5 625.5 347.7 623.7ZM591.5 708.7C592.1 707.1 595.2 704.8 597.3 704.5C599.4 704.2 603.4 706 604 707C604.6 708 602.3 709.2 600.7 710.3C599 711.4 595.5 713.9 594 713.7C592.5 713.4 590.9 710.2 591.5 708.7ZM649 783.7C649.6 781.7 652.1 778.9 654 778.7C655.9 778.4 659.3 780.3 660.7 782C662.1 783.7 662.9 787 662.3 788.7C661.8 790.3 659.3 791.7 657.3 792C655.4 792.3 652.1 791.7 650.7 790.3C649.3 788.9 648.4 785.6 649 783.7ZM292.3 792C292.3 792 292.3 796.7 293.2 798.7C294 800.6 295.8 802.3 297.3 803.7C298.9 805.1 301.1 805.1 302.3 807C303.6 808.9 304.8 812.8 304.8 815.3C304.8 817.8 303.9 820.6 302.3 822C300.8 823.4 297.3 824.2 295.7 823.7C294 823.1 293.2 820.6 292.3 818.7C291.5 816.7 291.8 813.9 290.7 812C289.6 810.1 286.2 808.9 285.7 807C285.1 805.1 286.6 802.8 287.3 800.3C288 797.8 289.8 792 289.8 792C289.8 792 292.3 792 292.3 792ZM330.7 795.3C331.1 793.9 333.2 793.8 335.7 793.7C338.2 793.5 342.9 793.7 345.7 794.5C348.4 795.3 351.4 797.1 352.3 798.7C353.3 800.2 352.6 802.3 351.5 803.7C350.4 805.1 347.8 806.7 345.7 807C343.6 807.3 341.1 806.2 339 805.3C336.9 804.5 334.6 803.7 333.2 802C331.8 800.3 330.2 796.7 330.7 795.3ZM312.3 848.7C313 847.3 314.3 845.3 315.7 845.3C317.1 845.3 319.6 847.3 320.7 848.7C321.8 850.1 322.6 852 322.3 853.7C322.1 855.3 320.4 858 319 858.7C317.6 859.4 315.2 858.7 314 857.8C312.8 857 311.8 855.2 311.5 853.7C311.2 852.1 311.6 850.1 312.3 848.7ZM277.3 898.7C277.3 897.3 280.4 897.6 282.3 898.7C284.3 899.8 286.8 903.1 289 905.3C291.2 907.6 293.7 909.8 295.7 912C297.6 914.2 299.4 916.2 300.7 918.7C301.9 921.2 303.2 924.2 303.2 927C303.2 929.8 301.6 932.8 300.7 935.3C299.7 937.8 298.2 939.8 297.3 942C296.5 944.2 296.5 948.7 295.7 948.7C294.8 948.7 292.5 944.5 292.3 942C292.2 939.5 294 936.2 294.8 933.7C295.7 931.2 297.3 929.2 297.3 927C297.3 924.8 296.2 922.6 294.8 920.3C293.4 918.1 291.1 915.9 289 913.7C286.9 911.4 284.3 909.5 282.3 907C280.4 904.5 277.3 900.1 277.3 898.7Z"/>
<path fill="#f89540" d="M300.7 775.3C300.9 772.6 302.9 768.1 304 765.3C305.1 762.6 306.5 758.9 307.3 758.7C308.2 758.4 309.3 761.2 309 763.7C308.7 766.2 306.8 770.6 305.7 773.7C304.6 776.7 303.2 781.7 302.3 782C301.5 782.3 300.4 778.1 300.7 775.3ZM274.8 973.7C275.2 972.4 277.8 972 279 972.8C280.2 973.7 282.1 976.9 282.3 978.7C282.6 980.5 281.6 983.4 280.7 983.7C279.7 983.9 277.5 982 276.5 980.3C275.5 978.7 274.4 974.9 274.8 973.7ZM289.8 918.7C290.1 917.6 292.1 919.2 293.2 920.3C294.3 921.4 296.2 923.7 296.5 925.3C296.8 927 295.7 930.1 294.8 930.3C294 930.6 292.3 928.9 291.5 927C290.7 925.1 289.6 919.8 289.8 918.7ZM277.3 900.3C277.6 899.6 279.3 900.9 280.7 902.8C282.1 904.8 284.6 909.9 285.7 912C286.8 914.1 287.6 915.1 287.3 915.3C287.1 915.6 285.4 915.1 284 913.7C282.6 912.3 280.1 909.2 279 907C277.9 904.8 277.1 901 277.3 900.3ZM310.7 863.7C310.9 862.7 313.9 861.7 314.8 862C315.8 862.3 316.8 864.4 316.5 865.3C316.2 866.3 314.1 868.1 313.2 867.8C312.2 867.6 310.4 864.6 310.7 863.7ZM294.8 795.3C295 794.2 297.8 793 299 792.8C300.2 792.7 302.5 793.4 302.3 794.5C302.2 795.6 299.4 799.4 298.2 799.5C296.9 799.6 294.7 796.4 294.8 795.3Z"/>
<path fill="#bf3984" d="M513.3 530.7C512.9 529.8 515.3 529.8 516.7 530.7C518.1 531.5 521.2 534.8 521.7 535.7C522.1 536.6 520.6 537 519.2 536.2C517.8 535.3 513.8 531.6 513.3 530.7ZM567.5 297C568.6 295.2 571 294.8 573.3 294.5C575.7 294.2 579.7 294.4 581.7 295.3C583.6 296.3 584.9 298.1 585 300.3C585.1 302.6 583.8 306.3 582.5 308.7C581.2 311 579.4 313.9 577.5 314.5C575.6 315.1 572.6 313.5 570.8 312C569 310.5 567.2 307.8 566.7 305.3C566.1 302.8 566.4 298.8 567.5 297ZM621.7 292C621.7 292 616.7 299.2 615 302C613.3 304.8 611.9 306.4 611.7 308.7C611.4 310.9 613.9 313.1 613.3 315.3C612.8 317.6 610.1 320.3 608.3 322C606.5 323.7 603.6 323.4 602.5 325.3C601.4 327.3 603.2 331.7 601.7 333.7C600.1 335.6 595.6 335.6 593.3 337C591.1 338.4 589.2 340.1 588.3 342C587.5 343.9 587.5 346.4 588.3 348.7C589.2 350.9 591.1 353.7 593.3 355.3C595.6 357 599.4 357 601.7 358.7C603.9 360.3 606.1 363.1 606.7 365.3C607.2 367.6 604.4 370.3 605 372C605.6 373.7 607.8 374.5 610 375.3C612.2 376.2 615.8 375.9 618.3 377C620.8 378.1 624.4 380.1 625 382C625.6 383.9 622.8 387 621.7 388.7C620.6 390.3 619 390.3 618.3 392C617.6 393.7 616.9 396.7 617.5 398.7C618.1 400.6 619.6 402.3 621.7 403.7C623.8 405.1 627.8 407.3 630 407C632.2 406.7 634.3 404.5 635 402C635.7 399.5 633.8 395.2 634.2 392C634.6 388.8 636.1 384.5 637.5 382.8C638.9 381.2 641 381.3 642.5 382C644 382.7 644.9 385.3 646.7 387C648.5 388.7 650.6 390.9 653.3 392C656.1 393.1 660 393.9 663.3 393.7C666.7 393.4 670.8 392 673.3 390.3C675.8 388.7 678.9 386.2 678.3 383.7C677.8 381.2 672.8 377.3 670 375.3C667.2 373.4 664.4 372.3 661.7 372C658.9 371.7 655.6 374.2 653.3 373.7C651.1 373.1 648.1 370.1 648.3 368.7C648.6 367.3 651.9 365.8 655 365.3C658.1 364.9 662.5 366.2 666.7 366.2C670.8 366.2 675.8 364.6 680 365.3C684.2 366 687.8 369.5 691.7 370.3C695.6 371.2 700 371.2 703.3 370.3C706.7 369.5 710.6 367 711.7 365.3C712.8 363.7 711.4 360.6 710 360.3C708.6 360.1 705.8 362.6 703.3 363.7C700.8 364.8 697.8 367 695 367C692.2 367 689.2 365.1 686.7 363.7C684.2 362.3 681.7 360.6 680 358.7C678.3 356.7 678.1 353.9 676.7 352C675.3 350.1 673.6 348.9 671.7 347C669.7 345.1 666.4 342.6 665 340.3C663.6 338.1 662.5 335.6 663.3 333.7C664.2 331.7 668.6 330.3 670 328.7C671.4 327 672.5 325.6 671.7 323.7C670.8 321.7 666.9 319.5 665 317C663.1 314.5 661.7 310.3 660 308.7C658.3 307 656.7 308.1 655 307C653.3 305.9 651.4 304.5 650 302C648.6 299.5 646.7 292 646.7 292C646.7 292 621.7 292 621.7 292ZM661.7 292C661.7 292 661.9 297.3 663.3 298.7C664.7 300.1 668.2 299.5 670 300.3C671.8 301.2 673.6 304.2 674.2 303.7C674.7 303.1 674 298.9 673.3 297C672.6 295.1 670 292 670 292C670 292 661.7 292 661.7 292ZM713.3 298.7C714.7 297 718.3 295.3 721.7 294.5C725 293.7 729.4 293.4 733.3 293.7C737.2 293.9 742.8 294.8 745 296.2C747.2 297.6 747.5 300.2 746.7 302C745.8 303.8 742.8 306.4 740 307C737.2 307.6 733.3 305.3 730 305.3C726.7 305.3 722.8 307.1 720 307C717.2 306.9 714.4 305.9 713.3 304.5C712.2 303.1 711.9 300.3 713.3 298.7ZM735 345.3C736.2 342 738.1 338.7 740 335.3C741.9 332 744.2 328.4 746.7 325.3C749.2 322.3 751.9 319.5 755 317C758.1 314.5 761.9 311.7 765 310.3C768.1 308.9 771.1 308.1 773.3 308.7C775.6 309.2 777.8 311.4 778.3 313.7C778.9 315.9 778.1 319.2 776.7 322C775.3 324.8 772.2 327.3 770 330.3C767.8 333.4 765.8 337.3 763.3 340.3C760.8 343.4 757.8 346.2 755 348.7C752.2 351.2 749.2 353.1 746.7 355.3C744.2 357.6 742.1 360.6 740 362C737.9 363.4 735.4 364.8 734.2 363.7C732.9 362.6 732.4 358.4 732.5 355.3C732.6 352.3 733.8 348.7 735 345.3ZM706.7 317C707.4 317.8 708.6 322.3 708.3 325.3C708.1 328.4 706.7 332.3 705 335.3C703.3 338.4 700.8 341.2 698.3 343.7C695.8 346.2 692.4 348.9 690 350.3C687.6 351.7 685.3 352.3 684.2 352C683.1 351.7 682.4 350.1 683.3 348.7C684.3 347.3 687.8 345.6 690 343.7C692.2 341.7 694.7 339.5 696.7 337C698.6 334.5 700.4 331.4 701.7 328.7C702.9 325.9 703.3 322.3 704.2 320.3C705 318.4 706 316.2 706.7 317ZM723.3 372C724.2 370.9 729.3 369.2 731.7 369.5C734 369.8 736.1 372 737.5 373.7C738.9 375.3 740.7 378.9 740 379.5C739.3 380.1 735.6 377.6 733.3 377C731.1 376.4 728.3 377 726.7 376.2C725 375.3 722.5 373.1 723.3 372ZM690.8 390.3C691.7 389.1 694.7 387.8 696.7 387.8C698.6 387.8 701.7 389.1 702.5 390.3C703.3 391.6 702.8 394.2 701.7 395.3C700.6 396.4 697.6 397 695.8 397C694.1 397 692.2 396.4 691.3 395.3C690.5 394.2 689.9 391.6 690.8 390.3ZM728.3 395.3C728.6 393.7 731.6 391.7 733.3 391.7C735.1 391.7 738.1 393.9 738.7 395.3C739.2 396.8 737.8 399.3 736.7 400.3C735.5 401.4 733.1 402.5 731.7 401.7C730.3 400.8 728.1 397 728.3 395.3ZM613.3 433.7C613.3 431.7 616.7 427.3 618.3 426.2C620 425.1 622.5 425.8 623.3 427C624.2 428.2 624.2 431.9 623.3 433.7C622.5 435.5 620 437.8 618.3 437.8C616.7 437.8 613.3 435.6 613.3 433.7ZM588.7 402C589 400.9 590.9 399.4 592 399.5C593.1 399.6 594.8 401.6 595 402.8C595.2 404.1 594.2 406.4 593.3 407C592.5 407.6 590.8 407 590 406.2C589.2 405.3 588.3 403.1 588.7 402ZM704.2 442C705 439.5 707.6 436.4 710 433.7C712.4 430.9 715.7 427.1 718.3 425.3C721 423.5 724.2 422.6 725.8 422.8C727.5 423.1 728.5 424.9 728.3 427C728.2 429.1 726.9 432.6 725 435.3C723.1 438.1 719.2 441.3 716.7 443.7C714.2 446 711.9 448.7 710 449.5C708.1 450.3 706 449.9 705 448.7C704 447.4 703.3 444.5 704.2 442ZM673.3 418.7C674.7 417.1 678.5 414.5 680 414.5C681.5 414.5 682.5 416.9 682.5 418.7C682.5 420.5 679.4 423.9 680 425.3C680.6 426.7 685.1 425.1 685.8 427C686.5 428.9 685.1 433.7 684.2 437C683.2 440.3 681.2 443.8 680 447C678.8 450.2 678.1 455.1 676.7 456.2C675.3 457.3 672.8 455.7 671.7 453.7C670.6 451.6 670 447 670 443.7C670 440.3 670.8 436.4 671.7 433.7C672.5 430.9 675 428.7 675 427C675 425.3 671.9 425.1 671.7 423.7C671.4 422.3 671.9 420.2 673.3 418.7ZM704.2 465.3C704.9 463.9 707.9 460.8 709.2 460.7C710.5 460.5 711.9 462.9 712 464.5C712.1 466.1 711.2 469.5 710 470.3C708.8 471.2 706 470.3 705 469.5C704 468.7 703.5 466.8 704.2 465.3ZM785 367.8C785 367.8 782.2 372.7 780.8 375.3C779.4 378 778.2 380.9 776.7 383.7C775.1 386.4 773.6 389.5 771.7 392C769.7 394.5 766.8 396.2 765 398.7C763.2 401.2 761 404.2 760.8 407C760.7 409.8 764.3 412.6 764.2 415.3C764 418.1 761.5 420.9 760 423.7C758.5 426.4 756.4 428.9 755 432C753.6 435.1 751.9 438.7 751.7 442C751.4 445.3 753.9 450.3 753.3 452C752.8 453.7 750.6 452.6 748.3 452C746.1 451.4 742.5 448.7 740 448.7C737.5 448.7 734.6 450.3 733.3 452C732.1 453.7 731.9 455.9 732.5 458.7C733.1 461.4 734.9 465.9 736.7 468.7C738.5 471.4 741.4 472.6 743.3 475.3C745.3 478.1 746.7 482.6 748.3 485.3C750 488.1 751.7 491.2 753.3 492C755 492.8 757.8 492 758.3 490.3C758.9 488.7 755.8 484.5 756.7 482C757.5 479.5 761.7 477.8 763.3 475.3C765 472.8 765 468.9 766.7 467C768.3 465.1 770.8 463.7 773.3 463.7C775.8 463.7 779.7 466 781.7 467C783.6 468 785 469.5 785 469.5C785 469.5 785 367.8 785 367.8ZM747.5 498.7C748.1 498.1 752.1 500.6 753.3 502C754.6 503.4 755.6 506.4 755 507C754.4 507.6 751.2 506.7 750 505.3C748.8 503.9 746.9 499.2 747.5 498.7ZM785 292C785 292 813.3 292 813.3 292C813.3 292 814.7 295.1 814.2 297C813.6 298.9 812.1 303.2 810 303.7C807.9 304.1 804.4 300.6 801.7 299.5C798.9 298.4 796.1 297.1 793.3 297C790.6 296.9 785 298.7 785 298.7C785 298.7 785 292 785 292ZM875 292C875 292 871.1 296.3 868.3 298.7C865.6 301 861.7 303.9 858.3 306.2C855 308.4 851.7 310.2 848.3 312C845 313.8 841.7 315.2 838.3 317C835 318.8 831.7 320.9 828.3 322.8C825 324.8 821.7 326.9 818.3 328.7C815 330.5 810.8 331.7 808.3 333.7C805.8 335.6 804.9 337.8 803.3 340.3C801.8 342.8 800.3 345.6 799.2 348.7C798.1 351.7 797.9 355.6 796.7 358.7C795.4 361.7 793.6 365.1 791.7 367C789.7 368.9 785 370.3 785 370.3C785 370.3 785 468.7 785 468.7C785 468.7 786.7 471.2 788.3 471.2C790 471.2 793.3 468.1 795 468.7C796.7 469.2 796.7 473.7 798.3 474.5C800 475.3 803.6 474.9 805 473.7C806.4 472.4 804.7 468.4 806.7 467C808.6 465.6 815.1 467.3 816.7 465.3C818.2 463.4 815.8 458.4 815.8 455.3C815.8 452.3 815.7 448.9 816.7 447C817.6 445.1 821 445.2 821.7 443.7C822.4 442.1 820 440.1 820.8 437.8C821.7 435.6 824.9 432.1 826.7 430.3C828.5 428.5 830.3 426.4 831.7 427C833.1 427.6 833.6 431.7 835 433.7C836.4 435.6 838.6 438.7 840 438.7C841.4 438.7 843.1 436.2 843.3 433.7C843.6 431.2 840.8 426.2 841.7 423.7C842.5 421.2 846.4 420.9 848.3 418.7C850.3 416.4 851.7 412.6 853.3 410.3C855 408.1 856.1 406.4 858.3 405.3C860.6 404.2 864.4 403.1 866.7 403.7C868.9 404.2 870 406.7 871.7 408.7C873.3 410.6 875 414.8 876.7 415.3C878.3 415.9 879.7 413.7 881.7 412C883.6 410.3 886.4 407.8 888.3 405.3C890.3 402.8 891.4 399.8 893.3 397C895.3 394.2 898.1 391.2 900 388.7C901.9 386.2 902.8 383.5 905 382C907.2 380.5 913.1 380.6 913.3 379.5C913.6 378.4 909.2 376.6 906.7 375.3C904.2 374.1 900.7 373.4 898.3 372C896 370.6 893.6 368.9 892.5 367C891.4 365.1 892.9 361.4 891.7 360.3C890.4 359.2 886.7 359.5 885 360.3C883.3 361.2 883.9 364.1 881.7 365.3C879.4 366.6 875.6 367 871.7 367.8C867.8 368.7 862.2 369.9 858.3 370.3C854.4 370.8 852.2 369.9 848.3 370.3C844.4 370.8 838.6 372.6 835 372.8C831.4 373.1 829 373.2 826.7 372C824.3 370.8 820.6 367.3 820.8 365.3C821.1 363.4 825.7 361.6 828.3 360.3C831 359.1 833.9 357.6 836.7 357.8C839.4 358.1 841.9 361 845 362C848.1 363 852.5 363.9 855 363.7C857.5 363.4 859.2 362 860 360.3C860.8 358.7 860.8 355.9 860 353.7C859.2 351.4 856.7 349.2 855 347C853.3 344.8 850.6 343.1 850 340.3C849.4 337.6 850.6 333.2 851.7 330.3C852.8 327.4 854.7 325.3 856.7 322.8C858.6 320.3 861.1 318 863.3 315.3C865.6 312.7 867.5 309.2 870 307C872.5 304.8 875.3 303.2 878.3 302C881.4 300.8 885 300.6 888.3 299.5C891.7 298.4 896.4 296.6 898.3 295.3C900.3 294.1 900 292 900 292C900 292 875 292 875 292ZM931.7 292C931.7 292 933.8 294.9 935 295.3C936.2 295.8 938.3 295.1 939.2 294.5C940 293.9 940 292 940 292C940 292 931.7 292 931.7 292ZM837.5 452.8C837.5 452 839.9 451.4 840.8 452C841.8 452.6 843 455.3 843 456.2C843 457 841.8 457.6 840.8 457C839.9 456.4 837.5 453.7 837.5 452.8ZM833.3 485.3C833.7 484.9 835.3 485.5 835.8 486.2C836.3 486.9 836.7 489 836.3 489.5C836 490 834.2 489.7 833.7 489C833.2 488.3 833 485.8 833.3 485.3ZM368.2 652C368.3 650.3 369 647.6 369.8 646.2C370.7 644.8 372.4 643.2 373.2 643.7C373.9 644.1 374.6 646.9 374.3 648.7C374.1 650.5 372.4 653.2 371.5 654.5C370.6 655.8 369.6 656.6 369 656.2C368.4 655.8 368 653.7 368.2 652ZM274 778.7C274.4 777 277.1 774.8 279 772C280.9 769.2 283.7 765.1 285.7 762C287.6 758.9 289.1 755.9 290.7 753.7C292.2 751.4 293.7 748.4 294.8 748.7C295.9 748.9 296.8 752.6 297.3 755.3C297.9 758.1 298.4 762.6 298.2 765.3C297.9 768.1 297.2 770.5 295.7 772C294.1 773.5 291.2 773.4 289 774.5C286.8 775.6 284.4 777.4 282.3 778.7C280.2 779.9 277.9 782 276.5 782C275.1 782 273.6 780.3 274 778.7ZM316.5 744.5C316.2 742.4 316.5 738.7 317.3 736.2C318.2 733.7 319.8 731.3 321.5 729.5C323.2 727.7 325.4 726.3 327.3 725.3C329.3 724.4 331.8 723.4 333.2 723.7C334.6 723.9 335.8 725.1 335.7 727C335.5 728.9 333.4 732.6 332.3 735.3C331.2 738.1 330.4 741.4 329 743.7C327.6 745.9 325.7 747.8 324 748.7C322.3 749.5 320.2 749.4 319 748.7C317.8 748 316.8 746.6 316.5 744.5ZM477.3 548.7C477.6 547.8 479.6 547.4 480.7 547.8C481.8 548.2 483.7 550.1 484 551.2C484.3 552.2 483.2 553.7 482.3 554C481.5 554.3 479.8 553.7 479 552.8C478.2 551.9 477.1 549.5 477.3 548.7ZM548.2 700.3C548.2 697.8 549.1 694.4 550.7 692C552.2 689.6 554.8 687.6 557.3 686.2C559.8 684.8 562.9 683.5 565.7 683.7C568.4 683.8 571.9 685.1 574 687C576.1 688.9 577.6 692.6 578.2 695.3C578.7 698.1 578.3 701.2 577.3 703.7C576.4 706.2 574.6 708.7 572.3 710.3C570.1 712 566.8 713.4 564 713.7C561.2 713.9 557.9 713.1 555.7 712C553.4 710.9 551.9 708.9 550.7 707C549.4 705.1 548.2 702.8 548.2 700.3ZM579 703.7C580.7 702.3 585.9 702.3 589 700.3C592.1 698.4 594.8 694.2 597.3 692C599.8 689.8 601.5 688 604 687C606.5 686 610 685.6 612.3 686.2C614.7 686.7 616.8 688.2 618.2 690.3C619.6 692.4 620.4 695.6 620.7 698.7C620.9 701.7 620.4 705.3 619.8 708.7C619.3 712 617.2 715.3 617.3 718.7C617.5 722 619.6 725.3 620.7 728.7C621.8 732 622.3 735.3 624 738.7C625.7 742 628.7 745.9 630.7 748.7C632.6 751.4 633.7 753.4 635.7 755.3C637.6 757.3 640.1 760.1 642.3 760.3C644.6 760.6 647.6 758.9 649 757C650.4 755.1 650.1 752 650.7 748.7C651.2 745.3 651.2 740.1 652.3 737C653.4 733.9 655.9 731.7 657.3 730.3C658.7 728.9 659.3 727.8 660.7 728.7C662.1 729.5 663.7 733.7 665.7 735.3C667.6 737 670 737.6 672.3 738.7C674.7 739.8 679 740.1 679.8 742C680.7 743.9 678 747.6 677.3 750.3C676.6 753.1 675.1 756.2 675.7 758.7C676.2 761.2 678.7 763.1 680.7 765.3C682.6 767.6 685.7 769.2 687.3 772C689 774.8 690.2 778.7 690.7 782C691.1 785.3 689.8 792 689.8 792C689.8 792 610.7 792 610.7 792C610.7 792 611.8 785.3 612.3 782C612.9 778.7 614.8 775.1 614 772C613.2 768.9 609.6 766.2 607.3 763.7C605.1 761.2 603.2 758.9 600.7 757C598.2 755.1 594.8 753.9 592.3 752C589.8 750.1 587.3 748.1 585.7 745.3C584 742.6 582.6 738.7 582.3 735.3C582.1 732 582.9 728.1 584 725.3C585.1 722.6 587.6 720.9 589 718.7C590.4 716.4 592.1 713.7 592.3 712C592.6 710.3 592.1 708.9 590.7 708.7C589.3 708.4 585.9 710.3 584 710.3C582.1 710.3 579.8 709.8 579 708.7C578.2 707.6 577.3 705.1 579 703.7ZM559 730.3C559.8 728 562.2 724.4 564 722.8C565.8 721.3 568.3 720.2 569.8 721.2C571.4 722.1 572.2 726 573.2 728.7C574.1 731.3 575.5 734.2 575.7 737C575.8 739.8 574.8 742.8 574 745.3C573.2 747.8 572.6 750.6 570.7 752C568.7 753.4 564.8 753.9 562.3 753.7C559.8 753.4 556.8 752.3 555.7 750.3C554.6 748.4 555.1 744.2 555.7 742C556.2 739.8 558.4 738.9 559 737C559.6 735.1 558.2 732.7 559 730.3ZM669.8 693.7C670.2 692 672.6 689.8 674 689.5C675.4 689.2 677.1 690.3 678.2 692C679.3 693.7 681.1 698.1 680.7 699.5C680.2 700.9 677.2 700.3 675.7 700.3C674.1 700.3 672.5 700.6 671.5 699.5C670.5 698.4 669.4 695.3 669.8 693.7ZM697.3 763.7C697.1 760.3 697.1 755.1 698.2 752C699.3 748.9 701.6 746.4 704 745.3C706.4 744.2 709.6 744.8 712.3 745.3C715.1 745.9 718.6 747 720.7 748.7C722.8 750.3 724.3 752.3 724.8 755.3C725.4 758.4 724.4 763.7 724 767C723.6 770.3 724 773.4 722.3 775.3C720.7 777.3 716.8 778.4 714 778.7C711.2 778.9 708 778.1 705.7 777C703.3 775.9 701.2 774.2 699.8 772C698.4 769.8 697.6 767 697.3 763.7ZM628.2 725.3C628.6 724.1 630 722.3 630.7 722.8C631.4 723.4 632.1 726.3 632.3 728.7C632.6 731 632.4 735.9 632 737C631.6 738.1 630.5 736.4 629.8 735.3C629.2 734.2 628.4 732 628.2 730.3C627.9 728.7 627.8 726.6 628.2 725.3ZM273 824C275.4 823.6 279.2 824.2 282.3 825.3C285.4 826.4 288.6 829.8 291.7 830.7C294.8 831.6 298.6 831.1 301 830.7C303.4 830.2 305.9 827.3 306.3 828C306.8 828.7 305 832.7 303.7 834.7C302.3 836.7 298.8 837.8 298.3 840C297.9 842.2 300.1 845.6 301 848C301.9 850.4 303.9 852.9 303.7 854.7C303.4 856.4 301 859.1 299.7 858.7C298.3 858.2 297 854.2 295.7 852C294.3 849.8 293 847.6 291.7 845.3C290.3 843.1 289.4 840.4 287.7 838.7C285.9 836.9 283 834.7 281 834.7C279 834.7 276.8 836.4 275.7 838.7C274.6 840.9 275 844.7 274.3 848C273.7 851.3 272.8 855.3 271.7 858.7C270.6 862 268.9 865.3 267.7 868C266.4 870.7 264.8 872 264.3 874.7C263.9 877.3 264.4 880.9 265 884C265.6 887.1 266.8 890.4 267.7 893.3C268.6 896.2 269.2 898.9 270.3 901.3C271.4 903.8 273.2 905.3 274.3 908C275.4 910.7 276 914 277 917.3C278 920.7 279.7 924.4 280.3 928C281 931.6 281.1 935.3 281 938.7C280.9 942 280.6 945.6 279.7 948C278.8 950.4 277.4 952 275.7 953.3C273.9 954.7 271 956.2 269 956C267 955.8 264.3 954 263.7 952C263 950 265.7 946.4 265 944C264.3 941.6 261 939.6 259.7 937.3C258.3 935.1 258.6 932.7 257 930.7C255.4 928.7 251.7 927.3 250.3 925.3C249 923.3 248.3 920.9 249 918.7C249.7 916.4 252.8 914.2 254.3 912C255.9 909.8 258.1 907.6 258.3 905.3C258.6 903.1 257 900.7 255.7 898.7C254.3 896.7 251.4 895.6 250.3 893.3C249.2 891.1 248.6 888 249 885.3C249.4 882.7 251.7 879.8 253 877.3C254.3 874.9 255.4 872.9 257 870.7C258.6 868.4 261.7 866.4 262.3 864C263 861.6 261 859.1 261 856C261 852.9 261.9 848.9 262.3 845.3C262.8 841.8 262.8 837.6 263.7 834.7C264.6 831.8 266.1 829.8 267.7 828C269.2 826.2 270.6 824.4 273 824ZM286.5 885.3C286.5 882.8 289.1 880.5 290.7 878.7C292.2 876.9 294 874.5 295.7 874.5C297.3 874.5 299.4 876.6 300.7 878.7C301.9 880.8 302.9 884.2 303.2 887C303.4 889.8 303.6 893.4 302.3 895.3C301.1 897.3 297.6 898.9 295.7 898.7C293.7 898.4 292.2 895.9 290.7 893.7C289.1 891.4 286.5 887.8 286.5 885.3ZM299.8 947C299.6 945.1 301.4 942 302.3 940.3C303.3 938.7 304.4 936.7 305.7 937C306.9 937.3 308.9 940.1 309.8 942C310.8 943.9 311.6 946.9 311.5 948.7C311.4 950.5 310.2 952.3 309 952.8C307.8 953.4 305.5 953 304 952C302.5 951 300.1 948.9 299.8 947ZM316.5 810.3C317.1 809.7 318.9 809.1 319.8 809.5C320.8 809.9 322.5 811.9 322.3 812.8C322.2 813.8 320 815.2 319 815.3C318 815.4 316.9 814.2 316.5 813.3C316.1 812.5 315.9 811 316.5 810.3ZM323.2 833.7C323.9 833 327.9 833.7 329 834.5C330.1 835.3 330.5 838 329.8 838.7C329.1 839.3 325.9 839.2 324.8 838.3C323.7 837.5 322.5 834.3 323.2 833.7ZM302.3 908.7C302.8 907.6 304.7 906.2 305.7 907C306.6 907.8 307.7 911.4 308.2 913.7C308.7 915.9 309.1 919.5 308.7 920.3C308.2 921.2 306.6 919.8 305.7 918.7C304.8 917.6 303.7 915.3 303.2 913.7C302.6 912 301.9 909.8 302.3 908.7ZM579 798.7C579 797 580.7 792 580.7 792C580.7 792 654 792 654 792C654 792 653.7 796.4 653.2 798.7C652.6 800.9 651.9 803.7 650.7 805.3C649.4 807 647.3 808.9 645.7 808.7C644 808.4 642.6 804.8 640.7 803.7C638.7 802.6 636.8 802.4 634 802C631.2 801.6 627.3 801.2 624 801.2C620.7 801.2 617.3 801.4 614 802C610.7 802.6 607.1 803.9 604 804.5C600.9 805.1 598.7 805.3 595.7 805.3C592.6 805.3 588.2 805.1 585.7 804.5C583.2 803.9 581.8 803 580.7 802C579.6 801 579 800.3 579 798.7ZM665.7 792C665.7 792 666.2 796.2 667.3 798.7C668.4 801.2 670.7 803.9 672.3 807C674 810.1 675.8 816.4 677.3 817C678.9 817.6 679.8 812.8 681.5 810.3C683.2 807.8 686.1 805.1 687.3 802C688.6 798.9 689 792 689 792C689 792 665.7 792 665.7 792ZM625.7 837C625.4 835.8 626.8 835.3 628.2 836.2C629.6 837 632.5 840.1 634 842C635.5 843.9 637.2 846.6 637.3 847.8C637.5 849.1 636.1 850.2 634.8 849.5C633.6 848.8 631.4 845.8 629.8 843.7C628.3 841.6 625.9 838.2 625.7 837ZM620.7 915.3C620.8 913.4 622.5 910.5 624 908.7C625.5 906.9 628.2 904.8 629.8 904.5C631.5 904.2 633 905.2 634 907C635 908.8 635.9 912.8 635.7 915.3C635.4 917.8 633.7 920.6 632.3 922C630.9 923.4 628.9 923.9 627.3 923.7C625.8 923.4 624.3 921.7 623.2 920.3C622.1 918.9 620.5 917.3 620.7 915.3ZM609.8 923.7C610 922.6 612.3 921.6 613.2 922C614 922.4 615 925.1 614.8 926.2C614.7 927.3 613.2 929.1 612.3 928.7C611.5 928.2 609.7 924.8 609.8 923.7ZM676.5 925.3C676.8 924.4 677.9 922.4 679 922C680.1 921.6 682.3 922 683.2 922.8C684 923.7 684.4 925.9 684 927C683.6 928.1 681.8 929.4 680.7 929.5C679.6 929.6 678 928.5 677.3 927.8C676.6 927.1 676.2 926.3 676.5 925.3ZM698.2 915.3C697.9 913.4 699.1 910.1 700.7 908.7C702.2 907.3 704.8 907 707.3 907C709.8 907 713.2 907.6 715.7 908.7C718.2 909.8 721.1 911.6 722.3 913.7C723.6 915.8 723.7 919.2 723.2 921.2C722.6 923.1 721.1 924.9 719 925.3C716.9 925.8 713.4 924.5 710.7 923.7C707.9 922.8 704.4 921.7 702.3 920.3C700.2 918.9 698.4 917.3 698.2 915.3ZM757.3 997C757.3 995.3 757.9 992.4 759 992C760.1 991.6 762.3 993.1 764 994.5C765.7 995.9 767.5 998.5 769 1000.3C770.5 1002.1 772.6 1003.4 773.2 1005.3C773.7 1007.3 773.3 1010.9 772.3 1012C771.4 1013.1 769 1012.8 767.3 1012C765.7 1011.2 763.7 1008.7 762.3 1007C760.9 1005.3 759.8 1003.7 759 1002C758.2 1000.3 757.3 998.7 757.3 997ZM612 968.7C611.9 967.4 613.1 963.9 613.7 963.7C614.2 963.4 615.3 965.8 615.3 967C615.4 968.2 614.6 970.9 614 971.2C613.4 971.4 612.1 969.9 612 968.7ZM740.3 978.7C740.2 977.6 741.3 975.9 742 976.2C742.7 976.4 744.2 979.2 744.3 980.3C744.4 981.4 743.3 983.1 742.7 982.8C742 982.6 740.4 979.8 740.3 978.7ZM519 1224.5C519 1224.5 521.5 1221.9 524 1221.2C526.5 1220.5 534 1220.3 534 1220.3C534 1220.3 534 1224.5 534 1224.5C534 1224.5 519 1224.5 519 1224.5ZM594 1198.7C594.1 1196.9 595.4 1195.1 597.3 1193.7C599.3 1192.3 602.9 1191.7 605.7 1190.3C608.4 1188.9 611.5 1187.3 614 1185.3C616.5 1183.4 618.4 1180.9 620.7 1178.7C622.9 1176.4 625.4 1174.5 627.3 1172C629.3 1169.5 630.7 1165.9 632.3 1163.7C634 1161.4 635.7 1159.2 637.3 1158.7C639 1158.1 641.5 1158.7 642.3 1160.3C643.2 1162 642.6 1165.3 642.3 1168.7C642.1 1172 641.4 1177 640.7 1180.3C640 1183.7 639.4 1186.6 638.2 1188.7C636.9 1190.8 635 1192.6 633.2 1192.8C631.4 1193.1 629.4 1191 627.3 1190.3C625.2 1189.6 622.6 1187.8 620.7 1188.7C618.7 1189.5 617.6 1193.4 615.7 1195.3C613.7 1197.3 611.2 1198.8 609 1200.3C606.8 1201.9 604.4 1203.8 602.3 1204.5C600.2 1205.2 597.9 1205.5 596.5 1204.5C595.1 1203.5 593.9 1200.5 594 1198.7ZM723.2 1125.3C723.4 1124.1 725.5 1122 726.5 1122C727.5 1122 729.1 1124.1 729.3 1125.3C729.6 1126.6 728.9 1128.8 728.2 1129.5C727.4 1130.2 725.7 1130.2 724.8 1129.5C724 1128.8 722.9 1126.6 723.2 1125.3Z"/>
<path fill="#d6556d" d="M701.3 497.8C701.7 496.1 702.6 494 704.3 493C706.1 492 709.2 491.8 711.7 491.8C714.1 491.8 717.1 492.1 718.8 493C720.6 493.9 722.1 495.6 722.3 497.2C722.5 498.8 721.4 501.4 720 502.7C718.6 504 716.4 504.4 714 505C711.6 505.6 707.7 506.5 705.7 506.2C703.7 505.9 702.7 504.6 702 503.2C701.3 501.8 700.9 499.5 701.3 497.8ZM795 438.7C795.8 437.4 799.7 436.6 801.7 437C803.6 437.4 806.5 439.8 806.7 441.2C806.8 442.6 804.2 444.8 802.5 445.3C800.8 445.9 797.9 445.6 796.7 444.5C795.4 443.4 794.2 439.9 795 438.7ZM591.5 708.7C592.1 707.1 595.2 704.8 597.3 704.5C599.4 704.2 603.4 706 604 707C604.6 708 602.3 709.2 600.7 710.3C599 711.4 595.5 713.9 594 713.7C592.5 713.4 590.9 710.2 591.5 708.7ZM649 783.7C649.6 781.7 652.1 778.9 654 778.7C655.9 778.4 659.3 780.3 660.7 782C662.1 783.7 662.9 787 662.3 788.7C661.8 790.3 659.3 791.7 657.3 792C655.4 792.3 652.1 791.7 650.7 790.3C649.3 788.9 648.4 785.6 649 783.7Z"/>
<path fill="#a11b9b" d="M745 343.7C745.4 341.4 747.8 337 750 333.7C752.2 330.3 755.6 326.7 758.3 323.7C761.1 320.6 764.4 316.9 766.7 315.3C768.9 313.8 771 313.5 771.7 314.5C772.4 315.5 772.2 318.2 770.8 321.2C769.4 324.1 766 328.8 763.3 332C760.7 335.2 757.6 337.8 755 340.3C752.4 342.8 749.2 346.4 747.5 347C745.8 347.6 744.6 345.9 745 343.7ZM733.3 297.8C733.6 297.1 737.6 295.8 740 295.7C742.4 295.5 746.7 296.1 747.5 297C748.3 297.9 746.5 300.6 745 301.2C743.5 301.7 740.3 300.9 738.3 300.3C736.4 299.8 733.1 298.6 733.3 297.8ZM633.3 337.8C633.5 336.3 637.9 332.7 639.2 332.8C640.4 333 641 337.1 640.8 338.7C640.7 340.2 639.6 342.1 638.3 342C637.1 341.9 633.2 339.4 633.3 337.8ZM629.2 358.7C628.9 357.6 631.8 351.4 633.3 349.5C634.9 347.6 636.8 346.7 638.3 347C639.9 347.3 641 349.8 642.5 351.2C644 352.6 647.9 354.7 647.5 355.3C647.1 356 642.1 354.9 640 355C637.9 355.1 636.8 355.6 635 356.2C633.2 356.8 629.4 359.8 629.2 358.7ZM613.3 366.2C613.8 364.9 616.7 363 618.3 362.8C619.9 362.7 622.4 364.1 623 365.3C623.6 366.6 622.9 369.5 621.7 370.3C620.5 371.2 617.2 371 615.8 370.3C614.4 369.6 612.9 367.4 613.3 366.2ZM662.5 381.2C662.9 380.5 665.3 379.1 666.7 379.5C668.1 379.9 670.6 382.6 670.8 383.7C671.1 384.7 669.4 385.7 668.3 385.7C667.2 385.7 665.1 384.4 664.2 383.7C663.2 382.9 662.1 381.9 662.5 381.2ZM674.2 442.8C674.4 441.3 676.4 437.7 677.5 437C678.6 436.3 680.6 437.3 680.8 438.7C681.1 440.1 680 444.1 679.2 445.3C678.3 446.6 676.7 446.6 675.8 446.2C675 445.7 673.9 444.4 674.2 442.8ZM705.8 442.8C706 441.2 709.4 437.8 711.7 435.3C713.9 432.8 717.1 429.2 719.2 427.8C721.2 426.4 723.5 426.3 724.2 427C724.9 427.7 724.6 429.9 723.3 432C722.1 434.1 718.8 437.3 716.7 439.5C714.6 441.7 712.6 444.8 710.8 445.3C709 445.9 705.7 444.5 705.8 442.8ZM785 382.8C785 382.8 784.2 383.2 783.3 385.3C782.5 387.4 781.7 392 780 395.3C778.3 398.7 775 401.4 773.3 405.3C771.7 409.2 771.7 414.8 770 418.7C768.3 422.6 765.3 425.6 763.3 428.7C761.4 431.7 759.3 434.2 758.3 437C757.4 439.8 757.2 442.6 757.5 445.3C757.8 448.1 758.8 451.7 760 453.7C761.2 455.6 763.3 457.3 765 457C766.7 456.7 769.4 453.4 770 452C770.6 450.6 767.8 450.3 768.3 448.7C768.9 447 771.1 443.4 773.3 442C775.6 440.6 779.7 440.2 781.7 440.3C783.6 440.5 785 442.8 785 442.8C785 442.8 785 433.7 785 433.7C785 433.7 781 427.8 780 425.3C779 422.8 778.6 420.6 779.2 418.7C779.7 416.7 782.4 414.4 783.3 413.7C784.3 412.9 785 414.2 785 414.2C785 414.2 785 382.8 785 382.8ZM858.3 310.3C857.1 309.9 854.2 313 851.7 314.5C849.2 316 846.4 317.8 843.3 319.5C840.3 321.2 836.7 322.7 833.3 324.5C830 326.3 826.7 328.2 823.3 330.3C820 332.4 816.2 335.1 813.3 337C810.4 338.9 807.5 339.8 805.8 342C804.2 344.2 803.2 348.1 803.3 350.3C803.5 352.6 804.6 353.4 806.7 355.3C808.8 357.3 813.9 360.9 815.8 362C817.8 363.1 817.1 362.8 818.3 362C819.6 361.2 821.9 358.9 823.3 357C824.7 355.1 825 351.7 826.7 350.3C828.3 348.9 831.1 348.4 833.3 348.7C835.6 348.9 837.8 350.5 840 352C842.2 353.5 844.4 356.6 846.7 357.8C848.9 359.1 851.2 359.6 853.3 359.5C855.4 359.4 858.9 358.2 859.2 357C859.4 355.8 857.1 353.1 855 352C852.9 350.9 849.2 351.4 846.7 350.3C844.2 349.2 840.8 347 840 345.3C839.2 343.7 839.9 342.3 841.7 340.3C843.5 338.4 849.2 336.2 850.8 333.7C852.5 331.2 850.3 328.1 851.7 325.3C853.1 322.6 858.1 319.5 859.2 317C860.3 314.5 859.6 310.8 858.3 310.3ZM785 382.8C785 382.8 789.4 379.9 791.7 377.8C793.9 375.8 793.6 372.1 798.3 370.3C803.1 368.5 816.2 366.2 820 367C823.8 367.8 822.8 373.1 820.8 375.3C818.9 377.6 811.7 378.1 808.3 380.3C805 382.6 801.9 386.4 800.8 388.7C799.7 390.9 799.6 392.4 801.7 393.7C803.8 394.9 810.1 395.3 813.3 396.2C816.5 397 818.5 399.6 820.8 398.7C823.2 397.7 825.6 393.4 827.5 390.3C829.4 387.3 829.9 382.6 832.5 380.3C835.1 378.1 839.6 377.3 843.3 377C847.1 376.7 851.4 379.2 855 378.7C858.6 378.1 861.7 374.5 865 373.7C868.3 372.8 872.5 372.6 875 373.7C877.5 374.8 879.4 378.4 880 380.3C880.6 382.3 879.7 384.1 878.3 385.3C876.9 386.6 873.2 386.4 871.7 387.8C870.1 389.2 869.7 392.1 869.2 393.7C868.6 395.2 870.1 396.2 868.3 397C866.5 397.8 861.1 397.7 858.3 398.7C855.6 399.6 853.6 400.9 851.7 402.8C849.7 404.8 848.6 408.8 846.7 410.3C844.7 411.9 843.1 412.3 840 412C836.9 411.7 831.1 408.7 828.3 408.7C825.6 408.7 825.8 410.3 823.3 412C820.8 413.7 816.1 418.4 813.3 418.7C810.6 418.9 808.6 414.2 806.7 413.7C804.7 413.1 803.3 413.9 801.7 415.3C800 416.7 798.6 421.7 796.7 422C794.7 422.3 791.9 418.3 790 417C788.1 415.7 785 414.2 785 414.2C785 414.2 785 382.8 785 382.8ZM785 433.7C785 433.7 788.1 438.7 788.3 440.3C788.6 442 787.2 443.2 786.7 443.7C786.1 444.1 785 442.8 785 442.8C785 442.8 785 433.7 785 433.7ZM807.5 425.3C808.2 424.6 810.7 423.6 811.7 424C812.6 424.4 813.6 426.7 813.3 427.8C813.1 428.9 811 430.5 810 430.7C809 430.8 807.9 429.6 807.5 428.7C807.1 427.8 806.8 426.1 807.5 425.3ZM319 740.3C319.1 738.4 319.7 735.5 320.7 733.7C321.6 731.9 323.4 730.3 324.8 729.5C326.2 728.7 328.2 728 329 728.7C329.8 729.4 330.1 731.6 329.8 733.7C329.6 735.8 328.4 739.1 327.3 741.2C326.2 743.2 324.4 745.5 323.2 746.2C321.9 746.9 320.5 746.3 319.8 745.3C319.1 744.4 318.9 742.3 319 740.3ZM555.7 699.5C555.2 696.9 556.8 693.8 558.2 692C559.6 690.2 561.9 688.9 564 688.7C566.1 688.4 569 688.9 570.7 690.3C572.3 691.7 573.6 694.6 574 697C574.4 699.4 574.3 702.6 573.2 704.5C572.1 706.4 569.4 708.1 567.3 708.7C565.2 709.2 562.6 709.4 560.7 707.8C558.7 706.3 556.1 702.1 555.7 699.5ZM607.3 696.2C607.6 694.6 608.6 692.1 609.8 691.2C611.1 690.2 613.4 689.6 614.8 690.3C616.2 691 617.9 693.5 618.2 695.3C618.4 697.1 617.6 699.9 616.5 701.2C615.4 702.4 612.9 703 611.5 702.8C610.1 702.7 608.9 701.4 608.2 700.3C607.5 699.2 607.1 697.7 607.3 696.2ZM608.2 748.7C609 746.7 612.2 742.3 614 742C615.8 741.7 617.3 744.5 619 747C620.7 749.5 622.1 754.2 624 757C625.9 759.8 628.7 761.2 630.7 763.7C632.6 766.2 634.3 768.9 635.7 772C637.1 775.1 638.2 778.7 639 782C639.8 785.3 640.7 792 640.7 792C640.7 792 614 792 614 792C614 792 612.3 786.4 612.3 783.7C612.3 780.9 613.2 778.1 614 775.3C614.8 772.6 617.6 769.8 617.3 767C617.1 764.2 613.7 760.9 612.3 758.7C610.9 756.4 609.7 755.3 609 753.7C608.3 752 607.3 750.6 608.2 748.7ZM667.3 770.3C667.6 767.7 669 766.7 670.7 766.2C672.3 765.6 675.4 765.8 677.3 767C679.3 768.2 681.1 771.2 682.3 773.7C683.6 776.2 684.6 778.9 684.8 782C685.1 785.1 684 792 684 792C684 792 672.3 792 672.3 792C672.3 792 669.8 785.6 669 782C668.2 778.4 667.1 773 667.3 770.3ZM702.3 765.3C702.3 763.2 702.9 760.6 704 758.7C705.1 756.7 707.1 754.6 709 753.7C710.9 752.7 713.9 752.3 715.7 752.8C717.5 753.4 719.1 754.9 719.8 757C720.5 759.1 720.5 762.8 719.8 765.3C719.1 767.8 717.5 770.5 715.7 772C713.9 773.5 710.9 774.6 709 774.5C707.1 774.4 705.1 772.7 704 771.2C702.9 769.6 702.3 767.4 702.3 765.3ZM264.8 912C264.7 910.5 266.4 908.9 267.3 909.5C268.3 910.1 269.8 913 270.7 915.3C271.6 917.7 272.5 922 272.7 923.7C272.8 925.3 272.2 926.2 271.5 925.3C270.8 924.5 269.3 920.9 268.2 918.7C267.1 916.4 265 913.5 264.8 912ZM274 933.7C274.1 931.4 275.1 928.4 275.7 928.7C276.2 928.9 277.1 932.8 277.3 935.3C277.6 937.8 277.4 942.6 277 943.7C276.6 944.8 275.3 943.7 274.8 942C274.3 940.3 273.9 935.9 274 933.7ZM639 792C639 792 640.9 795.5 642.3 797C643.7 798.5 646.2 801.2 647.3 801.2C648.4 801.2 648.9 798.5 649 797C649.1 795.5 648.2 792 648.2 792C648.2 792 639 792 639 792ZM671.5 792C671.5 792 672.3 795.3 673.2 797C674 798.7 675.2 802 676.5 802C677.8 802 679.6 798.7 680.7 797C681.8 795.3 683.2 792 683.2 792C683.2 792 671.5 792 671.5 792ZM701.5 915.3C701.4 913.8 702.6 911.3 704 910.3C705.4 909.4 707.8 909.1 709.8 909.5C711.9 909.9 714.8 911.4 716.5 912.8C718.2 914.2 719.6 916.3 719.8 917.8C720.1 919.4 719.6 921.3 718.2 922C716.8 922.7 713.7 922.4 711.5 922C709.3 921.6 706.5 920.6 704.8 919.5C703.2 918.4 701.6 916.9 701.5 915.3Z"/>
<path fill="#bf3984" d="M800.8 388.7C801.4 386.7 805.4 383.7 808.3 382C811.2 380.3 815.6 378.7 818.3 378.7C821.1 378.7 824.6 379.8 825 382C825.4 384.2 822.8 389.6 820.8 392C818.9 394.4 816 395.9 813.3 396.2C810.7 396.4 807.1 394.9 805 393.7C802.9 392.4 800.3 390.6 800.8 388.7ZM843.3 347C844.3 346.9 846.8 348.4 848.3 349.5C849.9 350.6 851.9 352.6 852.5 353.7C853.1 354.8 852.6 356 851.7 356.2C850.7 356.3 848.2 355.5 846.7 354.5C845.1 353.5 843.1 351.6 842.5 350.3C841.9 349.1 842.4 347.1 843.3 347Z"/>
<path fill="#7e03a8" d="M809.2 345.3C809.6 343.4 814 341.3 816.7 340.3C819.3 339.4 823.8 338.4 825 339.5C826.2 340.6 825 344.6 824.2 347C823.3 349.4 821.2 351.4 820 353.7C818.8 355.9 817.6 360.6 816.7 360.3C815.7 360.1 815.4 354.5 814.2 352C812.9 349.5 808.8 347.3 809.2 345.3ZM821.7 402C821.4 400.2 824.7 395.5 826.7 392C828.6 388.5 831.4 382.6 833.3 381.2C835.3 379.8 836.7 382.1 838.3 383.7C840 385.2 841.1 388.1 843.3 390.3C845.6 392.6 850.7 395.1 851.7 397C852.6 398.9 850.6 400.3 849.2 402C847.8 403.7 845.7 406.4 843.3 407C841 407.6 837.5 406 835 405.3C832.5 404.6 830.6 403.4 828.3 402.8C826.1 402.3 821.9 403.8 821.7 402ZM799.2 372C800 371.2 803.5 370.5 805 370.7C806.5 370.8 808.5 371.8 808.3 372.8C808.2 373.9 805.6 376.6 804.2 377C802.8 377.4 800.8 376.2 800 375.3C799.2 374.5 798.3 372.8 799.2 372ZM321.5 738.7C321.4 737.4 322.3 735.6 323.2 734.5C324 733.4 325.7 731.9 326.5 732C327.3 732.1 328.2 733.9 328.2 735.3C328.2 736.7 327.2 739.2 326.5 740.3C325.8 741.4 324.5 742.3 323.7 742C322.8 741.7 321.6 739.9 321.5 738.7ZM560.7 698.7C560.5 696.6 561.4 694.2 562.3 692.8C563.3 691.4 565 690.3 566.5 690.3C568 690.3 570.4 691.4 571.5 692.8C572.6 694.2 573.2 696.7 573.2 698.7C573.2 700.6 572.5 703 571.5 704.5C570.5 706 568.7 707.7 567.3 707.8C565.9 708 564.3 706.9 563.2 705.3C562.1 703.8 560.8 700.8 560.7 698.7ZM705.7 763.7C705.8 762.1 706.9 759.8 708.2 758.7C709.4 757.6 711.8 756.7 713.2 757C714.6 757.3 716.1 758.8 716.5 760.3C716.9 761.9 716.5 764.6 715.7 766.2C714.8 767.7 712.9 769.2 711.5 769.5C710.1 769.8 708.3 768.8 707.3 767.8C706.4 766.9 705.5 765.2 705.7 763.7ZM672.3 773.7C672.5 772.6 673.9 771.4 674.8 771.7C675.7 771.9 677.3 774 677.7 775.3C678 776.6 677.6 779.1 677 779.5C676.4 779.9 674.8 778.8 674 777.8C673.2 776.9 672.2 774.7 672.3 773.7ZM704.8 915.3C704.6 914.1 706.8 912.7 708.2 912.3C709.6 912 711.8 912.6 713.2 913.3C714.6 914.1 716.2 915.9 716.5 917C716.8 918.1 715.9 919.6 714.8 920C713.7 920.4 711.5 920.3 709.8 919.5C708.2 918.7 705.1 916.5 704.8 915.3Z"/>
<path fill="#5601a4" d="M837.5 397C838.1 396.6 841 397.2 841.7 397.8C842.3 398.4 841.9 400.2 841.3 400.7C840.7 401.1 838.6 400.9 838 400.3C837.4 399.7 836.9 397.4 837.5 397ZM709 915.3C709 914.8 710.7 914.3 711.5 914.5C712.3 914.7 714 916.1 714 916.7C714 917.2 712.3 918.1 711.5 917.8C710.7 917.6 709 915.9 709 915.3Z"/>
<clipPath id="pc0"><rect x="534" y="740" width="206" height="52"/></clipPath>
<g clip-path="url(#pc0)">
<rect x="534" y="740" width="206" height="52" fill="#d6556d"/>
<path fill="#ea7457" d="M533.9 754.4C533.9 754.4 537.4 757.4 539.2 758C541 758.6 543 757.3 544.6 758C546.2 758.7 547.1 761 548.8 762.2C550.5 763.4 552.6 765.1 554.8 765.2C557 765.3 559.8 763.6 562 762.8C564.2 762 565.8 761 568 760.4C570.2 759.8 573.4 758.6 575.2 759.2C577 759.8 578.1 762.4 578.8 764C579.5 765.6 578.9 767.5 579.4 768.8C579.9 770.1 582.3 770.6 581.8 771.8C581.3 773 578.3 774.5 576.4 776C574.5 777.5 571.9 779 570.4 780.8C568.9 782.6 568 784.9 567.4 786.8C566.8 788.7 566.8 792.1 566.8 792.1C566.8 792.1 533.9 792.1 533.9 792.1C533.9 792.1 533.9 754.4 533.9 754.4ZM740.1 740C740.1 740 740.1 792.1 740.1 792.1C740.1 792.1 696.4 792.1 696.4 792.1C696.4 792.1 698.2 788.3 700 786.8C701.8 785.3 704.4 784.4 707.2 783.2C710 782 714 781.2 716.8 779.6C719.6 778 722.2 776.2 724 773.6C725.8 771 726.7 767.2 727.6 764C728.5 760.8 728.6 757.2 729.4 754.4C730.2 751.6 731.3 749.2 732.4 747.2C733.5 745.2 735.2 743.6 736 742.4C736.8 741.2 737.2 740 737.2 740C737.2 740 740.1 740 740.1 740Z"/>
<path fill="#f89540" d="M740.1 758C740.1 758 738.1 760.6 737.2 762.8C736.4 765 735.2 768.2 734.8 771.2C734.4 774.2 734.6 778 734.8 780.8C735 783.6 735.5 786.1 736 788C736.5 789.9 737.8 792.1 737.8 792.1C737.8 792.1 740.1 792.1 740.1 792.1C740.1 792.1 740.1 758 740.1 758Z"/>
<path fill="#bf3984" d="M554.8 740C554.8 740 574.6 740 574.6 740C574.6 740 574.1 743.2 573.4 744.8C572.7 746.4 571.7 748.5 570.4 749.6C569.1 750.7 567.2 750.9 565.6 751.4C564 751.9 562.4 752.7 560.8 752.6C559.2 752.5 557 751.9 556 750.8C555 749.7 555 747.8 554.8 746C554.6 744.2 554.8 740 554.8 740ZM582.4 740C582.4 740 584 747 584.8 749.6C585.6 752.2 585.6 753.9 587.2 755.6C588.8 757.3 591.6 758.8 594.4 759.8C597.2 760.8 601.7 760.8 604 761.6C606.3 762.4 608.2 763.2 608.2 764.6C608.2 766 605.5 768.4 604 770C602.5 771.6 600.3 772.6 599.2 774.2C598.1 775.8 598.6 778.6 597.4 779.6C596.2 780.6 593.6 779.1 592 780.2C590.4 781.3 589.3 784.9 587.8 786.2C586.3 787.5 584.4 787 583 788C581.6 789 579.4 792.1 579.4 792.1C579.4 792.1 691 792.1 691 792.1C691 792.1 690.3 788.3 689.8 785.6C689.3 782.9 688.7 779 688 776C687.3 773 687 770.2 685.6 767.6C684.2 765 681 763 679.6 760.4C678.2 757.8 677.2 754.6 677.2 752C677.2 749.4 679.2 746.8 679.6 744.8C680 742.8 679.6 740 679.6 740C679.6 740 652 740 652 740C652 740 652.7 744.8 652.6 747.2C652.5 749.6 652.1 752.4 651.4 754.4C650.7 756.4 649.7 758.2 648.4 759.2C647.1 760.2 645.2 760.6 643.6 760.6C642 760.6 640.4 760.4 638.8 759.2C637.2 758 635.2 755.4 634 753.2C632.8 751 632.2 748.2 631.6 746C631 743.8 630.4 740 630.4 740C630.4 740 582.4 740 582.4 740ZM697.6 747.2C698.2 745.6 698.4 745.3 700 744.8C701.6 744.3 704.4 744 707.2 744.2C710 744.4 714.2 744.9 716.8 746C719.4 747.1 721.5 748.8 722.8 750.8C724.1 752.8 724.4 755.6 724.6 758C724.8 760.4 724.9 762.8 724 765.2C723.1 767.6 721.2 770.5 719.2 772.4C717.2 774.3 714.4 776 712 776.6C709.6 777.2 707 776.9 704.8 776C702.6 775.1 700.2 773.2 698.8 771.2C697.4 769.2 696.8 766.8 696.4 764C696 761.2 696.2 757.2 696.4 754.4C696.6 751.6 697 748.8 697.6 747.2Z"/>
<path fill="#d6556d" d="M541.6 787.4C541.9 786.5 543.6 785.4 544.6 785.6C545.6 785.8 547.6 787.4 547.8 788.6C548 789.8 546.6 792.4 545.8 792.8C545 793.2 543.5 791.9 542.8 791C542.1 790.1 541.3 788.3 541.6 787.4ZM647.8 782C648.3 780.2 650 778 652 777.2C654 776.4 657.7 776.3 659.8 777.2C661.9 778.1 663.9 780.4 664.6 782.6C665.3 784.8 664.9 788.8 664 790.4C663.1 792 659.2 792.1 659.2 792.1C659.2 792.1 652 792.1 652 792.1C652 792.1 649.7 789.7 649 788C648.3 786.3 647.3 783.8 647.8 782Z"/>
<path fill="#ea7457" d="M649.6 782C650.3 780.7 651.6 779.1 653.2 778.6C654.8 778.1 657.6 778.2 659.2 779C660.8 779.8 662.3 781.5 662.8 783.2C663.3 784.9 663.2 787.8 662.2 789.2C661.2 790.6 658.6 791.5 656.8 791.6C655 791.7 652.7 790.7 651.4 789.8C650.2 788.9 649.7 787.5 649.4 786.2C649.1 784.9 649 783.3 649.6 782Z"/>
<path fill="#a11b9b" d="M614.8 741.2C613.1 741.7 609.1 745.8 608.2 747.8C607.3 749.8 608.3 751.5 609.4 753.2C610.5 754.9 612.7 756.2 614.8 758C616.9 759.8 621.8 761.8 622 764C622.2 766.2 617.6 769.2 616 771.2C614.4 773.2 612.7 774 612.4 776C612.1 778 613.6 781.2 614.2 783.2C614.8 785.2 615.9 786.5 616 788C616.2 789.5 615.1 792.1 615.1 792.1C615.1 792.1 641.2 792.1 641.2 792.1C641.2 792.1 639.8 783.9 638.8 780.8C637.8 777.7 636.6 775.6 635.2 773.6C633.8 771.6 631.5 770.6 630.4 768.8C629.3 767 629.4 764.6 628.6 762.8C627.8 761 626.5 759.2 625.6 758C624.7 756.8 623.7 757 623.2 755.6C622.7 754.2 623.4 751.4 622.6 749.6C621.8 747.8 619.7 746.2 618.4 744.8C617.1 743.4 616.5 740.7 614.8 741.2ZM667.6 768.8C667.8 766.9 668.6 766.1 670 765.8C671.4 765.5 674.2 765.9 676 767C677.8 768.1 679.6 770.1 680.8 772.4C682 774.7 682.7 778.2 683.2 780.8C683.7 783.4 684 786.1 683.8 788C683.6 789.9 682 792.1 682 792.1C682 792.1 672.4 792.1 672.4 792.1C672.4 792.1 671.8 788.1 671.2 785.6C670.6 783.1 669.4 780 668.8 777.2C668.2 774.4 667.4 770.7 667.6 768.8ZM702.4 755.6C703 753.6 703.8 752.8 705.4 752C707 751.2 709.9 750.7 712 750.8C714.1 750.9 716.6 751.4 718 752.6C719.5 753.8 720.3 756.3 720.7 758C721.1 759.7 721.1 761 720.4 762.8C719.8 764.6 718.4 767.2 716.8 768.8C715.2 770.4 712.8 772.2 710.8 772.4C708.8 772.6 706.3 771.4 704.8 770C703.3 768.6 702.2 766.4 701.8 764C701.4 761.6 701.8 757.6 702.4 755.6Z"/>
<path fill="#7e03a8" d="M705.4 762.2C705.8 760.9 706.5 759.5 707.8 758.6C709.1 757.7 711.7 756.7 713.2 756.8C714.7 756.9 716.2 758.2 716.8 759.2C717.4 760.2 717.4 761.4 716.8 762.8C716.2 764.2 714.6 766.5 713.2 767.6C711.8 768.7 709.7 769.6 708.4 769.4C707.2 769.2 706.3 767.6 705.8 766.4C705.3 765.2 705.1 763.5 705.4 762.2ZM671.8 774.2C671.9 773.2 673.3 771.8 674.2 771.8C675.1 771.8 676.8 773.1 677.2 774.2C677.6 775.3 677.2 777.8 676.6 778.4C676 779 674.4 778.5 673.6 777.8C672.8 777.1 671.7 775.2 671.8 774.2Z"/>
</g>
<path d="M329 292.4V1223.0M485 292.4V1223.0M641 292.4V1223.0M797 292.4V1223.0M953 292.4V1223.0M1109 292.4V1223.0M1265 292.4V1223.0" stroke="#b0b0b0" stroke-opacity="0.25" stroke-width="2.1" fill="none"/>
<path d="M229.4 367H1366.3M229.4 497H1366.3M229.4 627H1366.3M229.4 757H1366.3M229.4 887H1366.3M229.4 1017H1366.3M229.4 1147H1366.3" stroke="#b0b0b0" stroke-opacity="0.25" stroke-width="2.1" fill="none"/>
<path d="M229.3 525.3L234.2 530.3L241.7 530.3L245 533.7L248.3 530.3L253.3 527.8L258.3 525.3L261.7 521.2L265 520L265.8 522.8L275 522.8L281.7 527L287.5 531.2L291.7 528.7L296.7 523.7L300 517L300.8 513.7L308.3 514.5L316.7 517.8L318.3 522L318.3 528.7L322.5 530.3L325.8 534.5L327.5 537L330.8 539.5L333.3 542M536.5 537L539 542M543 292L543 308.7L540 314.5L535 317.8L528.3 318.7L523.3 321.2L519.2 317L510 316.7L496.7 317L493.7 321.2L494.7 327.8L493 332.8L487.5 338.7L484.7 344.5L487.5 349.5L496.7 352L505 354.5L513.3 356.2L520 357.8L528.3 363.7L535 369.5L539.2 375.3L540 379.5L546.7 383.7L548.3 390.3L555 394.5L562.5 397.8L565 405.3L573.3 407.8L576.7 413.7L580 423.7L584.2 433.7L587.5 442L588 448.7L591.7 456.2L595 463.7L600 468.7L604.2 472.8L605 477L609.2 477L613.3 473.7L620 476.2L626.7 477L630.8 480.3L630.8 488.7L628.3 495.3L628.3 505.3L631.7 510.3L636.7 515.3L638.3 521.2L642.5 524.5L663.3 525.3L686.7 525.7L696.7 530.3L711.7 542M530 542L556.7 517L573.3 508.7L602.5 497L610.8 495L611.7 497.8L609.2 500.3L617.5 501.2L618.3 507L621.7 513.7L625.8 517L626.7 513.7L629.2 512.8L630 515.3L636.7 516.2M868.8 542L878.3 538.7L888.3 533.7L893.3 537.8L898.8 542M953.3 542L961.7 537L976.7 535.3L995 532.8L1000 528.7L1002.5 522L1008.3 516.2L1018.3 510.3L1031.7 504.5L1045 501.2L1055 498.7L1068.3 499.5L1090 500.7M1071.7 293.7L1081.7 297L1090 299.5M1090 298.7L1212.5 340.7L1264.2 340.7M1295.3 292L1264.2 340.7L1105.8 501.2L1090 500.3M1366.3 338.7L1363.3 341.2L1360 345.3L1359.7 349.5L1360.8 352.8L1358.3 357L1355 365.3L1350 373.7L1343.3 382L1336.7 392L1330 402L1325.8 412L1321.7 422L1320.8 425.3L1322 428.7L1320.8 435.3L1315 447L1306.7 460.3L1299.2 472L1294.2 477L1288.3 487L1281.7 493.7L1275 502L1269.2 513.7L1263.3 523.7L1255 533.7L1246.7 542M333.3 542L337.3 548.7L345.7 552L355.7 556.2L357.3 560.3L358.2 568.7L365.7 567L369 566.2L372.3 571.2L374.8 574.5M374.8 574.5L377.3 565.3L384 562L390.7 558.7L397.3 560.3L404 563.7L409 566.2L417.3 563.7L422.3 557.8L427.3 563.7L430.7 568.7L437.3 572L441.5 573.7L442.3 568.7L452.3 562.8L462.3 561.2L474 559.5L480.7 557L484.8 554.5L489 557.8L495.7 560.7L510.7 562L531.3 542M374.8 574.5L376.5 578.7L372.3 585.3L369.8 592L368.2 598.7L371.5 602L372.7 607L369.8 613.7L368.2 620.3L366.5 628.7L370.7 630.3L374 634.5L378.2 632L383.2 637L389 637.8L391.5 642L395.7 645.3L391.5 652L385.7 658.7L377.3 667L367.3 675.3L359 685.3L352.3 692.8L345.7 694.5L342.3 697L340.7 704.5L335.7 708.7L327.3 712L324.8 717L324.8 727L322.3 733.7L319.8 740.3L317.3 748.7L314 753.7L312.3 767L310.7 778.7L309.8 792M539 542L541.5 552L546.5 558.7L559 563.7L560.7 572L557.3 577L560.7 590.3L565.7 595.3L569 605.3L574.8 608.7L579 618.7L584 624.5L582.3 632L585.7 642L588.2 650.3L589 657L587.3 673.7L583.2 677L580.7 683.7L578.2 687L578.2 692L570.7 694.5L563.2 700.3L559 708.7L552.3 717L544 725.3L540.7 737L534 747L531.3 751.3L535 764L534 775.3L532.7 791.5M711.7 542L730.7 557L749.8 568.3L759 568.7L770.7 567.8L774 568.7L784 571.2L794 573.7L807.3 575.3L817.3 576.2L824.8 579.5L827.3 574.5L834 568.7L838.2 562L839 557M839 558.7L840.7 555.3L864 544L868.8 542M898.8 542L902.3 547L905.7 550L912.3 551.7L922.3 550.7L932.3 549L939 548.7L944.8 550.7L948.2 548.7L949 544.5L954 542M948.2 548.7L932.3 572L920.7 587L899.8 609.5L900.3 708.7L901 792M1144 641.2L1122.3 653.7L1109 659.5L1095.7 667.8L1084 675.3L1074 682.8L1065.7 691.2L1064.8 694.5L1055.7 702L1045.7 708.7L1039 715.3L1029 724.5L1019 735.3L1009 746.2L999 757L989 767L982.3 774.5L978.2 780.3L972.3 786.2L966.5 792M1247.3 542L1240.7 550.3L1227.3 562.8L1215.7 575.3L1205.7 587L1194 598.7L1179.8 610.3L1175.7 616.2L1170.7 620.3L1164.8 627.8L1154 635.3L1144 641.7M309.8 792L307.3 802L306 812L307 820.3L308.2 827.8M308.2 827.8L315.7 826.2L319.8 825.3L321.5 828.7L323.7 832.8L329 831.2L335.7 827.8L340.7 823.7L344 817L347.7 812L352.3 812L362.3 811.2L367.3 808.7L371.5 808.2L379 808.7L532.3 808.7L532.3 792M308.2 827.8L302.3 831.2L295.7 835.3L290.7 842L286.5 848.7L284 855.3L284.8 863.7L282.3 872L276.5 875.3L270.7 880.3L269.8 887L271.5 893.7L274 897L278.2 897M352.3 812L357.3 822L365.7 828.7L369 835.3L372.3 842L372.7 850.3L371.5 857L374.8 862L375.7 867L373.2 875.3L372.3 879.5M278.2 892.8L285.7 892L292.3 895.3L294.8 900.3L299 902.8L309 902L317.3 900.3L322.3 898.7L325.7 892L326 883.7L326.5 877L332.3 880.3L337.3 882.8L340.7 878.7L349 877L354 880.3L360.7 880.3L367.3 878.7L372.3 879.5M357.3 881.2L354 888.7L352.3 895.3L355.7 896.2L352.3 902L352.3 907L362.3 910.3L372.3 912L370.7 915.3L372.3 920.3L371.5 925.3L362.3 930.3L360.7 935.3L354 938.7L351.5 942L349.8 948.7L348.2 953.7L344 957L339 965.3L334 972L329 977.8L324 982L317.3 985.3L314.8 988.7L299 987.8M278.2 892.8L277.3 900.3L280.7 907L285.7 913.7L289 918.7L289 930.3L288.2 942L288.2 955.3L290.7 963.7L294.8 972L297.3 980.3L299 987.8L298.2 997L294.8 1005.3L294 1013.7L297.3 1023.7L300.7 1032L304.8 1042M534 807.8L537.3 809.5L727.3 915.3L728.2 922L729.8 927.8L727.3 931.2L724 933.7L724.8 938.7L729.8 939.5L732.3 945.3L807.3 1000.3M839 941.2L837.3 943.7L838.2 946.2M839 957L834 963.7L832.3 967L829 968.7L832.3 971.2L829 977L826.5 983.7L823.2 990.3L817.3 995.3L810.7 997L807.3 1000.3L808.2 1007L804.8 1015.3L802.3 1022L803.2 1028.7L799.8 1035.3L796.5 1042M839 1010.3L833.2 1012L832.3 1022L834 1028.7L831.5 1035.3L828.2 1042M900.3 792L900.3 802L929.8 838.7L929.8 843.7M967.3 792L962.3 797.8L955.7 801.2L952.3 806.2L950.3 804L951.5 808.7L947.3 817L944.3 818.7L945.7 820.3L939 830.3L932.3 840.3L925.7 848.7L917.3 857.8L912.3 856.7L909 859.5L902.3 860.3L901.5 855.3L899 862L895.7 858.3L894 859.5L896.5 865.3L898.2 870.3L902.3 867L909 865.3L909.8 862.8L905.7 863.7L905.7 868.7L899.8 871.2L898.2 876.2L896.5 872L894 873.7L889.8 875.3L890.7 880.3L887.3 883.7L883.2 887.8L877.3 887.8L869 890.3L862.3 895.3L859 902L858.2 908.7L861 911.7L858.2 915.3L855.7 923.7L850.7 928.7L847.7 930L845.7 937L843.2 943.7L840.3 945.3L840.7 947.8L839 958.7M839 1012L842.3 1011.7L843.2 1016.2L841.5 1022L843.2 1028.7L840.7 1037L839 1040.3M304.8 1042L308.2 1047L309.8 1053.7L307.3 1058.7L303.2 1063.7L301.5 1069.5L303.2 1077L305.7 1083.7L309.8 1090.3L312.3 1097L317.3 1102.8L324 1107.8L330.7 1111.2L335.7 1115.3L340.7 1121.2L345.7 1128.7L349 1137L351.5 1147L355.7 1155.3L360.7 1163.7L364.8 1172L367.7 1182L369.8 1188.7L374 1195.3L379 1200.3L384.8 1204.5L389 1202.8L393.2 1204.5L398.2 1203.3L402.3 1206.2L408.2 1208.7L410.7 1214.5L415.7 1219.5L420.7 1218.7L427.3 1220.3L430.7 1221.7M367.7 1182.8L271.5 1197.5L274 1202.8L273.2 1208.7L269 1215.3L263.2 1223M797.3 1042L794 1047L791.5 1053.7L789 1060.3L785.7 1068.7L786.5 1075.3L789.8 1080.3L790.7 1087L795.7 1092L802.3 1095.3L807.3 1100.3L811.5 1105.3L814 1110.3L819.8 1112L824.8 1117L826.5 1122L824.8 1127L820.7 1130.3L817.3 1135.3L815.7 1140.3L814 1147L812.3 1153.7L814 1158.7L810.7 1162.8L815.7 1161.2L819.8 1166.2L820.7 1172L818.2 1178.7L814 1185.3L812.3 1190.3L814 1197L815.7 1203.7L817.3 1210.3L820.7 1216.2L824.8 1220.3L822.3 1222L817.3 1218.7M814 1054.5L816.5 1057L817.3 1063.7L820.7 1070.3L823.2 1075.3L824.8 1074.5L826.5 1082L827.3 1089.5L824 1092L820.7 1090.3L819.8 1086.2L815.7 1085.3L811.5 1082L809 1077L806.5 1073.7L808.2 1068.7L807.3 1062L808.2 1057L811.5 1060.3L814 1054.5M827.5 1170L833.3 1166.2L838.3 1161.2L841.7 1157L845 1153.7L845.3 1157L844.2 1162L841.7 1167L839.2 1169.5L836.7 1170.3L838.3 1172.8L836.7 1175.3L834.2 1177.3L833 1175.3L834.2 1172L830.8 1171.2L827.5 1170M828.2 1042L830.7 1043.7" stroke="#000" stroke-width="2.1" fill="none" stroke-linejoin="round" stroke-linecap="round"/>
</g>
<rect x="229.4" y="292.4" width="1136.9" height="930.6" fill="none" stroke="#000" stroke-width="3.3"/>
<text x="797.8" y="209.6" font-size="50" text-anchor="middle">Temp(°C) @ 20251018_15</text>
<text x="812.8" y="266.6" font-size="50" text-anchor="middle">Simulation Time: 20251017_12</text>
<text x="208" y="378.6" font-size="41.67" text-anchor="end" letter-spacing="-0.35">7.5°N</text>
<text x="208" y="508.6" font-size="41.67" text-anchor="end" letter-spacing="-0.35">5°N</text>
<text x="208" y="638.6" font-size="41.67" text-anchor="end" letter-spacing="-0.35">2.5°N</text>
<text x="208" y="768.6" font-size="41.67" text-anchor="end" letter-spacing="-0.35">0°</text>
<text x="208" y="898.6" font-size="41.67" text-anchor="end" letter-spacing="-0.35">2.5°S</text>
<text x="208" y="1028.6" font-size="41.67" text-anchor="end" letter-spacing="-0.35">5°S</text>
<text x="208" y="1158.6" font-size="41.67" text-anchor="end" letter-spacing="-0.35">7.5°S</text>
<text x="329.5" y="1276.7" font-size="41.67" text-anchor="middle" letter-spacing="-0.35">30°E</text>
<text x="485.5" y="1276.7" font-size="41.67" text-anchor="middle" letter-spacing="-0.35">33°E</text>
<text x="641.5" y="1276.7" font-size="41.67" text-anchor="middle" letter-spacing="-0.35">36°E</text>
<text x="797.5" y="1276.7" font-size="41.67" text-anchor="middle" letter-spacing="-0.35">39°E</text>
<text x="953.5" y="1276.7" font-size="41.67" text-anchor="middle" letter-spacing="-0.35">42°E</text>
<text x="1109.5" y="1276.7" font-size="41.67" text-anchor="middle" letter-spacing="-0.35">45°E</text>
<text x="1265.5" y="1276.7" font-size="41.67" text-anchor="middle" letter-spacing="-0.35">48°E</text>
<rect x="1437.0" y="232.4" width="57.7" height="105.6" fill="#f7e425"/>
<rect x="1437.0" y="337.4" width="57.7" height="105.6" fill="#feba2c"/>
<rect x="1437.0" y="442.5" width="57.7" height="105.6" fill="#f89540"/>
<rect x="1437.0" y="547.5" width="57.7" height="105.6" fill="#ea7457"/>
<rect x="1437.0" y="652.5" width="57.7" height="105.6" fill="#d6556d"/>
<rect x="1437.0" y="757.5" width="57.7" height="105.6" fill="#bf3984"/>
<rect x="1437.0" y="862.6" width="57.7" height="105.6" fill="#a11b9b"/>
<rect x="1437.0" y="967.6" width="57.7" height="105.6" fill="#7e03a8"/>
<rect x="1437.0" y="1072.6" width="57.7" height="105.6" fill="#5601a4"/>
<rect x="1437.0" y="1177.7" width="57.7" height="105.6" fill="#2a0593"/>
<path d="M1437.0 232.7L1465.8 179.9L1494.7 232.7Z" fill="#f0f921"/>
<path d="M1437.0 1283.0L1465.8 1336.0L1494.7 1283.0Z" fill="#0d0887"/>
<path d="M1437.0 232.7L1465.8 179.9L1494.7 232.7L1494.7 1283.0L1465.8 1336.0L1437.0 1283.0Z" fill="none" stroke="#000" stroke-width="3.3" stroke-linejoin="miter"/>
<path d="M1496.3 337.7H1510.9" stroke="#000" stroke-width="3.3"/>
<text x="1524.2" y="353.2" font-size="41.67" letter-spacing="-0.35">40</text>
<path d="M1496.3 547.8H1510.9" stroke="#000" stroke-width="3.3"/>
<text x="1524.2" y="563.3" font-size="41.67" letter-spacing="-0.35">30</text>
<path d="M1496.3 757.9H1510.9" stroke="#000" stroke-width="3.3"/>
<text x="1524.2" y="773.4" font-size="41.67" letter-spacing="-0.35">20</text>
<path d="M1496.3 967.9H1510.9" stroke="#000" stroke-width="3.3"/>
<text x="1524.2" y="983.4" font-size="41.67" letter-spacing="-0.35">10</text>
<path d="M1496.3 1178.0H1510.9" stroke="#000" stroke-width="3.3"/>
<text x="1524.2" y="1193.5" font-size="41.67" letter-spacing="-0.35">0</text>
</svg></body></html>
